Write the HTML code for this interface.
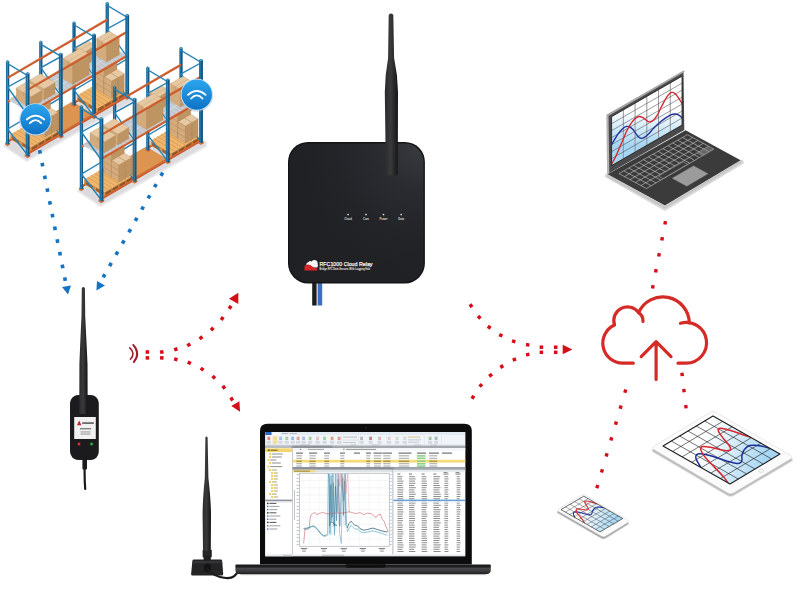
<!DOCTYPE html>
<html><head><meta charset="utf-8"><title>RFC1000 Cloud Relay system</title>
<style>
html,body{margin:0;padding:0;background:#fff;}
body{width:800px;height:600px;overflow:hidden;font-family:"Liberation Sans",sans-serif;}
svg{display:block}
text{font-family:"Liberation Sans",sans-serif;}
</style></head><body>
<svg width="800" height="600" viewBox="0 0 800 600">
<rect width="800" height="600" fill="#ffffff"/>
<defs>
<linearGradient id="antG" x1="0" x2="1" y1="0" y2="0"><stop offset="0" stop-color="#2b2b2d"/><stop offset="0.45" stop-color="#3a3a3c"/><stop offset="1" stop-color="#151516"/></linearGradient>
<linearGradient id="rtG" x1="0" x2="1" y1="0" y2="0"><stop offset="0" stop-color="#1b1b1d"/><stop offset="0.93" stop-color="#1d1d1f"/><stop offset="1" stop-color="#2c2c2e"/></linearGradient>
<radialGradient id="rtR" cx="0.97" cy="0.03" r="0.9"><stop offset="0" stop-color="#393a40"/><stop offset="0.35" stop-color="#2a2b30"/><stop offset="0.7" stop-color="#232428"/><stop offset="1" stop-color="#202125"/></radialGradient>
<linearGradient id="bcG" x1="0" x2="0" y1="0" y2="1"><stop offset="0" stop-color="#2ca6ee"/><stop offset="1" stop-color="#0e72c6"/></linearGradient>
</defs>
<path d="M84.6,458 L84.6,472 Q84.6,482 85.2,489" fill="none" stroke="#1a1a1a" stroke-width="2.2" stroke-linecap="round"/>
<rect x="82.4" y="458" width="4.6" height="11.5" rx="1" fill="#1c1c1c"/>
<path d="M70,404 Q70,399 74,396.2 Q76,395 79,395 L90,395 Q93,395 95,396.2 Q98.8,399 98.8,404 L98.8,451 Q98.8,456 95,458.8 Q93,460 90,460 L79,460 Q76,460 74,458.8 Q70,456 70,451 Z" fill="#1b1b1d"/>
<path d="M81.8,288.2 Q83.3,285.8 84.9,288.2 L85.2,316 Q86.6,343 87.5,364 L87.7,414 L79.3,414 L79.4,364 Q80.2,343 81.5,316 Z" fill="url(#antG)"/>
<rect x="74.2" y="417" width="21.6" height="22" fill="#f1f1f2"/>
<polygon points="77,425.2 79.2,420.6 81.4,425.2" fill="#c8202a"/>
<rect x="82.2" y="422.2" width="11.6" height="1.8" fill="#555" opacity="0.85"/>
<rect x="80" y="428" width="11" height="1.4" fill="#666" opacity="0.8"/>
<rect x="80.5" y="431.5" width="10" height="0.9" fill="#8a8a8a"/>
<rect x="80.5" y="433.6" width="10" height="0.9" fill="#8a8a8a"/>
<circle cx="79" cy="444" r="2.1" fill="#7a1a1f" opacity="0.6"/><circle cx="79" cy="444" r="1.2" fill="#e0303a"/>
<circle cx="91.6" cy="444" r="2.1" fill="#1a5a25" opacity="0.6"/><circle cx="91.6" cy="444" r="1.2" fill="#3ab04a"/>
<rect x="312.2" y="276" width="4.4" height="29.5" fill="#1d1d1d"/>
<rect x="317.6" y="276" width="4.6" height="29.5" fill="#3c6fbf"/>
<rect x="288" y="142" width="136.9" height="141.4" rx="20" ry="20" fill="#141416"/><rect x="289.4" y="143.4" width="134.1" height="138.6" rx="18.8" ry="18.8" fill="url(#rtR)"/>
<path d="M388.7,15 Q391,12.2 393.3,15 L394.1,58 Q397.8,75 398,92 L397.8,173.5 Q397.8,175.5 395.8,175.5 L388,175.5 Q386,175.5 385.9,173.5 L384.8,92 Q385,75 388.1,58 Z" fill="url(#antG)"/>
<circle cx="348.1" cy="214.5" r="0.85" fill="#e8e8e8"/>
<text x="348.1" y="219.5" font-size="2.7" fill="#dcdcdc" text-anchor="middle" font-weight="bold">Cloud</text>
<circle cx="366" cy="214.5" r="0.85" fill="#e8e8e8"/>
<text x="366" y="219.5" font-size="2.7" fill="#dcdcdc" text-anchor="middle" font-weight="bold">Com</text>
<circle cx="383.5" cy="214.5" r="0.85" fill="#e8e8e8"/>
<text x="383.5" y="219.5" font-size="2.7" fill="#dcdcdc" text-anchor="middle" font-weight="bold">Power</text>
<circle cx="401.2" cy="214.5" r="0.85" fill="#e8e8e8"/>
<text x="401.2" y="219.5" font-size="2.7" fill="#dcdcdc" text-anchor="middle" font-weight="bold">Data</text>
<path d="M306.6,266.6 Q305.4,263 308.4,262.2 Q309.6,260.4 311.6,261.5 Q313.2,259.6 315.7,260.3 Q318.2,261.5 317.6,264.2 Q318.8,265.8 317.2,267.4 L309,267.4 Z" fill="#f4f4f4"/>
<path d="M304.5,270.6 L304.5,266.2 Q305.6,264.4 308.2,264.5 Q311,264.8 313,267 Q315,268.7 317.2,268 L317.2,270.6 Z" fill="#d8232b"/>
<text x="319.5" y="265.7" font-size="6.1" fill="#f4f4f4" stroke="#f4f4f4" stroke-width="0.25" textLength="53" lengthAdjust="spacingAndGlyphs">RFC1000 Cloud Relay</text>
<text x="319.5" y="269.5" font-size="2.9" fill="#ececec" textLength="50.5" lengthAdjust="spacingAndGlyphs" font-weight="bold">Bridge RFC Data Sensors With Logging Hub</text>
<path d="M193.8,559.6 L220.8,559.6 Q222,559.6 222.2,561 L223.2,574 Q223.3,575.6 221.8,575.6 L192.4,575.6 Q191,575.6 191.1,574 L192.4,561 Q192.6,559.6 193.8,559.6 Z" fill="#242425"/>
<path d="M192.6,561 L222,561 L222.2,563.2 L192.4,563.2 Z" fill="#343436"/>
<rect x="202.6" y="549.5" width="9.2" height="8" rx="1" fill="#252527"/>
<rect x="203.6" y="556" width="7.2" height="4.5" fill="#1f1f20"/>
<path d="M205.4,437.5 Q206.5,435.6 207.6,437.5 L208.4,478 Q210.9,500 211,515 L210.8,549 Q210.8,551 208.8,551 L205,551 Q203,551 203,549 L202.6,515 Q202.6,500 204.8,478 Z" fill="url(#antG)"/>
<ellipse cx="207.4" cy="568" rx="3.6" ry="4.2" fill="#131314"/>
<path d="M207.2,568.5 Q211,574.5 220,577 Q230,579.6 234.2,576.2 Q237.2,573.6 238.6,570.6" fill="none" stroke="#1b1b1c" stroke-width="2.3" stroke-linecap="round"/>
<polygon points="2.60,146.00 26.60,162.00 133.20,101.80 133.20,96.80 107.20,85.80" fill="#e9e9eb" />
<polygon points="4.60,145.50 26.60,160.00 131.20,100.80 130.20,96.80 107.20,85.80" fill="#dcdcdf" />
<line x1="7.60" y1="141.70" x2="107.20" y2="83.50" stroke="#c9592a" stroke-width="2.2" />
<line x1="7.60" y1="140.90" x2="107.20" y2="82.70" stroke="#de7946" stroke-width="0.6" />
<polygon points="76.66,100.15 97.46,112.63 97.46,108.13 76.66,95.65" fill="#d9924a" />
<polygon points="97.46,112.63 125.34,96.33 125.34,91.83 97.46,108.13" fill="#c27c38" />
<polygon points="76.66,95.65 104.54,79.35 125.34,91.83 97.46,108.13" fill="#eeb56c" />
<line x1="80.14" y1="93.61" x2="100.94" y2="106.09" stroke="#cf8d45" stroke-width="0.55" />
<line x1="83.63" y1="91.57" x2="104.43" y2="104.05" stroke="#cf8d45" stroke-width="0.55" />
<line x1="87.11" y1="89.54" x2="107.91" y2="102.02" stroke="#cf8d45" stroke-width="0.55" />
<line x1="90.60" y1="87.50" x2="111.40" y2="99.98" stroke="#cf8d45" stroke-width="0.55" />
<line x1="94.09" y1="85.46" x2="114.89" y2="97.94" stroke="#cf8d45" stroke-width="0.55" />
<line x1="97.57" y1="83.43" x2="118.37" y2="95.91" stroke="#cf8d45" stroke-width="0.55" />
<line x1="101.06" y1="81.39" x2="121.86" y2="93.87" stroke="#cf8d45" stroke-width="0.55" />
<polygon points="98.29,111.84 103.59,108.74 103.59,105.74 98.29,108.84" fill="#8a5424" />
<polygon points="105.26,107.77 110.56,104.67 110.56,101.67 105.26,104.77" fill="#8a5424" />
<polygon points="112.24,103.69 117.54,100.59 117.54,97.59 112.24,100.69" fill="#8a5424" />
<polygon points="119.21,99.62 124.51,96.52 124.51,93.52 119.21,96.62" fill="#8a5424" />
<polygon points="78.22,100.78 85.50,105.15 85.50,102.15 78.22,97.78" fill="#9a6330" />
<polygon points="88.62,107.02 95.90,111.39 95.90,108.39 88.62,104.02" fill="#9a6330" />
<polygon points="42.46,120.63 62.46,132.63 92.34,115.17 92.34,113.77 72.34,101.77 42.46,119.23" fill="#c47a3a" />
<polygon points="42.46,119.23 72.34,101.77 92.34,113.77 62.46,131.23" fill="#dc9450" />
<polygon points="10.26,138.95 31.06,151.43 31.06,146.93 10.26,134.45" fill="#d9924a" />
<polygon points="31.06,151.43 58.94,135.13 58.94,130.63 31.06,146.93" fill="#c27c38" />
<polygon points="10.26,134.45 38.14,118.15 58.94,130.63 31.06,146.93" fill="#eeb56c" />
<line x1="13.74" y1="132.41" x2="34.54" y2="144.89" stroke="#cf8d45" stroke-width="0.55" />
<line x1="17.23" y1="130.37" x2="38.03" y2="142.85" stroke="#cf8d45" stroke-width="0.55" />
<line x1="20.71" y1="128.34" x2="41.51" y2="140.82" stroke="#cf8d45" stroke-width="0.55" />
<line x1="24.20" y1="126.30" x2="45.00" y2="138.78" stroke="#cf8d45" stroke-width="0.55" />
<line x1="27.69" y1="124.26" x2="48.49" y2="136.74" stroke="#cf8d45" stroke-width="0.55" />
<line x1="31.17" y1="122.23" x2="51.97" y2="134.71" stroke="#cf8d45" stroke-width="0.55" />
<line x1="34.66" y1="120.19" x2="55.46" y2="132.67" stroke="#cf8d45" stroke-width="0.55" />
<polygon points="31.89,150.64 37.19,147.54 37.19,144.54 31.89,147.64" fill="#8a5424" />
<polygon points="38.86,146.57 44.16,143.47 44.16,140.47 38.86,143.57" fill="#8a5424" />
<polygon points="45.84,142.49 51.14,139.39 51.14,136.39 45.84,139.49" fill="#8a5424" />
<polygon points="52.81,138.42 58.11,135.32 58.11,132.32 52.81,135.42" fill="#8a5424" />
<polygon points="11.82,139.58 19.10,143.95 19.10,140.95 11.82,136.58" fill="#9a6330" />
<polygon points="22.22,145.82 29.50,150.19 29.50,147.19 22.22,142.82" fill="#9a6330" />
<polygon points="104.75,86.20 107.20,87.70 109.65,86.20 109.65,84.20 107.20,85.60 104.75,84.20" fill="#d0622d" />
<polygon points="104.75,86.20 107.20,87.70 107.20,85.60 104.75,84.20" fill="#e07a45" />
<polygon points="105.55,85.30 107.20,86.30 107.20,3.80 105.55,2.80" fill="#1f74a6" />
<polygon points="107.20,86.30 108.85,85.30 108.85,2.80 107.20,3.80" fill="#145681" />
<polygon points="105.55,2.80 107.20,3.80 108.85,2.80 107.20,1.80" fill="#3f8fbe" />
<rect x="106.13" y="80.80" width="0.7" height="1.0" fill="#1a5e88" opacity="0.7"/>
<rect x="106.13" y="77.60" width="0.7" height="1.0" fill="#1a5e88" opacity="0.7"/>
<rect x="106.13" y="74.40" width="0.7" height="1.0" fill="#1a5e88" opacity="0.7"/>
<rect x="106.13" y="71.20" width="0.7" height="1.0" fill="#1a5e88" opacity="0.7"/>
<rect x="106.13" y="68.00" width="0.7" height="1.0" fill="#1a5e88" opacity="0.7"/>
<rect x="106.13" y="64.80" width="0.7" height="1.0" fill="#1a5e88" opacity="0.7"/>
<rect x="106.13" y="61.60" width="0.7" height="1.0" fill="#1a5e88" opacity="0.7"/>
<rect x="106.13" y="58.40" width="0.7" height="1.0" fill="#1a5e88" opacity="0.7"/>
<rect x="106.13" y="55.20" width="0.7" height="1.0" fill="#1a5e88" opacity="0.7"/>
<rect x="106.13" y="52.00" width="0.7" height="1.0" fill="#1a5e88" opacity="0.7"/>
<rect x="106.13" y="48.80" width="0.7" height="1.0" fill="#1a5e88" opacity="0.7"/>
<rect x="106.13" y="45.60" width="0.7" height="1.0" fill="#1a5e88" opacity="0.7"/>
<rect x="106.13" y="42.40" width="0.7" height="1.0" fill="#1a5e88" opacity="0.7"/>
<rect x="106.13" y="39.20" width="0.7" height="1.0" fill="#1a5e88" opacity="0.7"/>
<rect x="106.13" y="36.00" width="0.7" height="1.0" fill="#1a5e88" opacity="0.7"/>
<rect x="106.13" y="32.80" width="0.7" height="1.0" fill="#1a5e88" opacity="0.7"/>
<rect x="106.13" y="29.60" width="0.7" height="1.0" fill="#1a5e88" opacity="0.7"/>
<rect x="106.13" y="26.40" width="0.7" height="1.0" fill="#1a5e88" opacity="0.7"/>
<rect x="106.13" y="23.20" width="0.7" height="1.0" fill="#1a5e88" opacity="0.7"/>
<rect x="106.13" y="20.00" width="0.7" height="1.0" fill="#1a5e88" opacity="0.7"/>
<rect x="106.13" y="16.80" width="0.7" height="1.0" fill="#1a5e88" opacity="0.7"/>
<rect x="106.13" y="13.60" width="0.7" height="1.0" fill="#1a5e88" opacity="0.7"/>
<rect x="106.13" y="10.40" width="0.7" height="1.0" fill="#1a5e88" opacity="0.7"/>
<rect x="106.13" y="7.20" width="0.7" height="1.0" fill="#1a5e88" opacity="0.7"/>
<polygon points="71.55,105.60 74.00,107.10 76.45,105.60 76.45,103.60 74.00,105.00 71.55,103.60" fill="#d0622d" />
<polygon points="71.55,105.60 74.00,107.10 74.00,105.00 71.55,103.60" fill="#e07a45" />
<polygon points="72.35,104.70 74.00,105.70 74.00,23.20 72.35,22.20" fill="#1f74a6" />
<polygon points="74.00,105.70 75.65,104.70 75.65,22.20 74.00,23.20" fill="#145681" />
<polygon points="72.35,22.20 74.00,23.20 75.65,22.20 74.00,21.20" fill="#3f8fbe" />
<rect x="72.93" y="100.20" width="0.7" height="1.0" fill="#1a5e88" opacity="0.7"/>
<rect x="72.93" y="97.00" width="0.7" height="1.0" fill="#1a5e88" opacity="0.7"/>
<rect x="72.93" y="93.80" width="0.7" height="1.0" fill="#1a5e88" opacity="0.7"/>
<rect x="72.93" y="90.60" width="0.7" height="1.0" fill="#1a5e88" opacity="0.7"/>
<rect x="72.93" y="87.40" width="0.7" height="1.0" fill="#1a5e88" opacity="0.7"/>
<rect x="72.93" y="84.20" width="0.7" height="1.0" fill="#1a5e88" opacity="0.7"/>
<rect x="72.93" y="81.00" width="0.7" height="1.0" fill="#1a5e88" opacity="0.7"/>
<rect x="72.93" y="77.80" width="0.7" height="1.0" fill="#1a5e88" opacity="0.7"/>
<rect x="72.93" y="74.60" width="0.7" height="1.0" fill="#1a5e88" opacity="0.7"/>
<rect x="72.93" y="71.40" width="0.7" height="1.0" fill="#1a5e88" opacity="0.7"/>
<rect x="72.93" y="68.20" width="0.7" height="1.0" fill="#1a5e88" opacity="0.7"/>
<rect x="72.93" y="65.00" width="0.7" height="1.0" fill="#1a5e88" opacity="0.7"/>
<rect x="72.93" y="61.80" width="0.7" height="1.0" fill="#1a5e88" opacity="0.7"/>
<rect x="72.93" y="58.60" width="0.7" height="1.0" fill="#1a5e88" opacity="0.7"/>
<rect x="72.93" y="55.40" width="0.7" height="1.0" fill="#1a5e88" opacity="0.7"/>
<rect x="72.93" y="52.20" width="0.7" height="1.0" fill="#1a5e88" opacity="0.7"/>
<rect x="72.93" y="49.00" width="0.7" height="1.0" fill="#1a5e88" opacity="0.7"/>
<rect x="72.93" y="45.80" width="0.7" height="1.0" fill="#1a5e88" opacity="0.7"/>
<rect x="72.93" y="42.60" width="0.7" height="1.0" fill="#1a5e88" opacity="0.7"/>
<rect x="72.93" y="39.40" width="0.7" height="1.0" fill="#1a5e88" opacity="0.7"/>
<rect x="72.93" y="36.20" width="0.7" height="1.0" fill="#1a5e88" opacity="0.7"/>
<rect x="72.93" y="33.00" width="0.7" height="1.0" fill="#1a5e88" opacity="0.7"/>
<rect x="72.93" y="29.80" width="0.7" height="1.0" fill="#1a5e88" opacity="0.7"/>
<rect x="72.93" y="26.60" width="0.7" height="1.0" fill="#1a5e88" opacity="0.7"/>
<polygon points="38.35,125.00 40.80,126.50 43.25,125.00 43.25,123.00 40.80,124.40 38.35,123.00" fill="#d0622d" />
<polygon points="38.35,125.00 40.80,126.50 40.80,124.40 38.35,123.00" fill="#e07a45" />
<polygon points="39.15,124.10 40.80,125.10 40.80,42.60 39.15,41.60" fill="#1f74a6" />
<polygon points="40.80,125.10 42.45,124.10 42.45,41.60 40.80,42.60" fill="#145681" />
<polygon points="39.15,41.60 40.80,42.60 42.45,41.60 40.80,40.60" fill="#3f8fbe" />
<rect x="39.73" y="119.60" width="0.7" height="1.0" fill="#1a5e88" opacity="0.7"/>
<rect x="39.73" y="116.40" width="0.7" height="1.0" fill="#1a5e88" opacity="0.7"/>
<rect x="39.73" y="113.20" width="0.7" height="1.0" fill="#1a5e88" opacity="0.7"/>
<rect x="39.73" y="110.00" width="0.7" height="1.0" fill="#1a5e88" opacity="0.7"/>
<rect x="39.73" y="106.80" width="0.7" height="1.0" fill="#1a5e88" opacity="0.7"/>
<rect x="39.73" y="103.60" width="0.7" height="1.0" fill="#1a5e88" opacity="0.7"/>
<rect x="39.73" y="100.40" width="0.7" height="1.0" fill="#1a5e88" opacity="0.7"/>
<rect x="39.73" y="97.20" width="0.7" height="1.0" fill="#1a5e88" opacity="0.7"/>
<rect x="39.73" y="94.00" width="0.7" height="1.0" fill="#1a5e88" opacity="0.7"/>
<rect x="39.73" y="90.80" width="0.7" height="1.0" fill="#1a5e88" opacity="0.7"/>
<rect x="39.73" y="87.60" width="0.7" height="1.0" fill="#1a5e88" opacity="0.7"/>
<rect x="39.73" y="84.40" width="0.7" height="1.0" fill="#1a5e88" opacity="0.7"/>
<rect x="39.73" y="81.20" width="0.7" height="1.0" fill="#1a5e88" opacity="0.7"/>
<rect x="39.73" y="78.00" width="0.7" height="1.0" fill="#1a5e88" opacity="0.7"/>
<rect x="39.73" y="74.80" width="0.7" height="1.0" fill="#1a5e88" opacity="0.7"/>
<rect x="39.73" y="71.60" width="0.7" height="1.0" fill="#1a5e88" opacity="0.7"/>
<rect x="39.73" y="68.40" width="0.7" height="1.0" fill="#1a5e88" opacity="0.7"/>
<rect x="39.73" y="65.20" width="0.7" height="1.0" fill="#1a5e88" opacity="0.7"/>
<rect x="39.73" y="62.00" width="0.7" height="1.0" fill="#1a5e88" opacity="0.7"/>
<rect x="39.73" y="58.80" width="0.7" height="1.0" fill="#1a5e88" opacity="0.7"/>
<rect x="39.73" y="55.60" width="0.7" height="1.0" fill="#1a5e88" opacity="0.7"/>
<rect x="39.73" y="52.40" width="0.7" height="1.0" fill="#1a5e88" opacity="0.7"/>
<rect x="39.73" y="49.20" width="0.7" height="1.0" fill="#1a5e88" opacity="0.7"/>
<rect x="39.73" y="46.00" width="0.7" height="1.0" fill="#1a5e88" opacity="0.7"/>
<polygon points="5.15,144.40 7.60,145.90 10.05,144.40 10.05,142.40 7.60,143.80 5.15,142.40" fill="#d0622d" />
<polygon points="5.15,144.40 7.60,145.90 7.60,143.80 5.15,142.40" fill="#e07a45" />
<polygon points="5.95,143.50 7.60,144.50 7.60,62.00 5.95,61.00" fill="#1f74a6" />
<polygon points="7.60,144.50 9.25,143.50 9.25,61.00 7.60,62.00" fill="#145681" />
<polygon points="5.95,61.00 7.60,62.00 9.25,61.00 7.60,60.00" fill="#3f8fbe" />
<rect x="6.53" y="139.00" width="0.7" height="1.0" fill="#1a5e88" opacity="0.7"/>
<rect x="6.53" y="135.80" width="0.7" height="1.0" fill="#1a5e88" opacity="0.7"/>
<rect x="6.53" y="132.60" width="0.7" height="1.0" fill="#1a5e88" opacity="0.7"/>
<rect x="6.53" y="129.40" width="0.7" height="1.0" fill="#1a5e88" opacity="0.7"/>
<rect x="6.53" y="126.20" width="0.7" height="1.0" fill="#1a5e88" opacity="0.7"/>
<rect x="6.53" y="123.00" width="0.7" height="1.0" fill="#1a5e88" opacity="0.7"/>
<rect x="6.53" y="119.80" width="0.7" height="1.0" fill="#1a5e88" opacity="0.7"/>
<rect x="6.53" y="116.60" width="0.7" height="1.0" fill="#1a5e88" opacity="0.7"/>
<rect x="6.53" y="113.40" width="0.7" height="1.0" fill="#1a5e88" opacity="0.7"/>
<rect x="6.53" y="110.20" width="0.7" height="1.0" fill="#1a5e88" opacity="0.7"/>
<rect x="6.53" y="107.00" width="0.7" height="1.0" fill="#1a5e88" opacity="0.7"/>
<rect x="6.53" y="103.80" width="0.7" height="1.0" fill="#1a5e88" opacity="0.7"/>
<rect x="6.53" y="100.60" width="0.7" height="1.0" fill="#1a5e88" opacity="0.7"/>
<rect x="6.53" y="97.40" width="0.7" height="1.0" fill="#1a5e88" opacity="0.7"/>
<rect x="6.53" y="94.20" width="0.7" height="1.0" fill="#1a5e88" opacity="0.7"/>
<rect x="6.53" y="91.00" width="0.7" height="1.0" fill="#1a5e88" opacity="0.7"/>
<rect x="6.53" y="87.80" width="0.7" height="1.0" fill="#1a5e88" opacity="0.7"/>
<rect x="6.53" y="84.60" width="0.7" height="1.0" fill="#1a5e88" opacity="0.7"/>
<rect x="6.53" y="81.40" width="0.7" height="1.0" fill="#1a5e88" opacity="0.7"/>
<rect x="6.53" y="78.20" width="0.7" height="1.0" fill="#1a5e88" opacity="0.7"/>
<rect x="6.53" y="75.00" width="0.7" height="1.0" fill="#1a5e88" opacity="0.7"/>
<rect x="6.53" y="71.80" width="0.7" height="1.0" fill="#1a5e88" opacity="0.7"/>
<rect x="6.53" y="68.60" width="0.7" height="1.0" fill="#1a5e88" opacity="0.7"/>
<rect x="6.53" y="65.40" width="0.7" height="1.0" fill="#1a5e88" opacity="0.7"/>
<line x1="7.60" y1="77.90" x2="107.20" y2="19.70" stroke="#c9592a" stroke-width="2.2" />
<line x1="7.60" y1="77.10" x2="107.20" y2="18.90" stroke="#de7946" stroke-width="0.6" />
<line x1="7.60" y1="101.90" x2="107.20" y2="43.70" stroke="#c9592a" stroke-width="2.2" />
<line x1="7.60" y1="101.10" x2="107.20" y2="42.90" stroke="#de7946" stroke-width="0.6" />
<line x1="107.20" y1="28.80" x2="127.20" y2="17.80" stroke="#2a88bd" stroke-width="1.3" stroke-linecap="butt"/>
<line x1="107.20" y1="29.30" x2="127.20" y2="18.30" stroke="#1d6e9e" stroke-width="0.4" />
<line x1="107.20" y1="28.80" x2="127.20" y2="56.80" stroke="#2a88bd" stroke-width="1.3" stroke-linecap="butt"/>
<line x1="107.20" y1="29.30" x2="127.20" y2="57.30" stroke="#1d6e9e" stroke-width="0.4" />
<line x1="107.20" y1="70.80" x2="127.20" y2="58.80" stroke="#2a88bd" stroke-width="1.3" stroke-linecap="butt"/>
<line x1="107.20" y1="71.30" x2="127.20" y2="59.30" stroke="#1d6e9e" stroke-width="0.4" />
<line x1="107.20" y1="70.80" x2="127.20" y2="96.80" stroke="#2a88bd" stroke-width="1.3" stroke-linecap="butt"/>
<line x1="107.20" y1="71.30" x2="127.20" y2="97.30" stroke="#1d6e9e" stroke-width="0.4" />
<line x1="107.20" y1="5.30" x2="127.20" y2="17.30" stroke="#2a88bd" stroke-width="1.3" stroke-linecap="butt"/>
<line x1="107.20" y1="5.80" x2="127.20" y2="17.80" stroke="#1d6e9e" stroke-width="0.4" />
<polygon points="102.57,85.24 110.27,89.86 110.27,84.16 102.57,79.54" fill="#d3ab7c" stroke="#a97f50" stroke-width="0.3" stroke-linejoin="round"/>
<polygon points="110.27,89.86 116.58,86.18 116.58,80.48 110.27,84.16" fill="#bf9463" stroke="#a97f50" stroke-width="0.3" stroke-linejoin="round"/>
<polygon points="102.57,79.54 108.88,75.86 116.58,80.48 110.27,84.16" fill="#e6c9a3" stroke="#a97f50" stroke-width="0.3" stroke-linejoin="round"/>
<polygon points="110.27,89.86 117.97,94.48 117.97,88.78 110.27,84.16" fill="#d3ab7c" stroke="#a97f50" stroke-width="0.3" stroke-linejoin="round"/>
<polygon points="117.97,94.48 124.28,90.80 124.28,85.10 117.97,88.78" fill="#bf9463" stroke="#a97f50" stroke-width="0.3" stroke-linejoin="round"/>
<polygon points="110.27,84.16 116.58,80.48 124.28,85.10 117.97,88.78" fill="#e6c9a3" stroke="#a97f50" stroke-width="0.3" stroke-linejoin="round"/>
<polygon points="96.26,88.93 103.96,93.55 103.96,87.85 96.26,83.23" fill="#d3ab7c" stroke="#a97f50" stroke-width="0.3" stroke-linejoin="round"/>
<polygon points="103.96,93.55 110.27,89.86 110.27,84.16 103.96,87.85" fill="#bf9463" stroke="#a97f50" stroke-width="0.3" stroke-linejoin="round"/>
<polygon points="96.26,83.23 102.57,79.54 110.27,84.16 103.96,87.85" fill="#e6c9a3" stroke="#a97f50" stroke-width="0.3" stroke-linejoin="round"/>
<polygon points="103.96,93.55 111.66,98.17 111.66,92.47 103.96,87.85" fill="#d3ab7c" stroke="#a97f50" stroke-width="0.3" stroke-linejoin="round"/>
<polygon points="111.66,98.17 117.97,94.48 117.97,88.78 111.66,92.47" fill="#bf9463" stroke="#a97f50" stroke-width="0.3" stroke-linejoin="round"/>
<polygon points="103.96,87.85 110.27,84.16 117.97,88.78 111.66,92.47" fill="#e6c9a3" stroke="#a97f50" stroke-width="0.3" stroke-linejoin="round"/>
<polygon points="102.57,79.54 110.27,84.16 110.27,78.46 102.57,73.84" fill="#d3ab7c" stroke="#a97f50" stroke-width="0.3" stroke-linejoin="round"/>
<polygon points="110.27,84.16 116.58,80.48 116.58,74.78 110.27,78.46" fill="#bf9463" stroke="#a97f50" stroke-width="0.3" stroke-linejoin="round"/>
<polygon points="102.57,73.84 108.88,70.16 116.58,74.78 110.27,78.46" fill="#e6c9a3" stroke="#a97f50" stroke-width="0.3" stroke-linejoin="round"/>
<polygon points="110.27,84.16 117.97,88.78 117.97,83.08 110.27,78.46" fill="#d3ab7c" stroke="#a97f50" stroke-width="0.3" stroke-linejoin="round"/>
<polygon points="117.97,88.78 124.28,85.10 124.28,79.40 117.97,83.08" fill="#bf9463" stroke="#a97f50" stroke-width="0.3" stroke-linejoin="round"/>
<polygon points="110.27,78.46 116.58,74.78 124.28,79.40 117.97,83.08" fill="#e6c9a3" stroke="#a97f50" stroke-width="0.3" stroke-linejoin="round"/>
<polygon points="96.26,83.23 103.96,87.85 103.96,82.15 96.26,77.53" fill="#d3ab7c" stroke="#a97f50" stroke-width="0.3" stroke-linejoin="round"/>
<polygon points="103.96,87.85 110.27,84.16 110.27,78.46 103.96,82.15" fill="#bf9463" stroke="#a97f50" stroke-width="0.3" stroke-linejoin="round"/>
<polygon points="96.26,77.53 102.57,73.84 110.27,78.46 103.96,82.15" fill="#e6c9a3" stroke="#a97f50" stroke-width="0.3" stroke-linejoin="round"/>
<polygon points="103.96,87.85 111.66,92.47 111.66,86.77 103.96,82.15" fill="#d3ab7c" stroke="#a97f50" stroke-width="0.3" stroke-linejoin="round"/>
<polygon points="111.66,92.47 117.97,88.78 117.97,83.08 111.66,86.77" fill="#bf9463" stroke="#a97f50" stroke-width="0.3" stroke-linejoin="round"/>
<polygon points="103.96,82.15 110.27,78.46 117.97,83.08 111.66,86.77" fill="#e6c9a3" stroke="#a97f50" stroke-width="0.3" stroke-linejoin="round"/>
<polygon points="102.57,73.84 110.27,78.46 110.27,72.76 102.57,68.14" fill="#d3ab7c" stroke="#a97f50" stroke-width="0.3" stroke-linejoin="round"/>
<polygon points="110.27,78.46 116.58,74.78 116.58,69.08 110.27,72.76" fill="#bf9463" stroke="#a97f50" stroke-width="0.3" stroke-linejoin="round"/>
<polygon points="102.57,68.14 108.88,64.46 116.58,69.08 110.27,72.76" fill="#e6c9a3" stroke="#a97f50" stroke-width="0.3" stroke-linejoin="round"/>
<polygon points="110.27,78.46 117.97,83.08 117.97,77.38 110.27,72.76" fill="#d3ab7c" stroke="#a97f50" stroke-width="0.3" stroke-linejoin="round"/>
<polygon points="117.97,83.08 124.28,79.40 124.28,73.70 117.97,77.38" fill="#bf9463" stroke="#a97f50" stroke-width="0.3" stroke-linejoin="round"/>
<polygon points="110.27,72.76 116.58,69.08 124.28,73.70 117.97,77.38" fill="#e6c9a3" stroke="#a97f50" stroke-width="0.3" stroke-linejoin="round"/>
<polygon points="96.26,77.53 103.96,82.15 103.96,76.45 96.26,71.83" fill="#d3ab7c" stroke="#a97f50" stroke-width="0.3" stroke-linejoin="round"/>
<polygon points="103.96,82.15 110.27,78.46 110.27,72.76 103.96,76.45" fill="#bf9463" stroke="#a97f50" stroke-width="0.3" stroke-linejoin="round"/>
<polygon points="96.26,71.83 102.57,68.14 110.27,72.76 103.96,76.45" fill="#e6c9a3" stroke="#a97f50" stroke-width="0.3" stroke-linejoin="round"/>
<polygon points="103.96,82.15 111.66,86.77 111.66,81.07 103.96,76.45" fill="#d3ab7c" stroke="#a97f50" stroke-width="0.3" stroke-linejoin="round"/>
<polygon points="111.66,86.77 117.97,83.08 117.97,77.38 111.66,81.07" fill="#bf9463" stroke="#a97f50" stroke-width="0.3" stroke-linejoin="round"/>
<polygon points="103.96,76.45 110.27,72.76 117.97,77.38 111.66,81.07" fill="#e6c9a3" stroke="#a97f50" stroke-width="0.3" stroke-linejoin="round"/>
<polygon points="96.26,71.83 104.26,76.63 104.26,70.23 96.26,65.43" fill="#d3ab7c" stroke="#a97f50" stroke-width="0.3" stroke-linejoin="round"/>
<polygon points="104.26,76.63 116.88,69.26 116.88,62.86 104.26,70.23" fill="#bf9463" stroke="#a97f50" stroke-width="0.3" stroke-linejoin="round"/>
<polygon points="96.26,65.43 108.88,58.06 116.88,62.86 104.26,70.23" fill="#e6c9a3" stroke="#a97f50" stroke-width="0.3" stroke-linejoin="round"/>
<polygon points="75.00,61.12 106.20,42.88 126.20,54.88 95.00,73.12" fill="#c9cdd4" />
<line x1="78.46" y1="59.09" x2="98.46" y2="71.09" stroke="#9fa5ae" stroke-width="0.35" />
<line x1="81.93" y1="57.07" x2="101.93" y2="69.07" stroke="#9fa5ae" stroke-width="0.35" />
<line x1="85.40" y1="55.04" x2="105.40" y2="67.04" stroke="#9fa5ae" stroke-width="0.35" />
<line x1="88.87" y1="53.01" x2="108.87" y2="65.01" stroke="#9fa5ae" stroke-width="0.35" />
<line x1="92.33" y1="50.99" x2="112.33" y2="62.99" stroke="#9fa5ae" stroke-width="0.35" />
<line x1="95.80" y1="48.96" x2="115.80" y2="60.96" stroke="#9fa5ae" stroke-width="0.35" />
<line x1="99.27" y1="46.93" x2="119.27" y2="58.93" stroke="#9fa5ae" stroke-width="0.35" />
<line x1="102.74" y1="44.91" x2="122.74" y2="56.91" stroke="#9fa5ae" stroke-width="0.35" />
<line x1="81.60" y1="65.08" x2="112.80" y2="46.84" stroke="#eef0f3" stroke-width="0.5" />
<line x1="88.20" y1="69.04" x2="119.40" y2="50.80" stroke="#eef0f3" stroke-width="0.5" />
<polygon points="76.06,60.97 84.06,65.77 84.06,52.27 76.06,47.47" fill="#d3ab7c" stroke="#b18a5c" stroke-width="0.3" stroke-linejoin="round"/>
<polygon points="84.06,65.77 95.68,58.98 95.68,45.48 84.06,52.27" fill="#bf9463" stroke="#b18a5c" stroke-width="0.3" stroke-linejoin="round"/>
<polygon points="76.06,47.47 87.68,40.68 95.68,45.48 84.06,52.27" fill="#e6c9a3" stroke="#b18a5c" stroke-width="0.3" stroke-linejoin="round"/>
<line x1="80.06" y1="49.87" x2="91.68" y2="43.08" stroke="#c9a77a" stroke-width="0.5" />
<line x1="80.06" y1="49.87" x2="80.06" y2="54.60" stroke="#b88f5e" stroke-width="0.5" />
<polygon points="96.67,56.03 106.67,62.03 106.67,44.53 96.67,38.53" fill="#d3ab7c" stroke="#b18a5c" stroke-width="0.3" stroke-linejoin="round"/>
<polygon points="106.67,62.03 119.28,54.66 119.28,37.16 106.67,44.53" fill="#bf9463" stroke="#b18a5c" stroke-width="0.3" stroke-linejoin="round"/>
<polygon points="96.67,38.53 109.28,31.16 119.28,37.16 106.67,44.53" fill="#e6c9a3" stroke="#b18a5c" stroke-width="0.3" stroke-linejoin="round"/>
<line x1="101.67" y1="41.53" x2="114.28" y2="34.16" stroke="#c9a77a" stroke-width="0.5" />
<line x1="101.67" y1="41.53" x2="101.67" y2="47.66" stroke="#b88f5e" stroke-width="0.5" />
<line x1="74.00" y1="48.20" x2="94.00" y2="37.20" stroke="#2a88bd" stroke-width="1.3" stroke-linecap="butt"/>
<line x1="74.00" y1="48.70" x2="94.00" y2="37.70" stroke="#1d6e9e" stroke-width="0.4" />
<line x1="74.00" y1="48.20" x2="94.00" y2="76.20" stroke="#2a88bd" stroke-width="1.3" stroke-linecap="butt"/>
<line x1="74.00" y1="48.70" x2="94.00" y2="76.70" stroke="#1d6e9e" stroke-width="0.4" />
<line x1="74.00" y1="90.20" x2="94.00" y2="78.20" stroke="#2a88bd" stroke-width="1.3" stroke-linecap="butt"/>
<line x1="74.00" y1="90.70" x2="94.00" y2="78.70" stroke="#1d6e9e" stroke-width="0.4" />
<line x1="74.00" y1="90.20" x2="94.00" y2="116.20" stroke="#2a88bd" stroke-width="1.3" stroke-linecap="butt"/>
<line x1="74.00" y1="90.70" x2="94.00" y2="116.70" stroke="#1d6e9e" stroke-width="0.4" />
<line x1="74.00" y1="24.70" x2="94.00" y2="36.70" stroke="#2a88bd" stroke-width="1.3" stroke-linecap="butt"/>
<line x1="74.00" y1="25.20" x2="94.00" y2="37.20" stroke="#1d6e9e" stroke-width="0.4" />
<polygon points="41.80,80.52 73.00,62.28 93.00,74.28 61.80,92.52" fill="#c9cdd4" />
<line x1="45.26" y1="78.49" x2="65.26" y2="90.49" stroke="#9fa5ae" stroke-width="0.35" />
<line x1="48.73" y1="76.47" x2="68.73" y2="88.47" stroke="#9fa5ae" stroke-width="0.35" />
<line x1="52.20" y1="74.44" x2="72.20" y2="86.44" stroke="#9fa5ae" stroke-width="0.35" />
<line x1="55.67" y1="72.41" x2="75.67" y2="84.41" stroke="#9fa5ae" stroke-width="0.35" />
<line x1="59.13" y1="70.39" x2="79.13" y2="82.39" stroke="#9fa5ae" stroke-width="0.35" />
<line x1="62.60" y1="68.36" x2="82.60" y2="80.36" stroke="#9fa5ae" stroke-width="0.35" />
<line x1="66.07" y1="66.33" x2="86.07" y2="78.33" stroke="#9fa5ae" stroke-width="0.35" />
<line x1="69.54" y1="64.31" x2="89.54" y2="76.31" stroke="#9fa5ae" stroke-width="0.35" />
<line x1="48.40" y1="84.48" x2="79.60" y2="66.24" stroke="#eef0f3" stroke-width="0.5" />
<line x1="55.00" y1="88.44" x2="86.20" y2="70.20" stroke="#eef0f3" stroke-width="0.5" />
<polygon points="63.08,78.74 72.68,84.50 72.68,64.00 63.08,58.24" fill="#d3ab7c" stroke="#b18a5c" stroke-width="0.3" stroke-linejoin="round"/>
<polygon points="72.68,84.50 89.28,74.80 89.28,54.30 72.68,64.00" fill="#bf9463" stroke="#b18a5c" stroke-width="0.3" stroke-linejoin="round"/>
<polygon points="63.08,58.24 79.68,48.54 89.28,54.30 72.68,64.00" fill="#e6c9a3" stroke="#b18a5c" stroke-width="0.3" stroke-linejoin="round"/>
<line x1="67.88" y1="61.12" x2="84.48" y2="51.42" stroke="#c9a77a" stroke-width="0.5" />
<line x1="67.88" y1="61.12" x2="67.88" y2="68.30" stroke="#b88f5e" stroke-width="0.5" />
<line x1="40.80" y1="67.60" x2="60.80" y2="56.60" stroke="#2a88bd" stroke-width="1.3" stroke-linecap="butt"/>
<line x1="40.80" y1="68.10" x2="60.80" y2="57.10" stroke="#1d6e9e" stroke-width="0.4" />
<line x1="40.80" y1="67.60" x2="60.80" y2="95.60" stroke="#2a88bd" stroke-width="1.3" stroke-linecap="butt"/>
<line x1="40.80" y1="68.10" x2="60.80" y2="96.10" stroke="#1d6e9e" stroke-width="0.4" />
<line x1="40.80" y1="109.60" x2="60.80" y2="97.60" stroke="#2a88bd" stroke-width="1.3" stroke-linecap="butt"/>
<line x1="40.80" y1="110.10" x2="60.80" y2="98.10" stroke="#1d6e9e" stroke-width="0.4" />
<line x1="40.80" y1="109.60" x2="60.80" y2="135.60" stroke="#2a88bd" stroke-width="1.3" stroke-linecap="butt"/>
<line x1="40.80" y1="110.10" x2="60.80" y2="136.10" stroke="#1d6e9e" stroke-width="0.4" />
<line x1="40.80" y1="44.10" x2="60.80" y2="56.10" stroke="#2a88bd" stroke-width="1.3" stroke-linecap="butt"/>
<line x1="40.80" y1="44.60" x2="60.80" y2="56.60" stroke="#1d6e9e" stroke-width="0.4" />
<polygon points="36.17,124.04 43.87,128.66 43.87,122.96 36.17,118.34" fill="#d3ab7c" stroke="#a97f50" stroke-width="0.3" stroke-linejoin="round"/>
<polygon points="43.87,128.66 50.18,124.98 50.18,119.28 43.87,122.96" fill="#bf9463" stroke="#a97f50" stroke-width="0.3" stroke-linejoin="round"/>
<polygon points="36.17,118.34 42.48,114.66 50.18,119.28 43.87,122.96" fill="#e6c9a3" stroke="#a97f50" stroke-width="0.3" stroke-linejoin="round"/>
<polygon points="43.87,128.66 51.57,133.28 51.57,127.58 43.87,122.96" fill="#d3ab7c" stroke="#a97f50" stroke-width="0.3" stroke-linejoin="round"/>
<polygon points="51.57,133.28 57.88,129.60 57.88,123.90 51.57,127.58" fill="#bf9463" stroke="#a97f50" stroke-width="0.3" stroke-linejoin="round"/>
<polygon points="43.87,122.96 50.18,119.28 57.88,123.90 51.57,127.58" fill="#e6c9a3" stroke="#a97f50" stroke-width="0.3" stroke-linejoin="round"/>
<polygon points="29.86,127.73 37.56,132.35 37.56,126.65 29.86,122.03" fill="#d3ab7c" stroke="#a97f50" stroke-width="0.3" stroke-linejoin="round"/>
<polygon points="37.56,132.35 43.87,128.66 43.87,122.96 37.56,126.65" fill="#bf9463" stroke="#a97f50" stroke-width="0.3" stroke-linejoin="round"/>
<polygon points="29.86,122.03 36.17,118.34 43.87,122.96 37.56,126.65" fill="#e6c9a3" stroke="#a97f50" stroke-width="0.3" stroke-linejoin="round"/>
<polygon points="37.56,132.35 45.26,136.97 45.26,131.27 37.56,126.65" fill="#d3ab7c" stroke="#a97f50" stroke-width="0.3" stroke-linejoin="round"/>
<polygon points="45.26,136.97 51.57,133.28 51.57,127.58 45.26,131.27" fill="#bf9463" stroke="#a97f50" stroke-width="0.3" stroke-linejoin="round"/>
<polygon points="37.56,126.65 43.87,122.96 51.57,127.58 45.26,131.27" fill="#e6c9a3" stroke="#a97f50" stroke-width="0.3" stroke-linejoin="round"/>
<polygon points="36.17,118.34 43.87,122.96 43.87,117.26 36.17,112.64" fill="#d3ab7c" stroke="#a97f50" stroke-width="0.3" stroke-linejoin="round"/>
<polygon points="43.87,122.96 50.18,119.28 50.18,113.58 43.87,117.26" fill="#bf9463" stroke="#a97f50" stroke-width="0.3" stroke-linejoin="round"/>
<polygon points="36.17,112.64 42.48,108.96 50.18,113.58 43.87,117.26" fill="#e6c9a3" stroke="#a97f50" stroke-width="0.3" stroke-linejoin="round"/>
<polygon points="43.87,122.96 51.57,127.58 51.57,121.88 43.87,117.26" fill="#d3ab7c" stroke="#a97f50" stroke-width="0.3" stroke-linejoin="round"/>
<polygon points="51.57,127.58 57.88,123.90 57.88,118.20 51.57,121.88" fill="#bf9463" stroke="#a97f50" stroke-width="0.3" stroke-linejoin="round"/>
<polygon points="43.87,117.26 50.18,113.58 57.88,118.20 51.57,121.88" fill="#e6c9a3" stroke="#a97f50" stroke-width="0.3" stroke-linejoin="round"/>
<polygon points="29.86,122.03 37.56,126.65 37.56,120.95 29.86,116.33" fill="#d3ab7c" stroke="#a97f50" stroke-width="0.3" stroke-linejoin="round"/>
<polygon points="37.56,126.65 43.87,122.96 43.87,117.26 37.56,120.95" fill="#bf9463" stroke="#a97f50" stroke-width="0.3" stroke-linejoin="round"/>
<polygon points="29.86,116.33 36.17,112.64 43.87,117.26 37.56,120.95" fill="#e6c9a3" stroke="#a97f50" stroke-width="0.3" stroke-linejoin="round"/>
<polygon points="37.56,126.65 45.26,131.27 45.26,125.57 37.56,120.95" fill="#d3ab7c" stroke="#a97f50" stroke-width="0.3" stroke-linejoin="round"/>
<polygon points="45.26,131.27 51.57,127.58 51.57,121.88 45.26,125.57" fill="#bf9463" stroke="#a97f50" stroke-width="0.3" stroke-linejoin="round"/>
<polygon points="37.56,120.95 43.87,117.26 51.57,121.88 45.26,125.57" fill="#e6c9a3" stroke="#a97f50" stroke-width="0.3" stroke-linejoin="round"/>
<polygon points="36.17,112.64 43.87,117.26 43.87,111.56 36.17,106.94" fill="#d3ab7c" stroke="#a97f50" stroke-width="0.3" stroke-linejoin="round"/>
<polygon points="43.87,117.26 50.18,113.58 50.18,107.88 43.87,111.56" fill="#bf9463" stroke="#a97f50" stroke-width="0.3" stroke-linejoin="round"/>
<polygon points="36.17,106.94 42.48,103.26 50.18,107.88 43.87,111.56" fill="#e6c9a3" stroke="#a97f50" stroke-width="0.3" stroke-linejoin="round"/>
<polygon points="43.87,117.26 51.57,121.88 51.57,116.18 43.87,111.56" fill="#d3ab7c" stroke="#a97f50" stroke-width="0.3" stroke-linejoin="round"/>
<polygon points="51.57,121.88 57.88,118.20 57.88,112.50 51.57,116.18" fill="#bf9463" stroke="#a97f50" stroke-width="0.3" stroke-linejoin="round"/>
<polygon points="43.87,111.56 50.18,107.88 57.88,112.50 51.57,116.18" fill="#e6c9a3" stroke="#a97f50" stroke-width="0.3" stroke-linejoin="round"/>
<polygon points="29.86,116.33 37.56,120.95 37.56,115.25 29.86,110.63" fill="#d3ab7c" stroke="#a97f50" stroke-width="0.3" stroke-linejoin="round"/>
<polygon points="37.56,120.95 43.87,117.26 43.87,111.56 37.56,115.25" fill="#bf9463" stroke="#a97f50" stroke-width="0.3" stroke-linejoin="round"/>
<polygon points="29.86,110.63 36.17,106.94 43.87,111.56 37.56,115.25" fill="#e6c9a3" stroke="#a97f50" stroke-width="0.3" stroke-linejoin="round"/>
<polygon points="37.56,120.95 45.26,125.57 45.26,119.87 37.56,115.25" fill="#d3ab7c" stroke="#a97f50" stroke-width="0.3" stroke-linejoin="round"/>
<polygon points="45.26,125.57 51.57,121.88 51.57,116.18 45.26,119.87" fill="#bf9463" stroke="#a97f50" stroke-width="0.3" stroke-linejoin="round"/>
<polygon points="37.56,115.25 43.87,111.56 51.57,116.18 45.26,119.87" fill="#e6c9a3" stroke="#a97f50" stroke-width="0.3" stroke-linejoin="round"/>
<polygon points="29.86,110.63 37.86,115.43 37.86,109.03 29.86,104.23" fill="#d3ab7c" stroke="#a97f50" stroke-width="0.3" stroke-linejoin="round"/>
<polygon points="37.86,115.43 50.48,108.06 50.48,101.66 37.86,109.03" fill="#bf9463" stroke="#a97f50" stroke-width="0.3" stroke-linejoin="round"/>
<polygon points="29.86,104.23 42.48,96.86 50.48,101.66 37.86,109.03" fill="#e6c9a3" stroke="#a97f50" stroke-width="0.3" stroke-linejoin="round"/>
<polygon points="8.60,99.92 39.80,81.68 59.80,93.68 28.60,111.92" fill="#c9cdd4" />
<line x1="12.06" y1="97.89" x2="32.06" y2="109.89" stroke="#9fa5ae" stroke-width="0.35" />
<line x1="15.53" y1="95.87" x2="35.53" y2="107.87" stroke="#9fa5ae" stroke-width="0.35" />
<line x1="19.00" y1="93.84" x2="39.00" y2="105.84" stroke="#9fa5ae" stroke-width="0.35" />
<line x1="22.47" y1="91.81" x2="42.47" y2="103.81" stroke="#9fa5ae" stroke-width="0.35" />
<line x1="25.93" y1="89.79" x2="45.93" y2="101.79" stroke="#9fa5ae" stroke-width="0.35" />
<line x1="29.40" y1="87.76" x2="49.40" y2="99.76" stroke="#9fa5ae" stroke-width="0.35" />
<line x1="32.87" y1="85.73" x2="52.87" y2="97.73" stroke="#9fa5ae" stroke-width="0.35" />
<line x1="36.34" y1="83.71" x2="56.34" y2="95.71" stroke="#9fa5ae" stroke-width="0.35" />
<line x1="15.20" y1="103.88" x2="46.40" y2="85.64" stroke="#eef0f3" stroke-width="0.5" />
<line x1="21.80" y1="107.84" x2="53.00" y2="89.60" stroke="#eef0f3" stroke-width="0.5" />
<polygon points="29.52,91.24 44.12,100.00 44.12,89.00 29.52,80.24" fill="#d3ab7c" stroke="#b18a5c" stroke-width="0.3" stroke-linejoin="round"/>
<polygon points="44.12,100.00 55.08,93.60 55.08,82.60 44.12,89.00" fill="#bf9463" stroke="#b18a5c" stroke-width="0.3" stroke-linejoin="round"/>
<polygon points="29.52,80.24 40.48,73.84 55.08,82.60 44.12,89.00" fill="#e6c9a3" stroke="#b18a5c" stroke-width="0.3" stroke-linejoin="round"/>
<line x1="36.82" y1="84.62" x2="47.78" y2="78.22" stroke="#c9a77a" stroke-width="0.5" />
<line x1="36.82" y1="84.62" x2="36.82" y2="88.47" stroke="#b88f5e" stroke-width="0.5" />
<polygon points="16.24,99.00 30.84,107.76 30.84,96.76 16.24,88.00" fill="#d3ab7c" stroke="#b18a5c" stroke-width="0.3" stroke-linejoin="round"/>
<polygon points="30.84,107.76 41.80,101.36 41.80,90.36 30.84,96.76" fill="#bf9463" stroke="#b18a5c" stroke-width="0.3" stroke-linejoin="round"/>
<polygon points="16.24,88.00 27.20,81.60 41.80,90.36 30.84,96.76" fill="#e6c9a3" stroke="#b18a5c" stroke-width="0.3" stroke-linejoin="round"/>
<line x1="23.54" y1="92.38" x2="34.50" y2="85.98" stroke="#c9a77a" stroke-width="0.5" />
<line x1="23.54" y1="92.38" x2="23.54" y2="96.23" stroke="#b88f5e" stroke-width="0.5" />
<line x1="7.60" y1="87.00" x2="27.60" y2="76.00" stroke="#2a88bd" stroke-width="1.3" stroke-linecap="butt"/>
<line x1="7.60" y1="87.50" x2="27.60" y2="76.50" stroke="#1d6e9e" stroke-width="0.4" />
<line x1="7.60" y1="87.00" x2="27.60" y2="115.00" stroke="#2a88bd" stroke-width="1.3" stroke-linecap="butt"/>
<line x1="7.60" y1="87.50" x2="27.60" y2="115.50" stroke="#1d6e9e" stroke-width="0.4" />
<line x1="7.60" y1="129.00" x2="27.60" y2="117.00" stroke="#2a88bd" stroke-width="1.3" stroke-linecap="butt"/>
<line x1="7.60" y1="129.50" x2="27.60" y2="117.50" stroke="#1d6e9e" stroke-width="0.4" />
<line x1="7.60" y1="129.00" x2="27.60" y2="155.00" stroke="#2a88bd" stroke-width="1.3" stroke-linecap="butt"/>
<line x1="7.60" y1="129.50" x2="27.60" y2="155.50" stroke="#1d6e9e" stroke-width="0.4" />
<line x1="7.60" y1="63.50" x2="27.60" y2="75.50" stroke="#2a88bd" stroke-width="1.3" stroke-linecap="butt"/>
<line x1="7.60" y1="64.00" x2="27.60" y2="76.00" stroke="#1d6e9e" stroke-width="0.4" />
<line x1="27.60" y1="89.90" x2="127.20" y2="31.70" stroke="#c9592a" stroke-width="2.2" />
<line x1="27.60" y1="89.10" x2="127.20" y2="30.90" stroke="#de7946" stroke-width="0.6" />
<line x1="27.60" y1="113.90" x2="127.20" y2="55.70" stroke="#c9592a" stroke-width="2.2" />
<line x1="27.60" y1="113.10" x2="127.20" y2="54.90" stroke="#de7946" stroke-width="0.6" />
<line x1="27.60" y1="153.70" x2="127.20" y2="95.50" stroke="#c9592a" stroke-width="2.2" />
<line x1="27.60" y1="152.90" x2="127.20" y2="94.70" stroke="#de7946" stroke-width="0.6" />
<polygon points="124.45,98.20 127.20,99.70 129.95,98.20 129.95,96.20 127.20,97.60 124.45,96.20" fill="#d0622d" />
<polygon points="124.45,98.20 127.20,99.70 127.20,97.60 124.45,96.20" fill="#e07a45" />
<polygon points="125.25,97.30 127.20,98.30 127.20,15.80 125.25,14.80" fill="#1f74a6" />
<polygon points="127.20,98.30 129.15,97.30 129.15,14.80 127.20,15.80" fill="#145681" />
<polygon points="125.25,14.80 127.20,15.80 129.15,14.80 127.20,13.80" fill="#3f8fbe" />
<rect x="125.93" y="92.80" width="0.7" height="1.0" fill="#1a5e88" opacity="0.7"/>
<rect x="125.93" y="89.60" width="0.7" height="1.0" fill="#1a5e88" opacity="0.7"/>
<rect x="125.93" y="86.40" width="0.7" height="1.0" fill="#1a5e88" opacity="0.7"/>
<rect x="125.93" y="83.20" width="0.7" height="1.0" fill="#1a5e88" opacity="0.7"/>
<rect x="125.93" y="80.00" width="0.7" height="1.0" fill="#1a5e88" opacity="0.7"/>
<rect x="125.93" y="76.80" width="0.7" height="1.0" fill="#1a5e88" opacity="0.7"/>
<rect x="125.93" y="73.60" width="0.7" height="1.0" fill="#1a5e88" opacity="0.7"/>
<rect x="125.93" y="70.40" width="0.7" height="1.0" fill="#1a5e88" opacity="0.7"/>
<rect x="125.93" y="67.20" width="0.7" height="1.0" fill="#1a5e88" opacity="0.7"/>
<rect x="125.93" y="64.00" width="0.7" height="1.0" fill="#1a5e88" opacity="0.7"/>
<rect x="125.93" y="60.80" width="0.7" height="1.0" fill="#1a5e88" opacity="0.7"/>
<rect x="125.93" y="57.60" width="0.7" height="1.0" fill="#1a5e88" opacity="0.7"/>
<rect x="125.93" y="54.40" width="0.7" height="1.0" fill="#1a5e88" opacity="0.7"/>
<rect x="125.93" y="51.20" width="0.7" height="1.0" fill="#1a5e88" opacity="0.7"/>
<rect x="125.93" y="48.00" width="0.7" height="1.0" fill="#1a5e88" opacity="0.7"/>
<rect x="125.93" y="44.80" width="0.7" height="1.0" fill="#1a5e88" opacity="0.7"/>
<rect x="125.93" y="41.60" width="0.7" height="1.0" fill="#1a5e88" opacity="0.7"/>
<rect x="125.93" y="38.40" width="0.7" height="1.0" fill="#1a5e88" opacity="0.7"/>
<rect x="125.93" y="35.20" width="0.7" height="1.0" fill="#1a5e88" opacity="0.7"/>
<rect x="125.93" y="32.00" width="0.7" height="1.0" fill="#1a5e88" opacity="0.7"/>
<rect x="125.93" y="28.80" width="0.7" height="1.0" fill="#1a5e88" opacity="0.7"/>
<rect x="125.93" y="25.60" width="0.7" height="1.0" fill="#1a5e88" opacity="0.7"/>
<rect x="125.93" y="22.40" width="0.7" height="1.0" fill="#1a5e88" opacity="0.7"/>
<rect x="125.93" y="19.20" width="0.7" height="1.0" fill="#1a5e88" opacity="0.7"/>
<polygon points="91.25,117.60 94.00,119.10 96.75,117.60 96.75,115.60 94.00,117.00 91.25,115.60" fill="#d0622d" />
<polygon points="91.25,117.60 94.00,119.10 94.00,117.00 91.25,115.60" fill="#e07a45" />
<polygon points="92.05,116.70 94.00,117.70 94.00,35.20 92.05,34.20" fill="#1f74a6" />
<polygon points="94.00,117.70 95.95,116.70 95.95,34.20 94.00,35.20" fill="#145681" />
<polygon points="92.05,34.20 94.00,35.20 95.95,34.20 94.00,33.20" fill="#3f8fbe" />
<rect x="92.73" y="112.20" width="0.7" height="1.0" fill="#1a5e88" opacity="0.7"/>
<rect x="92.73" y="109.00" width="0.7" height="1.0" fill="#1a5e88" opacity="0.7"/>
<rect x="92.73" y="105.80" width="0.7" height="1.0" fill="#1a5e88" opacity="0.7"/>
<rect x="92.73" y="102.60" width="0.7" height="1.0" fill="#1a5e88" opacity="0.7"/>
<rect x="92.73" y="99.40" width="0.7" height="1.0" fill="#1a5e88" opacity="0.7"/>
<rect x="92.73" y="96.20" width="0.7" height="1.0" fill="#1a5e88" opacity="0.7"/>
<rect x="92.73" y="93.00" width="0.7" height="1.0" fill="#1a5e88" opacity="0.7"/>
<rect x="92.73" y="89.80" width="0.7" height="1.0" fill="#1a5e88" opacity="0.7"/>
<rect x="92.73" y="86.60" width="0.7" height="1.0" fill="#1a5e88" opacity="0.7"/>
<rect x="92.73" y="83.40" width="0.7" height="1.0" fill="#1a5e88" opacity="0.7"/>
<rect x="92.73" y="80.20" width="0.7" height="1.0" fill="#1a5e88" opacity="0.7"/>
<rect x="92.73" y="77.00" width="0.7" height="1.0" fill="#1a5e88" opacity="0.7"/>
<rect x="92.73" y="73.80" width="0.7" height="1.0" fill="#1a5e88" opacity="0.7"/>
<rect x="92.73" y="70.60" width="0.7" height="1.0" fill="#1a5e88" opacity="0.7"/>
<rect x="92.73" y="67.40" width="0.7" height="1.0" fill="#1a5e88" opacity="0.7"/>
<rect x="92.73" y="64.20" width="0.7" height="1.0" fill="#1a5e88" opacity="0.7"/>
<rect x="92.73" y="61.00" width="0.7" height="1.0" fill="#1a5e88" opacity="0.7"/>
<rect x="92.73" y="57.80" width="0.7" height="1.0" fill="#1a5e88" opacity="0.7"/>
<rect x="92.73" y="54.60" width="0.7" height="1.0" fill="#1a5e88" opacity="0.7"/>
<rect x="92.73" y="51.40" width="0.7" height="1.0" fill="#1a5e88" opacity="0.7"/>
<rect x="92.73" y="48.20" width="0.7" height="1.0" fill="#1a5e88" opacity="0.7"/>
<rect x="92.73" y="45.00" width="0.7" height="1.0" fill="#1a5e88" opacity="0.7"/>
<rect x="92.73" y="41.80" width="0.7" height="1.0" fill="#1a5e88" opacity="0.7"/>
<rect x="92.73" y="38.60" width="0.7" height="1.0" fill="#1a5e88" opacity="0.7"/>
<polygon points="58.05,137.00 60.80,138.50 63.55,137.00 63.55,135.00 60.80,136.40 58.05,135.00" fill="#d0622d" />
<polygon points="58.05,137.00 60.80,138.50 60.80,136.40 58.05,135.00" fill="#e07a45" />
<polygon points="58.85,136.10 60.80,137.10 60.80,54.60 58.85,53.60" fill="#1f74a6" />
<polygon points="60.80,137.10 62.75,136.10 62.75,53.60 60.80,54.60" fill="#145681" />
<polygon points="58.85,53.60 60.80,54.60 62.75,53.60 60.80,52.60" fill="#3f8fbe" />
<rect x="59.53" y="131.60" width="0.7" height="1.0" fill="#1a5e88" opacity="0.7"/>
<rect x="59.53" y="128.40" width="0.7" height="1.0" fill="#1a5e88" opacity="0.7"/>
<rect x="59.53" y="125.20" width="0.7" height="1.0" fill="#1a5e88" opacity="0.7"/>
<rect x="59.53" y="122.00" width="0.7" height="1.0" fill="#1a5e88" opacity="0.7"/>
<rect x="59.53" y="118.80" width="0.7" height="1.0" fill="#1a5e88" opacity="0.7"/>
<rect x="59.53" y="115.60" width="0.7" height="1.0" fill="#1a5e88" opacity="0.7"/>
<rect x="59.53" y="112.40" width="0.7" height="1.0" fill="#1a5e88" opacity="0.7"/>
<rect x="59.53" y="109.20" width="0.7" height="1.0" fill="#1a5e88" opacity="0.7"/>
<rect x="59.53" y="106.00" width="0.7" height="1.0" fill="#1a5e88" opacity="0.7"/>
<rect x="59.53" y="102.80" width="0.7" height="1.0" fill="#1a5e88" opacity="0.7"/>
<rect x="59.53" y="99.60" width="0.7" height="1.0" fill="#1a5e88" opacity="0.7"/>
<rect x="59.53" y="96.40" width="0.7" height="1.0" fill="#1a5e88" opacity="0.7"/>
<rect x="59.53" y="93.20" width="0.7" height="1.0" fill="#1a5e88" opacity="0.7"/>
<rect x="59.53" y="90.00" width="0.7" height="1.0" fill="#1a5e88" opacity="0.7"/>
<rect x="59.53" y="86.80" width="0.7" height="1.0" fill="#1a5e88" opacity="0.7"/>
<rect x="59.53" y="83.60" width="0.7" height="1.0" fill="#1a5e88" opacity="0.7"/>
<rect x="59.53" y="80.40" width="0.7" height="1.0" fill="#1a5e88" opacity="0.7"/>
<rect x="59.53" y="77.20" width="0.7" height="1.0" fill="#1a5e88" opacity="0.7"/>
<rect x="59.53" y="74.00" width="0.7" height="1.0" fill="#1a5e88" opacity="0.7"/>
<rect x="59.53" y="70.80" width="0.7" height="1.0" fill="#1a5e88" opacity="0.7"/>
<rect x="59.53" y="67.60" width="0.7" height="1.0" fill="#1a5e88" opacity="0.7"/>
<rect x="59.53" y="64.40" width="0.7" height="1.0" fill="#1a5e88" opacity="0.7"/>
<rect x="59.53" y="61.20" width="0.7" height="1.0" fill="#1a5e88" opacity="0.7"/>
<rect x="59.53" y="58.00" width="0.7" height="1.0" fill="#1a5e88" opacity="0.7"/>
<polygon points="24.85,156.40 27.60,157.90 30.35,156.40 30.35,154.40 27.60,155.80 24.85,154.40" fill="#d0622d" />
<polygon points="24.85,156.40 27.60,157.90 27.60,155.80 24.85,154.40" fill="#e07a45" />
<polygon points="25.65,155.50 27.60,156.50 27.60,74.00 25.65,73.00" fill="#1f74a6" />
<polygon points="27.60,156.50 29.55,155.50 29.55,73.00 27.60,74.00" fill="#145681" />
<polygon points="25.65,73.00 27.60,74.00 29.55,73.00 27.60,72.00" fill="#3f8fbe" />
<rect x="26.33" y="151.00" width="0.7" height="1.0" fill="#1a5e88" opacity="0.7"/>
<rect x="26.33" y="147.80" width="0.7" height="1.0" fill="#1a5e88" opacity="0.7"/>
<rect x="26.33" y="144.60" width="0.7" height="1.0" fill="#1a5e88" opacity="0.7"/>
<rect x="26.33" y="141.40" width="0.7" height="1.0" fill="#1a5e88" opacity="0.7"/>
<rect x="26.33" y="138.20" width="0.7" height="1.0" fill="#1a5e88" opacity="0.7"/>
<rect x="26.33" y="135.00" width="0.7" height="1.0" fill="#1a5e88" opacity="0.7"/>
<rect x="26.33" y="131.80" width="0.7" height="1.0" fill="#1a5e88" opacity="0.7"/>
<rect x="26.33" y="128.60" width="0.7" height="1.0" fill="#1a5e88" opacity="0.7"/>
<rect x="26.33" y="125.40" width="0.7" height="1.0" fill="#1a5e88" opacity="0.7"/>
<rect x="26.33" y="122.20" width="0.7" height="1.0" fill="#1a5e88" opacity="0.7"/>
<rect x="26.33" y="119.00" width="0.7" height="1.0" fill="#1a5e88" opacity="0.7"/>
<rect x="26.33" y="115.80" width="0.7" height="1.0" fill="#1a5e88" opacity="0.7"/>
<rect x="26.33" y="112.60" width="0.7" height="1.0" fill="#1a5e88" opacity="0.7"/>
<rect x="26.33" y="109.40" width="0.7" height="1.0" fill="#1a5e88" opacity="0.7"/>
<rect x="26.33" y="106.20" width="0.7" height="1.0" fill="#1a5e88" opacity="0.7"/>
<rect x="26.33" y="103.00" width="0.7" height="1.0" fill="#1a5e88" opacity="0.7"/>
<rect x="26.33" y="99.80" width="0.7" height="1.0" fill="#1a5e88" opacity="0.7"/>
<rect x="26.33" y="96.60" width="0.7" height="1.0" fill="#1a5e88" opacity="0.7"/>
<rect x="26.33" y="93.40" width="0.7" height="1.0" fill="#1a5e88" opacity="0.7"/>
<rect x="26.33" y="90.20" width="0.7" height="1.0" fill="#1a5e88" opacity="0.7"/>
<rect x="26.33" y="87.00" width="0.7" height="1.0" fill="#1a5e88" opacity="0.7"/>
<rect x="26.33" y="83.80" width="0.7" height="1.0" fill="#1a5e88" opacity="0.7"/>
<rect x="26.33" y="80.60" width="0.7" height="1.0" fill="#1a5e88" opacity="0.7"/>
<rect x="26.33" y="77.40" width="0.7" height="1.0" fill="#1a5e88" opacity="0.7"/>
<polygon points="76.40,191.00 100.40,207.00 207.00,146.80 207.00,141.80 181.00,130.80" fill="#e9e9eb" />
<polygon points="78.40,190.50 100.40,205.00 205.00,145.80 204.00,141.80 181.00,130.80" fill="#dcdcdf" />
<line x1="81.40" y1="186.70" x2="181.00" y2="128.50" stroke="#c9592a" stroke-width="2.2" />
<line x1="81.40" y1="185.90" x2="181.00" y2="127.70" stroke="#de7946" stroke-width="0.6" />
<polygon points="150.46,145.15 171.26,157.63 171.26,153.13 150.46,140.65" fill="#d9924a" />
<polygon points="171.26,157.63 199.14,141.33 199.14,136.83 171.26,153.13" fill="#c27c38" />
<polygon points="150.46,140.65 178.34,124.35 199.14,136.83 171.26,153.13" fill="#eeb56c" />
<line x1="153.94" y1="138.61" x2="174.74" y2="151.09" stroke="#cf8d45" stroke-width="0.55" />
<line x1="157.43" y1="136.57" x2="178.23" y2="149.05" stroke="#cf8d45" stroke-width="0.55" />
<line x1="160.91" y1="134.54" x2="181.71" y2="147.02" stroke="#cf8d45" stroke-width="0.55" />
<line x1="164.40" y1="132.50" x2="185.20" y2="144.98" stroke="#cf8d45" stroke-width="0.55" />
<line x1="167.89" y1="130.46" x2="188.69" y2="142.94" stroke="#cf8d45" stroke-width="0.55" />
<line x1="171.37" y1="128.43" x2="192.17" y2="140.91" stroke="#cf8d45" stroke-width="0.55" />
<line x1="174.86" y1="126.39" x2="195.66" y2="138.87" stroke="#cf8d45" stroke-width="0.55" />
<polygon points="172.09,156.84 177.39,153.74 177.39,150.74 172.09,153.84" fill="#8a5424" />
<polygon points="179.06,152.77 184.36,149.67 184.36,146.67 179.06,149.77" fill="#8a5424" />
<polygon points="186.04,148.69 191.34,145.59 191.34,142.59 186.04,145.69" fill="#8a5424" />
<polygon points="193.01,144.62 198.31,141.52 198.31,138.52 193.01,141.62" fill="#8a5424" />
<polygon points="152.02,145.78 159.30,150.15 159.30,147.15 152.02,142.78" fill="#9a6330" />
<polygon points="162.42,152.02 169.70,156.39 169.70,153.39 162.42,149.02" fill="#9a6330" />
<polygon points="116.26,165.63 136.26,177.63 166.14,160.17 166.14,158.77 146.14,146.77 116.26,164.23" fill="#c47a3a" />
<polygon points="116.26,164.23 146.14,146.77 166.14,158.77 136.26,176.23" fill="#dc9450" />
<polygon points="84.06,183.95 104.86,196.43 104.86,191.93 84.06,179.45" fill="#d9924a" />
<polygon points="104.86,196.43 132.74,180.13 132.74,175.63 104.86,191.93" fill="#c27c38" />
<polygon points="84.06,179.45 111.94,163.15 132.74,175.63 104.86,191.93" fill="#eeb56c" />
<line x1="87.54" y1="177.41" x2="108.34" y2="189.89" stroke="#cf8d45" stroke-width="0.55" />
<line x1="91.03" y1="175.37" x2="111.83" y2="187.85" stroke="#cf8d45" stroke-width="0.55" />
<line x1="94.51" y1="173.34" x2="115.31" y2="185.82" stroke="#cf8d45" stroke-width="0.55" />
<line x1="98.00" y1="171.30" x2="118.80" y2="183.78" stroke="#cf8d45" stroke-width="0.55" />
<line x1="101.49" y1="169.26" x2="122.29" y2="181.74" stroke="#cf8d45" stroke-width="0.55" />
<line x1="104.97" y1="167.23" x2="125.77" y2="179.71" stroke="#cf8d45" stroke-width="0.55" />
<line x1="108.46" y1="165.19" x2="129.26" y2="177.67" stroke="#cf8d45" stroke-width="0.55" />
<polygon points="105.69,195.64 110.99,192.54 110.99,189.54 105.69,192.64" fill="#8a5424" />
<polygon points="112.66,191.57 117.96,188.47 117.96,185.47 112.66,188.57" fill="#8a5424" />
<polygon points="119.64,187.49 124.94,184.39 124.94,181.39 119.64,184.49" fill="#8a5424" />
<polygon points="126.61,183.42 131.91,180.32 131.91,177.32 126.61,180.42" fill="#8a5424" />
<polygon points="85.62,184.58 92.90,188.95 92.90,185.95 85.62,181.58" fill="#9a6330" />
<polygon points="96.02,190.82 103.30,195.19 103.30,192.19 96.02,187.82" fill="#9a6330" />
<polygon points="178.55,131.20 181.00,132.70 183.45,131.20 183.45,129.20 181.00,130.60 178.55,129.20" fill="#d0622d" />
<polygon points="178.55,131.20 181.00,132.70 181.00,130.60 178.55,129.20" fill="#e07a45" />
<polygon points="179.35,130.30 181.00,131.30 181.00,48.80 179.35,47.80" fill="#1f74a6" />
<polygon points="181.00,131.30 182.65,130.30 182.65,47.80 181.00,48.80" fill="#145681" />
<polygon points="179.35,47.80 181.00,48.80 182.65,47.80 181.00,46.80" fill="#3f8fbe" />
<rect x="179.93" y="125.80" width="0.7" height="1.0" fill="#1a5e88" opacity="0.7"/>
<rect x="179.93" y="122.60" width="0.7" height="1.0" fill="#1a5e88" opacity="0.7"/>
<rect x="179.93" y="119.40" width="0.7" height="1.0" fill="#1a5e88" opacity="0.7"/>
<rect x="179.93" y="116.20" width="0.7" height="1.0" fill="#1a5e88" opacity="0.7"/>
<rect x="179.93" y="113.00" width="0.7" height="1.0" fill="#1a5e88" opacity="0.7"/>
<rect x="179.93" y="109.80" width="0.7" height="1.0" fill="#1a5e88" opacity="0.7"/>
<rect x="179.93" y="106.60" width="0.7" height="1.0" fill="#1a5e88" opacity="0.7"/>
<rect x="179.93" y="103.40" width="0.7" height="1.0" fill="#1a5e88" opacity="0.7"/>
<rect x="179.93" y="100.20" width="0.7" height="1.0" fill="#1a5e88" opacity="0.7"/>
<rect x="179.93" y="97.00" width="0.7" height="1.0" fill="#1a5e88" opacity="0.7"/>
<rect x="179.93" y="93.80" width="0.7" height="1.0" fill="#1a5e88" opacity="0.7"/>
<rect x="179.93" y="90.60" width="0.7" height="1.0" fill="#1a5e88" opacity="0.7"/>
<rect x="179.93" y="87.40" width="0.7" height="1.0" fill="#1a5e88" opacity="0.7"/>
<rect x="179.93" y="84.20" width="0.7" height="1.0" fill="#1a5e88" opacity="0.7"/>
<rect x="179.93" y="81.00" width="0.7" height="1.0" fill="#1a5e88" opacity="0.7"/>
<rect x="179.93" y="77.80" width="0.7" height="1.0" fill="#1a5e88" opacity="0.7"/>
<rect x="179.93" y="74.60" width="0.7" height="1.0" fill="#1a5e88" opacity="0.7"/>
<rect x="179.93" y="71.40" width="0.7" height="1.0" fill="#1a5e88" opacity="0.7"/>
<rect x="179.93" y="68.20" width="0.7" height="1.0" fill="#1a5e88" opacity="0.7"/>
<rect x="179.93" y="65.00" width="0.7" height="1.0" fill="#1a5e88" opacity="0.7"/>
<rect x="179.93" y="61.80" width="0.7" height="1.0" fill="#1a5e88" opacity="0.7"/>
<rect x="179.93" y="58.60" width="0.7" height="1.0" fill="#1a5e88" opacity="0.7"/>
<rect x="179.93" y="55.40" width="0.7" height="1.0" fill="#1a5e88" opacity="0.7"/>
<rect x="179.93" y="52.20" width="0.7" height="1.0" fill="#1a5e88" opacity="0.7"/>
<polygon points="145.35,150.60 147.80,152.10 150.25,150.60 150.25,148.60 147.80,150.00 145.35,148.60" fill="#d0622d" />
<polygon points="145.35,150.60 147.80,152.10 147.80,150.00 145.35,148.60" fill="#e07a45" />
<polygon points="146.15,149.70 147.80,150.70 147.80,68.20 146.15,67.20" fill="#1f74a6" />
<polygon points="147.80,150.70 149.45,149.70 149.45,67.20 147.80,68.20" fill="#145681" />
<polygon points="146.15,67.20 147.80,68.20 149.45,67.20 147.80,66.20" fill="#3f8fbe" />
<rect x="146.73" y="145.20" width="0.7" height="1.0" fill="#1a5e88" opacity="0.7"/>
<rect x="146.73" y="142.00" width="0.7" height="1.0" fill="#1a5e88" opacity="0.7"/>
<rect x="146.73" y="138.80" width="0.7" height="1.0" fill="#1a5e88" opacity="0.7"/>
<rect x="146.73" y="135.60" width="0.7" height="1.0" fill="#1a5e88" opacity="0.7"/>
<rect x="146.73" y="132.40" width="0.7" height="1.0" fill="#1a5e88" opacity="0.7"/>
<rect x="146.73" y="129.20" width="0.7" height="1.0" fill="#1a5e88" opacity="0.7"/>
<rect x="146.73" y="126.00" width="0.7" height="1.0" fill="#1a5e88" opacity="0.7"/>
<rect x="146.73" y="122.80" width="0.7" height="1.0" fill="#1a5e88" opacity="0.7"/>
<rect x="146.73" y="119.60" width="0.7" height="1.0" fill="#1a5e88" opacity="0.7"/>
<rect x="146.73" y="116.40" width="0.7" height="1.0" fill="#1a5e88" opacity="0.7"/>
<rect x="146.73" y="113.20" width="0.7" height="1.0" fill="#1a5e88" opacity="0.7"/>
<rect x="146.73" y="110.00" width="0.7" height="1.0" fill="#1a5e88" opacity="0.7"/>
<rect x="146.73" y="106.80" width="0.7" height="1.0" fill="#1a5e88" opacity="0.7"/>
<rect x="146.73" y="103.60" width="0.7" height="1.0" fill="#1a5e88" opacity="0.7"/>
<rect x="146.73" y="100.40" width="0.7" height="1.0" fill="#1a5e88" opacity="0.7"/>
<rect x="146.73" y="97.20" width="0.7" height="1.0" fill="#1a5e88" opacity="0.7"/>
<rect x="146.73" y="94.00" width="0.7" height="1.0" fill="#1a5e88" opacity="0.7"/>
<rect x="146.73" y="90.80" width="0.7" height="1.0" fill="#1a5e88" opacity="0.7"/>
<rect x="146.73" y="87.60" width="0.7" height="1.0" fill="#1a5e88" opacity="0.7"/>
<rect x="146.73" y="84.40" width="0.7" height="1.0" fill="#1a5e88" opacity="0.7"/>
<rect x="146.73" y="81.20" width="0.7" height="1.0" fill="#1a5e88" opacity="0.7"/>
<rect x="146.73" y="78.00" width="0.7" height="1.0" fill="#1a5e88" opacity="0.7"/>
<rect x="146.73" y="74.80" width="0.7" height="1.0" fill="#1a5e88" opacity="0.7"/>
<rect x="146.73" y="71.60" width="0.7" height="1.0" fill="#1a5e88" opacity="0.7"/>
<polygon points="112.15,170.00 114.60,171.50 117.05,170.00 117.05,168.00 114.60,169.40 112.15,168.00" fill="#d0622d" />
<polygon points="112.15,170.00 114.60,171.50 114.60,169.40 112.15,168.00" fill="#e07a45" />
<polygon points="112.95,169.10 114.60,170.10 114.60,87.60 112.95,86.60" fill="#1f74a6" />
<polygon points="114.60,170.10 116.25,169.10 116.25,86.60 114.60,87.60" fill="#145681" />
<polygon points="112.95,86.60 114.60,87.60 116.25,86.60 114.60,85.60" fill="#3f8fbe" />
<rect x="113.53" y="164.60" width="0.7" height="1.0" fill="#1a5e88" opacity="0.7"/>
<rect x="113.53" y="161.40" width="0.7" height="1.0" fill="#1a5e88" opacity="0.7"/>
<rect x="113.53" y="158.20" width="0.7" height="1.0" fill="#1a5e88" opacity="0.7"/>
<rect x="113.53" y="155.00" width="0.7" height="1.0" fill="#1a5e88" opacity="0.7"/>
<rect x="113.53" y="151.80" width="0.7" height="1.0" fill="#1a5e88" opacity="0.7"/>
<rect x="113.53" y="148.60" width="0.7" height="1.0" fill="#1a5e88" opacity="0.7"/>
<rect x="113.53" y="145.40" width="0.7" height="1.0" fill="#1a5e88" opacity="0.7"/>
<rect x="113.53" y="142.20" width="0.7" height="1.0" fill="#1a5e88" opacity="0.7"/>
<rect x="113.53" y="139.00" width="0.7" height="1.0" fill="#1a5e88" opacity="0.7"/>
<rect x="113.53" y="135.80" width="0.7" height="1.0" fill="#1a5e88" opacity="0.7"/>
<rect x="113.53" y="132.60" width="0.7" height="1.0" fill="#1a5e88" opacity="0.7"/>
<rect x="113.53" y="129.40" width="0.7" height="1.0" fill="#1a5e88" opacity="0.7"/>
<rect x="113.53" y="126.20" width="0.7" height="1.0" fill="#1a5e88" opacity="0.7"/>
<rect x="113.53" y="123.00" width="0.7" height="1.0" fill="#1a5e88" opacity="0.7"/>
<rect x="113.53" y="119.80" width="0.7" height="1.0" fill="#1a5e88" opacity="0.7"/>
<rect x="113.53" y="116.60" width="0.7" height="1.0" fill="#1a5e88" opacity="0.7"/>
<rect x="113.53" y="113.40" width="0.7" height="1.0" fill="#1a5e88" opacity="0.7"/>
<rect x="113.53" y="110.20" width="0.7" height="1.0" fill="#1a5e88" opacity="0.7"/>
<rect x="113.53" y="107.00" width="0.7" height="1.0" fill="#1a5e88" opacity="0.7"/>
<rect x="113.53" y="103.80" width="0.7" height="1.0" fill="#1a5e88" opacity="0.7"/>
<rect x="113.53" y="100.60" width="0.7" height="1.0" fill="#1a5e88" opacity="0.7"/>
<rect x="113.53" y="97.40" width="0.7" height="1.0" fill="#1a5e88" opacity="0.7"/>
<rect x="113.53" y="94.20" width="0.7" height="1.0" fill="#1a5e88" opacity="0.7"/>
<rect x="113.53" y="91.00" width="0.7" height="1.0" fill="#1a5e88" opacity="0.7"/>
<polygon points="78.95,189.40 81.40,190.90 83.85,189.40 83.85,187.40 81.40,188.80 78.95,187.40" fill="#d0622d" />
<polygon points="78.95,189.40 81.40,190.90 81.40,188.80 78.95,187.40" fill="#e07a45" />
<polygon points="79.75,188.50 81.40,189.50 81.40,107.00 79.75,106.00" fill="#1f74a6" />
<polygon points="81.40,189.50 83.05,188.50 83.05,106.00 81.40,107.00" fill="#145681" />
<polygon points="79.75,106.00 81.40,107.00 83.05,106.00 81.40,105.00" fill="#3f8fbe" />
<rect x="80.33" y="184.00" width="0.7" height="1.0" fill="#1a5e88" opacity="0.7"/>
<rect x="80.33" y="180.80" width="0.7" height="1.0" fill="#1a5e88" opacity="0.7"/>
<rect x="80.33" y="177.60" width="0.7" height="1.0" fill="#1a5e88" opacity="0.7"/>
<rect x="80.33" y="174.40" width="0.7" height="1.0" fill="#1a5e88" opacity="0.7"/>
<rect x="80.33" y="171.20" width="0.7" height="1.0" fill="#1a5e88" opacity="0.7"/>
<rect x="80.33" y="168.00" width="0.7" height="1.0" fill="#1a5e88" opacity="0.7"/>
<rect x="80.33" y="164.80" width="0.7" height="1.0" fill="#1a5e88" opacity="0.7"/>
<rect x="80.33" y="161.60" width="0.7" height="1.0" fill="#1a5e88" opacity="0.7"/>
<rect x="80.33" y="158.40" width="0.7" height="1.0" fill="#1a5e88" opacity="0.7"/>
<rect x="80.33" y="155.20" width="0.7" height="1.0" fill="#1a5e88" opacity="0.7"/>
<rect x="80.33" y="152.00" width="0.7" height="1.0" fill="#1a5e88" opacity="0.7"/>
<rect x="80.33" y="148.80" width="0.7" height="1.0" fill="#1a5e88" opacity="0.7"/>
<rect x="80.33" y="145.60" width="0.7" height="1.0" fill="#1a5e88" opacity="0.7"/>
<rect x="80.33" y="142.40" width="0.7" height="1.0" fill="#1a5e88" opacity="0.7"/>
<rect x="80.33" y="139.20" width="0.7" height="1.0" fill="#1a5e88" opacity="0.7"/>
<rect x="80.33" y="136.00" width="0.7" height="1.0" fill="#1a5e88" opacity="0.7"/>
<rect x="80.33" y="132.80" width="0.7" height="1.0" fill="#1a5e88" opacity="0.7"/>
<rect x="80.33" y="129.60" width="0.7" height="1.0" fill="#1a5e88" opacity="0.7"/>
<rect x="80.33" y="126.40" width="0.7" height="1.0" fill="#1a5e88" opacity="0.7"/>
<rect x="80.33" y="123.20" width="0.7" height="1.0" fill="#1a5e88" opacity="0.7"/>
<rect x="80.33" y="120.00" width="0.7" height="1.0" fill="#1a5e88" opacity="0.7"/>
<rect x="80.33" y="116.80" width="0.7" height="1.0" fill="#1a5e88" opacity="0.7"/>
<rect x="80.33" y="113.60" width="0.7" height="1.0" fill="#1a5e88" opacity="0.7"/>
<rect x="80.33" y="110.40" width="0.7" height="1.0" fill="#1a5e88" opacity="0.7"/>
<line x1="81.40" y1="122.90" x2="181.00" y2="64.70" stroke="#c9592a" stroke-width="2.2" />
<line x1="81.40" y1="122.10" x2="181.00" y2="63.90" stroke="#de7946" stroke-width="0.6" />
<line x1="81.40" y1="146.90" x2="181.00" y2="88.70" stroke="#c9592a" stroke-width="2.2" />
<line x1="81.40" y1="146.10" x2="181.00" y2="87.90" stroke="#de7946" stroke-width="0.6" />
<line x1="181.00" y1="73.80" x2="201.00" y2="62.80" stroke="#2a88bd" stroke-width="1.3" stroke-linecap="butt"/>
<line x1="181.00" y1="74.30" x2="201.00" y2="63.30" stroke="#1d6e9e" stroke-width="0.4" />
<line x1="181.00" y1="73.80" x2="201.00" y2="101.80" stroke="#2a88bd" stroke-width="1.3" stroke-linecap="butt"/>
<line x1="181.00" y1="74.30" x2="201.00" y2="102.30" stroke="#1d6e9e" stroke-width="0.4" />
<line x1="181.00" y1="115.80" x2="201.00" y2="103.80" stroke="#2a88bd" stroke-width="1.3" stroke-linecap="butt"/>
<line x1="181.00" y1="116.30" x2="201.00" y2="104.30" stroke="#1d6e9e" stroke-width="0.4" />
<line x1="181.00" y1="115.80" x2="201.00" y2="141.80" stroke="#2a88bd" stroke-width="1.3" stroke-linecap="butt"/>
<line x1="181.00" y1="116.30" x2="201.00" y2="142.30" stroke="#1d6e9e" stroke-width="0.4" />
<line x1="181.00" y1="50.30" x2="201.00" y2="62.30" stroke="#2a88bd" stroke-width="1.3" stroke-linecap="butt"/>
<line x1="181.00" y1="50.80" x2="201.00" y2="62.80" stroke="#1d6e9e" stroke-width="0.4" />
<polygon points="176.37,130.24 184.07,134.86 184.07,129.16 176.37,124.54" fill="#d3ab7c" stroke="#a97f50" stroke-width="0.3" stroke-linejoin="round"/>
<polygon points="184.07,134.86 190.38,131.18 190.38,125.48 184.07,129.16" fill="#bf9463" stroke="#a97f50" stroke-width="0.3" stroke-linejoin="round"/>
<polygon points="176.37,124.54 182.68,120.86 190.38,125.48 184.07,129.16" fill="#e6c9a3" stroke="#a97f50" stroke-width="0.3" stroke-linejoin="round"/>
<polygon points="184.07,134.86 191.77,139.48 191.77,133.78 184.07,129.16" fill="#d3ab7c" stroke="#a97f50" stroke-width="0.3" stroke-linejoin="round"/>
<polygon points="191.77,139.48 198.08,135.80 198.08,130.10 191.77,133.78" fill="#bf9463" stroke="#a97f50" stroke-width="0.3" stroke-linejoin="round"/>
<polygon points="184.07,129.16 190.38,125.48 198.08,130.10 191.77,133.78" fill="#e6c9a3" stroke="#a97f50" stroke-width="0.3" stroke-linejoin="round"/>
<polygon points="170.06,133.93 177.76,138.55 177.76,132.85 170.06,128.23" fill="#d3ab7c" stroke="#a97f50" stroke-width="0.3" stroke-linejoin="round"/>
<polygon points="177.76,138.55 184.07,134.86 184.07,129.16 177.76,132.85" fill="#bf9463" stroke="#a97f50" stroke-width="0.3" stroke-linejoin="round"/>
<polygon points="170.06,128.23 176.37,124.54 184.07,129.16 177.76,132.85" fill="#e6c9a3" stroke="#a97f50" stroke-width="0.3" stroke-linejoin="round"/>
<polygon points="177.76,138.55 185.46,143.17 185.46,137.47 177.76,132.85" fill="#d3ab7c" stroke="#a97f50" stroke-width="0.3" stroke-linejoin="round"/>
<polygon points="185.46,143.17 191.77,139.48 191.77,133.78 185.46,137.47" fill="#bf9463" stroke="#a97f50" stroke-width="0.3" stroke-linejoin="round"/>
<polygon points="177.76,132.85 184.07,129.16 191.77,133.78 185.46,137.47" fill="#e6c9a3" stroke="#a97f50" stroke-width="0.3" stroke-linejoin="round"/>
<polygon points="176.37,124.54 184.07,129.16 184.07,123.46 176.37,118.84" fill="#d3ab7c" stroke="#a97f50" stroke-width="0.3" stroke-linejoin="round"/>
<polygon points="184.07,129.16 190.38,125.48 190.38,119.78 184.07,123.46" fill="#bf9463" stroke="#a97f50" stroke-width="0.3" stroke-linejoin="round"/>
<polygon points="176.37,118.84 182.68,115.16 190.38,119.78 184.07,123.46" fill="#e6c9a3" stroke="#a97f50" stroke-width="0.3" stroke-linejoin="round"/>
<polygon points="184.07,129.16 191.77,133.78 191.77,128.08 184.07,123.46" fill="#d3ab7c" stroke="#a97f50" stroke-width="0.3" stroke-linejoin="round"/>
<polygon points="191.77,133.78 198.08,130.10 198.08,124.40 191.77,128.08" fill="#bf9463" stroke="#a97f50" stroke-width="0.3" stroke-linejoin="round"/>
<polygon points="184.07,123.46 190.38,119.78 198.08,124.40 191.77,128.08" fill="#e6c9a3" stroke="#a97f50" stroke-width="0.3" stroke-linejoin="round"/>
<polygon points="170.06,128.23 177.76,132.85 177.76,127.15 170.06,122.53" fill="#d3ab7c" stroke="#a97f50" stroke-width="0.3" stroke-linejoin="round"/>
<polygon points="177.76,132.85 184.07,129.16 184.07,123.46 177.76,127.15" fill="#bf9463" stroke="#a97f50" stroke-width="0.3" stroke-linejoin="round"/>
<polygon points="170.06,122.53 176.37,118.84 184.07,123.46 177.76,127.15" fill="#e6c9a3" stroke="#a97f50" stroke-width="0.3" stroke-linejoin="round"/>
<polygon points="177.76,132.85 185.46,137.47 185.46,131.77 177.76,127.15" fill="#d3ab7c" stroke="#a97f50" stroke-width="0.3" stroke-linejoin="round"/>
<polygon points="185.46,137.47 191.77,133.78 191.77,128.08 185.46,131.77" fill="#bf9463" stroke="#a97f50" stroke-width="0.3" stroke-linejoin="round"/>
<polygon points="177.76,127.15 184.07,123.46 191.77,128.08 185.46,131.77" fill="#e6c9a3" stroke="#a97f50" stroke-width="0.3" stroke-linejoin="round"/>
<polygon points="176.37,118.84 184.07,123.46 184.07,117.76 176.37,113.14" fill="#d3ab7c" stroke="#a97f50" stroke-width="0.3" stroke-linejoin="round"/>
<polygon points="184.07,123.46 190.38,119.78 190.38,114.08 184.07,117.76" fill="#bf9463" stroke="#a97f50" stroke-width="0.3" stroke-linejoin="round"/>
<polygon points="176.37,113.14 182.68,109.46 190.38,114.08 184.07,117.76" fill="#e6c9a3" stroke="#a97f50" stroke-width="0.3" stroke-linejoin="round"/>
<polygon points="184.07,123.46 191.77,128.08 191.77,122.38 184.07,117.76" fill="#d3ab7c" stroke="#a97f50" stroke-width="0.3" stroke-linejoin="round"/>
<polygon points="191.77,128.08 198.08,124.40 198.08,118.70 191.77,122.38" fill="#bf9463" stroke="#a97f50" stroke-width="0.3" stroke-linejoin="round"/>
<polygon points="184.07,117.76 190.38,114.08 198.08,118.70 191.77,122.38" fill="#e6c9a3" stroke="#a97f50" stroke-width="0.3" stroke-linejoin="round"/>
<polygon points="170.06,122.53 177.76,127.15 177.76,121.45 170.06,116.83" fill="#d3ab7c" stroke="#a97f50" stroke-width="0.3" stroke-linejoin="round"/>
<polygon points="177.76,127.15 184.07,123.46 184.07,117.76 177.76,121.45" fill="#bf9463" stroke="#a97f50" stroke-width="0.3" stroke-linejoin="round"/>
<polygon points="170.06,116.83 176.37,113.14 184.07,117.76 177.76,121.45" fill="#e6c9a3" stroke="#a97f50" stroke-width="0.3" stroke-linejoin="round"/>
<polygon points="177.76,127.15 185.46,131.77 185.46,126.07 177.76,121.45" fill="#d3ab7c" stroke="#a97f50" stroke-width="0.3" stroke-linejoin="round"/>
<polygon points="185.46,131.77 191.77,128.08 191.77,122.38 185.46,126.07" fill="#bf9463" stroke="#a97f50" stroke-width="0.3" stroke-linejoin="round"/>
<polygon points="177.76,121.45 184.07,117.76 191.77,122.38 185.46,126.07" fill="#e6c9a3" stroke="#a97f50" stroke-width="0.3" stroke-linejoin="round"/>
<polygon points="170.06,116.83 178.06,121.63 178.06,115.23 170.06,110.43" fill="#d3ab7c" stroke="#a97f50" stroke-width="0.3" stroke-linejoin="round"/>
<polygon points="178.06,121.63 190.68,114.26 190.68,107.86 178.06,115.23" fill="#bf9463" stroke="#a97f50" stroke-width="0.3" stroke-linejoin="round"/>
<polygon points="170.06,110.43 182.68,103.06 190.68,107.86 178.06,115.23" fill="#e6c9a3" stroke="#a97f50" stroke-width="0.3" stroke-linejoin="round"/>
<polygon points="148.80,106.12 180.00,87.88 200.00,99.88 168.80,118.12" fill="#c9cdd4" />
<line x1="152.26" y1="104.09" x2="172.26" y2="116.09" stroke="#9fa5ae" stroke-width="0.35" />
<line x1="155.73" y1="102.07" x2="175.73" y2="114.07" stroke="#9fa5ae" stroke-width="0.35" />
<line x1="159.20" y1="100.04" x2="179.20" y2="112.04" stroke="#9fa5ae" stroke-width="0.35" />
<line x1="162.67" y1="98.01" x2="182.67" y2="110.01" stroke="#9fa5ae" stroke-width="0.35" />
<line x1="166.13" y1="95.99" x2="186.13" y2="107.99" stroke="#9fa5ae" stroke-width="0.35" />
<line x1="169.60" y1="93.96" x2="189.60" y2="105.96" stroke="#9fa5ae" stroke-width="0.35" />
<line x1="173.07" y1="91.93" x2="193.07" y2="103.93" stroke="#9fa5ae" stroke-width="0.35" />
<line x1="176.54" y1="89.91" x2="196.54" y2="101.91" stroke="#9fa5ae" stroke-width="0.35" />
<line x1="155.40" y1="110.08" x2="186.60" y2="91.84" stroke="#eef0f3" stroke-width="0.5" />
<line x1="162.00" y1="114.04" x2="193.20" y2="95.80" stroke="#eef0f3" stroke-width="0.5" />
<polygon points="149.86,105.97 157.86,110.77 157.86,97.27 149.86,92.47" fill="#d3ab7c" stroke="#b18a5c" stroke-width="0.3" stroke-linejoin="round"/>
<polygon points="157.86,110.77 169.48,103.98 169.48,90.48 157.86,97.27" fill="#bf9463" stroke="#b18a5c" stroke-width="0.3" stroke-linejoin="round"/>
<polygon points="149.86,92.47 161.48,85.68 169.48,90.48 157.86,97.27" fill="#e6c9a3" stroke="#b18a5c" stroke-width="0.3" stroke-linejoin="round"/>
<line x1="153.86" y1="94.87" x2="165.48" y2="88.08" stroke="#c9a77a" stroke-width="0.5" />
<line x1="153.86" y1="94.87" x2="153.86" y2="99.59" stroke="#b88f5e" stroke-width="0.5" />
<polygon points="170.47,101.03 180.47,107.03 180.47,89.53 170.47,83.53" fill="#d3ab7c" stroke="#b18a5c" stroke-width="0.3" stroke-linejoin="round"/>
<polygon points="180.47,107.03 193.08,99.66 193.08,82.16 180.47,89.53" fill="#bf9463" stroke="#b18a5c" stroke-width="0.3" stroke-linejoin="round"/>
<polygon points="170.47,83.53 183.08,76.16 193.08,82.16 180.47,89.53" fill="#e6c9a3" stroke="#b18a5c" stroke-width="0.3" stroke-linejoin="round"/>
<line x1="175.47" y1="86.53" x2="188.08" y2="79.16" stroke="#c9a77a" stroke-width="0.5" />
<line x1="175.47" y1="86.53" x2="175.47" y2="92.66" stroke="#b88f5e" stroke-width="0.5" />
<line x1="147.80" y1="93.20" x2="167.80" y2="82.20" stroke="#2a88bd" stroke-width="1.3" stroke-linecap="butt"/>
<line x1="147.80" y1="93.70" x2="167.80" y2="82.70" stroke="#1d6e9e" stroke-width="0.4" />
<line x1="147.80" y1="93.20" x2="167.80" y2="121.20" stroke="#2a88bd" stroke-width="1.3" stroke-linecap="butt"/>
<line x1="147.80" y1="93.70" x2="167.80" y2="121.70" stroke="#1d6e9e" stroke-width="0.4" />
<line x1="147.80" y1="135.20" x2="167.80" y2="123.20" stroke="#2a88bd" stroke-width="1.3" stroke-linecap="butt"/>
<line x1="147.80" y1="135.70" x2="167.80" y2="123.70" stroke="#1d6e9e" stroke-width="0.4" />
<line x1="147.80" y1="135.20" x2="167.80" y2="161.20" stroke="#2a88bd" stroke-width="1.3" stroke-linecap="butt"/>
<line x1="147.80" y1="135.70" x2="167.80" y2="161.70" stroke="#1d6e9e" stroke-width="0.4" />
<line x1="147.80" y1="69.70" x2="167.80" y2="81.70" stroke="#2a88bd" stroke-width="1.3" stroke-linecap="butt"/>
<line x1="147.80" y1="70.20" x2="167.80" y2="82.20" stroke="#1d6e9e" stroke-width="0.4" />
<polygon points="115.60,125.52 146.80,107.28 166.80,119.28 135.60,137.52" fill="#c9cdd4" />
<line x1="119.06" y1="123.49" x2="139.06" y2="135.49" stroke="#9fa5ae" stroke-width="0.35" />
<line x1="122.53" y1="121.47" x2="142.53" y2="133.47" stroke="#9fa5ae" stroke-width="0.35" />
<line x1="126.00" y1="119.44" x2="146.00" y2="131.44" stroke="#9fa5ae" stroke-width="0.35" />
<line x1="129.47" y1="117.41" x2="149.47" y2="129.41" stroke="#9fa5ae" stroke-width="0.35" />
<line x1="132.93" y1="115.39" x2="152.93" y2="127.39" stroke="#9fa5ae" stroke-width="0.35" />
<line x1="136.40" y1="113.36" x2="156.40" y2="125.36" stroke="#9fa5ae" stroke-width="0.35" />
<line x1="139.87" y1="111.33" x2="159.87" y2="123.33" stroke="#9fa5ae" stroke-width="0.35" />
<line x1="143.34" y1="109.31" x2="163.34" y2="121.31" stroke="#9fa5ae" stroke-width="0.35" />
<line x1="122.20" y1="129.48" x2="153.40" y2="111.24" stroke="#eef0f3" stroke-width="0.5" />
<line x1="128.80" y1="133.44" x2="160.00" y2="115.20" stroke="#eef0f3" stroke-width="0.5" />
<polygon points="136.88,123.74 146.48,129.50 146.48,109.00 136.88,103.24" fill="#d3ab7c" stroke="#b18a5c" stroke-width="0.3" stroke-linejoin="round"/>
<polygon points="146.48,129.50 163.08,119.80 163.08,99.30 146.48,109.00" fill="#bf9463" stroke="#b18a5c" stroke-width="0.3" stroke-linejoin="round"/>
<polygon points="136.88,103.24 153.48,93.54 163.08,99.30 146.48,109.00" fill="#e6c9a3" stroke="#b18a5c" stroke-width="0.3" stroke-linejoin="round"/>
<line x1="141.68" y1="106.12" x2="158.28" y2="96.42" stroke="#c9a77a" stroke-width="0.5" />
<line x1="141.68" y1="106.12" x2="141.68" y2="113.30" stroke="#b88f5e" stroke-width="0.5" />
<line x1="114.60" y1="112.60" x2="134.60" y2="101.60" stroke="#2a88bd" stroke-width="1.3" stroke-linecap="butt"/>
<line x1="114.60" y1="113.10" x2="134.60" y2="102.10" stroke="#1d6e9e" stroke-width="0.4" />
<line x1="114.60" y1="112.60" x2="134.60" y2="140.60" stroke="#2a88bd" stroke-width="1.3" stroke-linecap="butt"/>
<line x1="114.60" y1="113.10" x2="134.60" y2="141.10" stroke="#1d6e9e" stroke-width="0.4" />
<line x1="114.60" y1="154.60" x2="134.60" y2="142.60" stroke="#2a88bd" stroke-width="1.3" stroke-linecap="butt"/>
<line x1="114.60" y1="155.10" x2="134.60" y2="143.10" stroke="#1d6e9e" stroke-width="0.4" />
<line x1="114.60" y1="154.60" x2="134.60" y2="180.60" stroke="#2a88bd" stroke-width="1.3" stroke-linecap="butt"/>
<line x1="114.60" y1="155.10" x2="134.60" y2="181.10" stroke="#1d6e9e" stroke-width="0.4" />
<line x1="114.60" y1="89.10" x2="134.60" y2="101.10" stroke="#2a88bd" stroke-width="1.3" stroke-linecap="butt"/>
<line x1="114.60" y1="89.60" x2="134.60" y2="101.60" stroke="#1d6e9e" stroke-width="0.4" />
<polygon points="109.97,169.04 117.67,173.66 117.67,167.96 109.97,163.34" fill="#d3ab7c" stroke="#a97f50" stroke-width="0.3" stroke-linejoin="round"/>
<polygon points="117.67,173.66 123.98,169.98 123.98,164.28 117.67,167.96" fill="#bf9463" stroke="#a97f50" stroke-width="0.3" stroke-linejoin="round"/>
<polygon points="109.97,163.34 116.28,159.66 123.98,164.28 117.67,167.96" fill="#e6c9a3" stroke="#a97f50" stroke-width="0.3" stroke-linejoin="round"/>
<polygon points="117.67,173.66 125.37,178.28 125.37,172.58 117.67,167.96" fill="#d3ab7c" stroke="#a97f50" stroke-width="0.3" stroke-linejoin="round"/>
<polygon points="125.37,178.28 131.68,174.60 131.68,168.90 125.37,172.58" fill="#bf9463" stroke="#a97f50" stroke-width="0.3" stroke-linejoin="round"/>
<polygon points="117.67,167.96 123.98,164.28 131.68,168.90 125.37,172.58" fill="#e6c9a3" stroke="#a97f50" stroke-width="0.3" stroke-linejoin="round"/>
<polygon points="103.66,172.73 111.36,177.35 111.36,171.65 103.66,167.03" fill="#d3ab7c" stroke="#a97f50" stroke-width="0.3" stroke-linejoin="round"/>
<polygon points="111.36,177.35 117.67,173.66 117.67,167.96 111.36,171.65" fill="#bf9463" stroke="#a97f50" stroke-width="0.3" stroke-linejoin="round"/>
<polygon points="103.66,167.03 109.97,163.34 117.67,167.96 111.36,171.65" fill="#e6c9a3" stroke="#a97f50" stroke-width="0.3" stroke-linejoin="round"/>
<polygon points="111.36,177.35 119.06,181.97 119.06,176.27 111.36,171.65" fill="#d3ab7c" stroke="#a97f50" stroke-width="0.3" stroke-linejoin="round"/>
<polygon points="119.06,181.97 125.37,178.28 125.37,172.58 119.06,176.27" fill="#bf9463" stroke="#a97f50" stroke-width="0.3" stroke-linejoin="round"/>
<polygon points="111.36,171.65 117.67,167.96 125.37,172.58 119.06,176.27" fill="#e6c9a3" stroke="#a97f50" stroke-width="0.3" stroke-linejoin="round"/>
<polygon points="109.97,163.34 117.67,167.96 117.67,162.26 109.97,157.64" fill="#d3ab7c" stroke="#a97f50" stroke-width="0.3" stroke-linejoin="round"/>
<polygon points="117.67,167.96 123.98,164.28 123.98,158.58 117.67,162.26" fill="#bf9463" stroke="#a97f50" stroke-width="0.3" stroke-linejoin="round"/>
<polygon points="109.97,157.64 116.28,153.96 123.98,158.58 117.67,162.26" fill="#e6c9a3" stroke="#a97f50" stroke-width="0.3" stroke-linejoin="round"/>
<polygon points="117.67,167.96 125.37,172.58 125.37,166.88 117.67,162.26" fill="#d3ab7c" stroke="#a97f50" stroke-width="0.3" stroke-linejoin="round"/>
<polygon points="125.37,172.58 131.68,168.90 131.68,163.20 125.37,166.88" fill="#bf9463" stroke="#a97f50" stroke-width="0.3" stroke-linejoin="round"/>
<polygon points="117.67,162.26 123.98,158.58 131.68,163.20 125.37,166.88" fill="#e6c9a3" stroke="#a97f50" stroke-width="0.3" stroke-linejoin="round"/>
<polygon points="103.66,167.03 111.36,171.65 111.36,165.95 103.66,161.33" fill="#d3ab7c" stroke="#a97f50" stroke-width="0.3" stroke-linejoin="round"/>
<polygon points="111.36,171.65 117.67,167.96 117.67,162.26 111.36,165.95" fill="#bf9463" stroke="#a97f50" stroke-width="0.3" stroke-linejoin="round"/>
<polygon points="103.66,161.33 109.97,157.64 117.67,162.26 111.36,165.95" fill="#e6c9a3" stroke="#a97f50" stroke-width="0.3" stroke-linejoin="round"/>
<polygon points="111.36,171.65 119.06,176.27 119.06,170.57 111.36,165.95" fill="#d3ab7c" stroke="#a97f50" stroke-width="0.3" stroke-linejoin="round"/>
<polygon points="119.06,176.27 125.37,172.58 125.37,166.88 119.06,170.57" fill="#bf9463" stroke="#a97f50" stroke-width="0.3" stroke-linejoin="round"/>
<polygon points="111.36,165.95 117.67,162.26 125.37,166.88 119.06,170.57" fill="#e6c9a3" stroke="#a97f50" stroke-width="0.3" stroke-linejoin="round"/>
<polygon points="109.97,157.64 117.67,162.26 117.67,156.56 109.97,151.94" fill="#d3ab7c" stroke="#a97f50" stroke-width="0.3" stroke-linejoin="round"/>
<polygon points="117.67,162.26 123.98,158.58 123.98,152.88 117.67,156.56" fill="#bf9463" stroke="#a97f50" stroke-width="0.3" stroke-linejoin="round"/>
<polygon points="109.97,151.94 116.28,148.26 123.98,152.88 117.67,156.56" fill="#e6c9a3" stroke="#a97f50" stroke-width="0.3" stroke-linejoin="round"/>
<polygon points="117.67,162.26 125.37,166.88 125.37,161.18 117.67,156.56" fill="#d3ab7c" stroke="#a97f50" stroke-width="0.3" stroke-linejoin="round"/>
<polygon points="125.37,166.88 131.68,163.20 131.68,157.50 125.37,161.18" fill="#bf9463" stroke="#a97f50" stroke-width="0.3" stroke-linejoin="round"/>
<polygon points="117.67,156.56 123.98,152.88 131.68,157.50 125.37,161.18" fill="#e6c9a3" stroke="#a97f50" stroke-width="0.3" stroke-linejoin="round"/>
<polygon points="103.66,161.33 111.36,165.95 111.36,160.25 103.66,155.63" fill="#d3ab7c" stroke="#a97f50" stroke-width="0.3" stroke-linejoin="round"/>
<polygon points="111.36,165.95 117.67,162.26 117.67,156.56 111.36,160.25" fill="#bf9463" stroke="#a97f50" stroke-width="0.3" stroke-linejoin="round"/>
<polygon points="103.66,155.63 109.97,151.94 117.67,156.56 111.36,160.25" fill="#e6c9a3" stroke="#a97f50" stroke-width="0.3" stroke-linejoin="round"/>
<polygon points="111.36,165.95 119.06,170.57 119.06,164.87 111.36,160.25" fill="#d3ab7c" stroke="#a97f50" stroke-width="0.3" stroke-linejoin="round"/>
<polygon points="119.06,170.57 125.37,166.88 125.37,161.18 119.06,164.87" fill="#bf9463" stroke="#a97f50" stroke-width="0.3" stroke-linejoin="round"/>
<polygon points="111.36,160.25 117.67,156.56 125.37,161.18 119.06,164.87" fill="#e6c9a3" stroke="#a97f50" stroke-width="0.3" stroke-linejoin="round"/>
<polygon points="103.66,155.63 111.66,160.43 111.66,154.03 103.66,149.23" fill="#d3ab7c" stroke="#a97f50" stroke-width="0.3" stroke-linejoin="round"/>
<polygon points="111.66,160.43 124.28,153.06 124.28,146.66 111.66,154.03" fill="#bf9463" stroke="#a97f50" stroke-width="0.3" stroke-linejoin="round"/>
<polygon points="103.66,149.23 116.28,141.86 124.28,146.66 111.66,154.03" fill="#e6c9a3" stroke="#a97f50" stroke-width="0.3" stroke-linejoin="round"/>
<polygon points="82.40,144.92 113.60,126.68 133.60,138.68 102.40,156.92" fill="#c9cdd4" />
<line x1="85.86" y1="142.89" x2="105.86" y2="154.89" stroke="#9fa5ae" stroke-width="0.35" />
<line x1="89.33" y1="140.87" x2="109.33" y2="152.87" stroke="#9fa5ae" stroke-width="0.35" />
<line x1="92.80" y1="138.84" x2="112.80" y2="150.84" stroke="#9fa5ae" stroke-width="0.35" />
<line x1="96.27" y1="136.81" x2="116.27" y2="148.81" stroke="#9fa5ae" stroke-width="0.35" />
<line x1="99.73" y1="134.79" x2="119.73" y2="146.79" stroke="#9fa5ae" stroke-width="0.35" />
<line x1="103.20" y1="132.76" x2="123.20" y2="144.76" stroke="#9fa5ae" stroke-width="0.35" />
<line x1="106.67" y1="130.73" x2="126.67" y2="142.73" stroke="#9fa5ae" stroke-width="0.35" />
<line x1="110.14" y1="128.71" x2="130.14" y2="140.71" stroke="#9fa5ae" stroke-width="0.35" />
<line x1="89.00" y1="148.88" x2="120.20" y2="130.64" stroke="#eef0f3" stroke-width="0.5" />
<line x1="95.60" y1="152.84" x2="126.80" y2="134.60" stroke="#eef0f3" stroke-width="0.5" />
<polygon points="103.32,136.24 117.92,145.00 117.92,134.00 103.32,125.24" fill="#d3ab7c" stroke="#b18a5c" stroke-width="0.3" stroke-linejoin="round"/>
<polygon points="117.92,145.00 128.88,138.60 128.88,127.60 117.92,134.00" fill="#bf9463" stroke="#b18a5c" stroke-width="0.3" stroke-linejoin="round"/>
<polygon points="103.32,125.24 114.28,118.84 128.88,127.60 117.92,134.00" fill="#e6c9a3" stroke="#b18a5c" stroke-width="0.3" stroke-linejoin="round"/>
<line x1="110.62" y1="129.62" x2="121.58" y2="123.22" stroke="#c9a77a" stroke-width="0.5" />
<line x1="110.62" y1="129.62" x2="110.62" y2="133.47" stroke="#b88f5e" stroke-width="0.5" />
<polygon points="90.04,144.00 104.64,152.76 104.64,141.76 90.04,133.00" fill="#d3ab7c" stroke="#b18a5c" stroke-width="0.3" stroke-linejoin="round"/>
<polygon points="104.64,152.76 115.60,146.36 115.60,135.36 104.64,141.76" fill="#bf9463" stroke="#b18a5c" stroke-width="0.3" stroke-linejoin="round"/>
<polygon points="90.04,133.00 101.00,126.60 115.60,135.36 104.64,141.76" fill="#e6c9a3" stroke="#b18a5c" stroke-width="0.3" stroke-linejoin="round"/>
<line x1="97.34" y1="137.38" x2="108.30" y2="130.98" stroke="#c9a77a" stroke-width="0.5" />
<line x1="97.34" y1="137.38" x2="97.34" y2="141.23" stroke="#b88f5e" stroke-width="0.5" />
<line x1="81.40" y1="132.00" x2="101.40" y2="121.00" stroke="#2a88bd" stroke-width="1.3" stroke-linecap="butt"/>
<line x1="81.40" y1="132.50" x2="101.40" y2="121.50" stroke="#1d6e9e" stroke-width="0.4" />
<line x1="81.40" y1="132.00" x2="101.40" y2="160.00" stroke="#2a88bd" stroke-width="1.3" stroke-linecap="butt"/>
<line x1="81.40" y1="132.50" x2="101.40" y2="160.50" stroke="#1d6e9e" stroke-width="0.4" />
<line x1="81.40" y1="174.00" x2="101.40" y2="162.00" stroke="#2a88bd" stroke-width="1.3" stroke-linecap="butt"/>
<line x1="81.40" y1="174.50" x2="101.40" y2="162.50" stroke="#1d6e9e" stroke-width="0.4" />
<line x1="81.40" y1="174.00" x2="101.40" y2="200.00" stroke="#2a88bd" stroke-width="1.3" stroke-linecap="butt"/>
<line x1="81.40" y1="174.50" x2="101.40" y2="200.50" stroke="#1d6e9e" stroke-width="0.4" />
<line x1="81.40" y1="108.50" x2="101.40" y2="120.50" stroke="#2a88bd" stroke-width="1.3" stroke-linecap="butt"/>
<line x1="81.40" y1="109.00" x2="101.40" y2="121.00" stroke="#1d6e9e" stroke-width="0.4" />
<line x1="101.40" y1="134.90" x2="201.00" y2="76.70" stroke="#c9592a" stroke-width="2.2" />
<line x1="101.40" y1="134.10" x2="201.00" y2="75.90" stroke="#de7946" stroke-width="0.6" />
<line x1="101.40" y1="158.90" x2="201.00" y2="100.70" stroke="#c9592a" stroke-width="2.2" />
<line x1="101.40" y1="158.10" x2="201.00" y2="99.90" stroke="#de7946" stroke-width="0.6" />
<line x1="101.40" y1="198.70" x2="201.00" y2="140.50" stroke="#c9592a" stroke-width="2.2" />
<line x1="101.40" y1="197.90" x2="201.00" y2="139.70" stroke="#de7946" stroke-width="0.6" />
<polygon points="198.25,143.20 201.00,144.70 203.75,143.20 203.75,141.20 201.00,142.60 198.25,141.20" fill="#d0622d" />
<polygon points="198.25,143.20 201.00,144.70 201.00,142.60 198.25,141.20" fill="#e07a45" />
<polygon points="199.05,142.30 201.00,143.30 201.00,60.80 199.05,59.80" fill="#1f74a6" />
<polygon points="201.00,143.30 202.95,142.30 202.95,59.80 201.00,60.80" fill="#145681" />
<polygon points="199.05,59.80 201.00,60.80 202.95,59.80 201.00,58.80" fill="#3f8fbe" />
<rect x="199.73" y="137.80" width="0.7" height="1.0" fill="#1a5e88" opacity="0.7"/>
<rect x="199.73" y="134.60" width="0.7" height="1.0" fill="#1a5e88" opacity="0.7"/>
<rect x="199.73" y="131.40" width="0.7" height="1.0" fill="#1a5e88" opacity="0.7"/>
<rect x="199.73" y="128.20" width="0.7" height="1.0" fill="#1a5e88" opacity="0.7"/>
<rect x="199.73" y="125.00" width="0.7" height="1.0" fill="#1a5e88" opacity="0.7"/>
<rect x="199.73" y="121.80" width="0.7" height="1.0" fill="#1a5e88" opacity="0.7"/>
<rect x="199.73" y="118.60" width="0.7" height="1.0" fill="#1a5e88" opacity="0.7"/>
<rect x="199.73" y="115.40" width="0.7" height="1.0" fill="#1a5e88" opacity="0.7"/>
<rect x="199.73" y="112.20" width="0.7" height="1.0" fill="#1a5e88" opacity="0.7"/>
<rect x="199.73" y="109.00" width="0.7" height="1.0" fill="#1a5e88" opacity="0.7"/>
<rect x="199.73" y="105.80" width="0.7" height="1.0" fill="#1a5e88" opacity="0.7"/>
<rect x="199.73" y="102.60" width="0.7" height="1.0" fill="#1a5e88" opacity="0.7"/>
<rect x="199.73" y="99.40" width="0.7" height="1.0" fill="#1a5e88" opacity="0.7"/>
<rect x="199.73" y="96.20" width="0.7" height="1.0" fill="#1a5e88" opacity="0.7"/>
<rect x="199.73" y="93.00" width="0.7" height="1.0" fill="#1a5e88" opacity="0.7"/>
<rect x="199.73" y="89.80" width="0.7" height="1.0" fill="#1a5e88" opacity="0.7"/>
<rect x="199.73" y="86.60" width="0.7" height="1.0" fill="#1a5e88" opacity="0.7"/>
<rect x="199.73" y="83.40" width="0.7" height="1.0" fill="#1a5e88" opacity="0.7"/>
<rect x="199.73" y="80.20" width="0.7" height="1.0" fill="#1a5e88" opacity="0.7"/>
<rect x="199.73" y="77.00" width="0.7" height="1.0" fill="#1a5e88" opacity="0.7"/>
<rect x="199.73" y="73.80" width="0.7" height="1.0" fill="#1a5e88" opacity="0.7"/>
<rect x="199.73" y="70.60" width="0.7" height="1.0" fill="#1a5e88" opacity="0.7"/>
<rect x="199.73" y="67.40" width="0.7" height="1.0" fill="#1a5e88" opacity="0.7"/>
<rect x="199.73" y="64.20" width="0.7" height="1.0" fill="#1a5e88" opacity="0.7"/>
<polygon points="165.05,162.60 167.80,164.10 170.55,162.60 170.55,160.60 167.80,162.00 165.05,160.60" fill="#d0622d" />
<polygon points="165.05,162.60 167.80,164.10 167.80,162.00 165.05,160.60" fill="#e07a45" />
<polygon points="165.85,161.70 167.80,162.70 167.80,80.20 165.85,79.20" fill="#1f74a6" />
<polygon points="167.80,162.70 169.75,161.70 169.75,79.20 167.80,80.20" fill="#145681" />
<polygon points="165.85,79.20 167.80,80.20 169.75,79.20 167.80,78.20" fill="#3f8fbe" />
<rect x="166.53" y="157.20" width="0.7" height="1.0" fill="#1a5e88" opacity="0.7"/>
<rect x="166.53" y="154.00" width="0.7" height="1.0" fill="#1a5e88" opacity="0.7"/>
<rect x="166.53" y="150.80" width="0.7" height="1.0" fill="#1a5e88" opacity="0.7"/>
<rect x="166.53" y="147.60" width="0.7" height="1.0" fill="#1a5e88" opacity="0.7"/>
<rect x="166.53" y="144.40" width="0.7" height="1.0" fill="#1a5e88" opacity="0.7"/>
<rect x="166.53" y="141.20" width="0.7" height="1.0" fill="#1a5e88" opacity="0.7"/>
<rect x="166.53" y="138.00" width="0.7" height="1.0" fill="#1a5e88" opacity="0.7"/>
<rect x="166.53" y="134.80" width="0.7" height="1.0" fill="#1a5e88" opacity="0.7"/>
<rect x="166.53" y="131.60" width="0.7" height="1.0" fill="#1a5e88" opacity="0.7"/>
<rect x="166.53" y="128.40" width="0.7" height="1.0" fill="#1a5e88" opacity="0.7"/>
<rect x="166.53" y="125.20" width="0.7" height="1.0" fill="#1a5e88" opacity="0.7"/>
<rect x="166.53" y="122.00" width="0.7" height="1.0" fill="#1a5e88" opacity="0.7"/>
<rect x="166.53" y="118.80" width="0.7" height="1.0" fill="#1a5e88" opacity="0.7"/>
<rect x="166.53" y="115.60" width="0.7" height="1.0" fill="#1a5e88" opacity="0.7"/>
<rect x="166.53" y="112.40" width="0.7" height="1.0" fill="#1a5e88" opacity="0.7"/>
<rect x="166.53" y="109.20" width="0.7" height="1.0" fill="#1a5e88" opacity="0.7"/>
<rect x="166.53" y="106.00" width="0.7" height="1.0" fill="#1a5e88" opacity="0.7"/>
<rect x="166.53" y="102.80" width="0.7" height="1.0" fill="#1a5e88" opacity="0.7"/>
<rect x="166.53" y="99.60" width="0.7" height="1.0" fill="#1a5e88" opacity="0.7"/>
<rect x="166.53" y="96.40" width="0.7" height="1.0" fill="#1a5e88" opacity="0.7"/>
<rect x="166.53" y="93.20" width="0.7" height="1.0" fill="#1a5e88" opacity="0.7"/>
<rect x="166.53" y="90.00" width="0.7" height="1.0" fill="#1a5e88" opacity="0.7"/>
<rect x="166.53" y="86.80" width="0.7" height="1.0" fill="#1a5e88" opacity="0.7"/>
<rect x="166.53" y="83.60" width="0.7" height="1.0" fill="#1a5e88" opacity="0.7"/>
<polygon points="131.85,182.00 134.60,183.50 137.35,182.00 137.35,180.00 134.60,181.40 131.85,180.00" fill="#d0622d" />
<polygon points="131.85,182.00 134.60,183.50 134.60,181.40 131.85,180.00" fill="#e07a45" />
<polygon points="132.65,181.10 134.60,182.10 134.60,99.60 132.65,98.60" fill="#1f74a6" />
<polygon points="134.60,182.10 136.55,181.10 136.55,98.60 134.60,99.60" fill="#145681" />
<polygon points="132.65,98.60 134.60,99.60 136.55,98.60 134.60,97.60" fill="#3f8fbe" />
<rect x="133.33" y="176.60" width="0.7" height="1.0" fill="#1a5e88" opacity="0.7"/>
<rect x="133.33" y="173.40" width="0.7" height="1.0" fill="#1a5e88" opacity="0.7"/>
<rect x="133.33" y="170.20" width="0.7" height="1.0" fill="#1a5e88" opacity="0.7"/>
<rect x="133.33" y="167.00" width="0.7" height="1.0" fill="#1a5e88" opacity="0.7"/>
<rect x="133.33" y="163.80" width="0.7" height="1.0" fill="#1a5e88" opacity="0.7"/>
<rect x="133.33" y="160.60" width="0.7" height="1.0" fill="#1a5e88" opacity="0.7"/>
<rect x="133.33" y="157.40" width="0.7" height="1.0" fill="#1a5e88" opacity="0.7"/>
<rect x="133.33" y="154.20" width="0.7" height="1.0" fill="#1a5e88" opacity="0.7"/>
<rect x="133.33" y="151.00" width="0.7" height="1.0" fill="#1a5e88" opacity="0.7"/>
<rect x="133.33" y="147.80" width="0.7" height="1.0" fill="#1a5e88" opacity="0.7"/>
<rect x="133.33" y="144.60" width="0.7" height="1.0" fill="#1a5e88" opacity="0.7"/>
<rect x="133.33" y="141.40" width="0.7" height="1.0" fill="#1a5e88" opacity="0.7"/>
<rect x="133.33" y="138.20" width="0.7" height="1.0" fill="#1a5e88" opacity="0.7"/>
<rect x="133.33" y="135.00" width="0.7" height="1.0" fill="#1a5e88" opacity="0.7"/>
<rect x="133.33" y="131.80" width="0.7" height="1.0" fill="#1a5e88" opacity="0.7"/>
<rect x="133.33" y="128.60" width="0.7" height="1.0" fill="#1a5e88" opacity="0.7"/>
<rect x="133.33" y="125.40" width="0.7" height="1.0" fill="#1a5e88" opacity="0.7"/>
<rect x="133.33" y="122.20" width="0.7" height="1.0" fill="#1a5e88" opacity="0.7"/>
<rect x="133.33" y="119.00" width="0.7" height="1.0" fill="#1a5e88" opacity="0.7"/>
<rect x="133.33" y="115.80" width="0.7" height="1.0" fill="#1a5e88" opacity="0.7"/>
<rect x="133.33" y="112.60" width="0.7" height="1.0" fill="#1a5e88" opacity="0.7"/>
<rect x="133.33" y="109.40" width="0.7" height="1.0" fill="#1a5e88" opacity="0.7"/>
<rect x="133.33" y="106.20" width="0.7" height="1.0" fill="#1a5e88" opacity="0.7"/>
<rect x="133.33" y="103.00" width="0.7" height="1.0" fill="#1a5e88" opacity="0.7"/>
<polygon points="98.65,201.40 101.40,202.90 104.15,201.40 104.15,199.40 101.40,200.80 98.65,199.40" fill="#d0622d" />
<polygon points="98.65,201.40 101.40,202.90 101.40,200.80 98.65,199.40" fill="#e07a45" />
<polygon points="99.45,200.50 101.40,201.50 101.40,119.00 99.45,118.00" fill="#1f74a6" />
<polygon points="101.40,201.50 103.35,200.50 103.35,118.00 101.40,119.00" fill="#145681" />
<polygon points="99.45,118.00 101.40,119.00 103.35,118.00 101.40,117.00" fill="#3f8fbe" />
<rect x="100.13" y="196.00" width="0.7" height="1.0" fill="#1a5e88" opacity="0.7"/>
<rect x="100.13" y="192.80" width="0.7" height="1.0" fill="#1a5e88" opacity="0.7"/>
<rect x="100.13" y="189.60" width="0.7" height="1.0" fill="#1a5e88" opacity="0.7"/>
<rect x="100.13" y="186.40" width="0.7" height="1.0" fill="#1a5e88" opacity="0.7"/>
<rect x="100.13" y="183.20" width="0.7" height="1.0" fill="#1a5e88" opacity="0.7"/>
<rect x="100.13" y="180.00" width="0.7" height="1.0" fill="#1a5e88" opacity="0.7"/>
<rect x="100.13" y="176.80" width="0.7" height="1.0" fill="#1a5e88" opacity="0.7"/>
<rect x="100.13" y="173.60" width="0.7" height="1.0" fill="#1a5e88" opacity="0.7"/>
<rect x="100.13" y="170.40" width="0.7" height="1.0" fill="#1a5e88" opacity="0.7"/>
<rect x="100.13" y="167.20" width="0.7" height="1.0" fill="#1a5e88" opacity="0.7"/>
<rect x="100.13" y="164.00" width="0.7" height="1.0" fill="#1a5e88" opacity="0.7"/>
<rect x="100.13" y="160.80" width="0.7" height="1.0" fill="#1a5e88" opacity="0.7"/>
<rect x="100.13" y="157.60" width="0.7" height="1.0" fill="#1a5e88" opacity="0.7"/>
<rect x="100.13" y="154.40" width="0.7" height="1.0" fill="#1a5e88" opacity="0.7"/>
<rect x="100.13" y="151.20" width="0.7" height="1.0" fill="#1a5e88" opacity="0.7"/>
<rect x="100.13" y="148.00" width="0.7" height="1.0" fill="#1a5e88" opacity="0.7"/>
<rect x="100.13" y="144.80" width="0.7" height="1.0" fill="#1a5e88" opacity="0.7"/>
<rect x="100.13" y="141.60" width="0.7" height="1.0" fill="#1a5e88" opacity="0.7"/>
<rect x="100.13" y="138.40" width="0.7" height="1.0" fill="#1a5e88" opacity="0.7"/>
<rect x="100.13" y="135.20" width="0.7" height="1.0" fill="#1a5e88" opacity="0.7"/>
<rect x="100.13" y="132.00" width="0.7" height="1.0" fill="#1a5e88" opacity="0.7"/>
<rect x="100.13" y="128.80" width="0.7" height="1.0" fill="#1a5e88" opacity="0.7"/>
<rect x="100.13" y="125.60" width="0.7" height="1.0" fill="#1a5e88" opacity="0.7"/>
<rect x="100.13" y="122.40" width="0.7" height="1.0" fill="#1a5e88" opacity="0.7"/>
<circle cx="35.5" cy="119.89999999999999" r="16.5" fill="#9fb4c6" opacity="0.45"/>
<circle cx="35.5" cy="119.3" r="15.899999999999999" fill="#d8eefb"/>
<circle cx="35.5" cy="119.3" r="15.2" fill="url(#bcG)"/>
<g fill="none" stroke="#ffffff" stroke-linecap="round">
<path d="M26.7,119.5 Q35.5,111.7 44.3,119.5" stroke-width="1.8"/>
<path d="M29.8,123.2 Q35.5,117.0 41.2,123.2" stroke-width="1.8"/>
</g>
<circle cx="196.8" cy="95.19999999999999" r="16.5" fill="#9fb4c6" opacity="0.45"/>
<circle cx="196.8" cy="94.6" r="15.899999999999999" fill="#d8eefb"/>
<circle cx="196.8" cy="94.6" r="15.2" fill="url(#bcG)"/>
<g fill="none" stroke="#ffffff" stroke-linecap="round">
<path d="M188.0,94.8 Q196.8,87.0 205.60000000000002,94.8" stroke-width="1.8"/>
<path d="M191.10000000000002,98.5 Q196.8,92.3 202.5,98.5" stroke-width="1.8"/>
</g>
<rect x="240.00" y="574.00" width="246.00" height="1.60" fill="#ececec" rx="0.8"/>
<path d="M260,564.5 L260,431 Q260,423.8 267.5,423.8 L464.3,423.8 Q471.8,423.8 471.8,431 L471.8,564.5 Z" fill="#0c0c0d"/>
<defs><linearGradient id="baseG" x1="0" y1="0" x2="0" y2="1"><stop offset="0" stop-color="#1a1a1b"/><stop offset="0.22" stop-color="#1e1e20"/><stop offset="0.4" stop-color="#4a4a4c"/><stop offset="0.7" stop-color="#38383a"/><stop offset="1" stop-color="#1d1d1f"/></linearGradient></defs>
<path d="M236.4,564.6 L489.8,564.6 Q490.8,564.6 490.8,565.6 L490.8,570 Q490.8,574.3 485,574.3 L241.2,574.3 Q235.4,574.3 235.4,570 L235.4,565.6 Q235.4,564.6 236.4,564.6 Z" fill="url(#baseG)"/>
<path d="M345.8,564.2 L385.5,564.2 L385.5,566.2 Q385.5,567.8 383.5,567.8 L347.8,567.8 Q345.8,567.8 345.8,566.2 Z" fill="#0f0f10"/>
<circle cx="366" cy="427.8" r="0.7" fill="#333"/>
<rect x="265.30" y="432.00" width="199.90" height="124.20" fill="#fbfcfd" />
<rect x="265.30" y="432.00" width="199.90" height="3.00" fill="#e4eaf2" />
<rect x="265.30" y="432.00" width="6.20" height="3.00" fill="#2a67c0" />
<rect x="272.50" y="432.40" width="8.00" height="2.60" fill="#f7f9fc" />
<rect x="282.00" y="433.00" width="6.00" height="1.00" fill="#b6bcc6" />
<rect x="290.00" y="433.00" width="7.00" height="1.00" fill="#b6bcc6" />
<rect x="265.30" y="435.00" width="199.90" height="10.60" fill="#f1f4f8" />
<rect x="267.40" y="436.70" width="2.80" height="3.40" fill="#c9453c" opacity="0.6"/>
<rect x="266.60" y="441.60" width="4.40" height="0.70" fill="#a9afb8" />
<rect x="267.00" y="442.90" width="3.60" height="0.60" fill="#c0c5cc" />
<rect x="273.80" y="436.70" width="2.80" height="3.40" fill="#e6c34a" opacity="0.6"/>
<rect x="273.00" y="441.60" width="4.40" height="0.70" fill="#a9afb8" />
<rect x="273.40" y="442.90" width="3.60" height="0.60" fill="#c0c5cc" />
<rect x="279.20" y="436.70" width="2.80" height="3.40" fill="#6f9fd0" opacity="0.6"/>
<rect x="278.40" y="441.60" width="4.40" height="0.70" fill="#a9afb8" />
<rect x="278.80" y="442.90" width="3.60" height="0.60" fill="#c0c5cc" />
<rect x="285.40" y="436.70" width="2.80" height="3.40" fill="#7fb26a" opacity="0.6"/>
<rect x="284.60" y="441.60" width="4.40" height="0.70" fill="#a9afb8" />
<rect x="285.00" y="442.90" width="3.60" height="0.60" fill="#c0c5cc" />
<rect x="291.20" y="436.70" width="2.80" height="3.40" fill="#5b8fd0" opacity="0.6"/>
<rect x="290.40" y="441.60" width="4.40" height="0.70" fill="#a9afb8" />
<rect x="290.80" y="442.90" width="3.60" height="0.60" fill="#c0c5cc" />
<rect x="296.70" y="436.70" width="2.80" height="3.40" fill="#c96a5a" opacity="0.6"/>
<rect x="295.90" y="441.60" width="4.40" height="0.70" fill="#a9afb8" />
<rect x="296.30" y="442.90" width="3.60" height="0.60" fill="#c0c5cc" />
<rect x="302.20" y="436.70" width="2.80" height="3.40" fill="#6aa0d8" opacity="0.6"/>
<rect x="301.40" y="441.60" width="4.40" height="0.70" fill="#a9afb8" />
<rect x="301.80" y="442.90" width="3.60" height="0.60" fill="#c0c5cc" />
<rect x="308.70" y="436.70" width="2.80" height="3.40" fill="#7fb26a" opacity="0.6"/>
<rect x="307.90" y="441.60" width="4.40" height="0.70" fill="#a9afb8" />
<rect x="308.30" y="442.90" width="3.60" height="0.60" fill="#c0c5cc" />
<rect x="316.20" y="436.70" width="2.80" height="3.40" fill="#d9a0a0" opacity="0.6"/>
<rect x="315.40" y="441.60" width="4.40" height="0.70" fill="#a9afb8" />
<rect x="315.80" y="442.90" width="3.60" height="0.60" fill="#c0c5cc" />
<rect x="323.20" y="436.70" width="2.80" height="3.40" fill="#7fb26a" opacity="0.6"/>
<rect x="322.40" y="441.60" width="4.40" height="0.70" fill="#a9afb8" />
<rect x="322.80" y="442.90" width="3.60" height="0.60" fill="#c0c5cc" />
<rect x="330.70" y="436.70" width="2.80" height="3.40" fill="#c96a3a" opacity="0.6"/>
<rect x="329.90" y="441.60" width="4.40" height="0.70" fill="#a9afb8" />
<rect x="330.30" y="442.90" width="3.60" height="0.60" fill="#c0c5cc" />
<rect x="337.70" y="436.70" width="2.80" height="3.40" fill="#d05a4a" opacity="0.6"/>
<rect x="336.90" y="441.60" width="4.40" height="0.70" fill="#a9afb8" />
<rect x="337.30" y="442.90" width="3.60" height="0.60" fill="#c0c5cc" />
<rect x="360.20" y="436.70" width="2.80" height="3.40" fill="#8a8f98" opacity="0.6"/>
<rect x="359.40" y="441.60" width="4.40" height="0.70" fill="#a9afb8" />
<rect x="359.80" y="442.90" width="3.60" height="0.60" fill="#c0c5cc" />
<rect x="369.20" y="436.70" width="2.80" height="3.40" fill="#b0303a" opacity="0.6"/>
<rect x="368.40" y="441.60" width="4.40" height="0.70" fill="#a9afb8" />
<rect x="368.80" y="442.90" width="3.60" height="0.60" fill="#c0c5cc" />
<rect x="378.20" y="436.70" width="2.80" height="3.40" fill="#d88a8a" opacity="0.6"/>
<rect x="377.40" y="441.60" width="4.40" height="0.70" fill="#a9afb8" />
<rect x="377.80" y="442.90" width="3.60" height="0.60" fill="#c0c5cc" />
<rect x="387.70" y="436.70" width="2.80" height="3.40" fill="#d8b0b0" opacity="0.6"/>
<rect x="386.90" y="441.60" width="4.40" height="0.70" fill="#a9afb8" />
<rect x="387.30" y="442.90" width="3.60" height="0.60" fill="#c0c5cc" />
<rect x="395.70" y="436.70" width="2.80" height="3.40" fill="#c8c8b0" opacity="0.6"/>
<rect x="394.90" y="441.60" width="4.40" height="0.70" fill="#a9afb8" />
<rect x="395.30" y="442.90" width="3.60" height="0.60" fill="#c0c5cc" />
<rect x="403.20" y="436.70" width="2.80" height="3.40" fill="#c8d0b8" opacity="0.6"/>
<rect x="402.40" y="441.60" width="4.40" height="0.70" fill="#a9afb8" />
<rect x="402.80" y="442.90" width="3.60" height="0.60" fill="#c0c5cc" />
<rect x="428.70" y="436.70" width="2.80" height="3.40" fill="#6f9f6a" opacity="0.6"/>
<rect x="427.90" y="441.60" width="4.40" height="0.70" fill="#a9afb8" />
<rect x="428.30" y="442.90" width="3.60" height="0.60" fill="#c0c5cc" />
<rect x="434.70" y="436.70" width="2.80" height="3.40" fill="#5f9f7a" opacity="0.6"/>
<rect x="433.90" y="441.60" width="4.40" height="0.70" fill="#a9afb8" />
<rect x="434.30" y="442.90" width="3.60" height="0.60" fill="#c0c5cc" />
<rect x="272.60" y="436.00" width="4.60" height="8.20" fill="#f3df8a" opacity="0.7"/>
<rect x="343.00" y="436.60" width="14.00" height="1.00" fill="#b9bec6" />
<rect x="343.00" y="439.20" width="15.00" height="1.60" fill="#e4e7ec" />
<rect x="343.00" y="442.00" width="13.00" height="1.00" fill="#c2c6cd" />
<rect x="408.00" y="436.60" width="12.00" height="1.00" fill="#d8c58a" />
<rect x="408.00" y="439.40" width="13.00" height="1.00" fill="#c2c6cd" />
<rect x="408.00" y="441.80" width="11.00" height="1.00" fill="#c2c6cd" />
<rect x="341.00" y="436.00" width="0.40" height="8.60" fill="#d3d8df" />
<rect x="358.00" y="436.00" width="0.40" height="8.60" fill="#d3d8df" />
<rect x="386.00" y="436.00" width="0.40" height="8.60" fill="#d3d8df" />
<rect x="406.00" y="436.00" width="0.40" height="8.60" fill="#d3d8df" />
<rect x="424.00" y="436.00" width="0.40" height="8.60" fill="#d3d8df" />
<rect x="441.00" y="436.00" width="0.40" height="8.60" fill="#d3d8df" />
<rect x="265.30" y="444.40" width="199.90" height="1.20" fill="#e3e7ed" />
<rect x="300.00" y="444.60" width="10.00" height="0.70" fill="#b4bac3" />
<rect x="350.00" y="444.60" width="6.00" height="0.70" fill="#b4bac3" />
<rect x="372.00" y="444.60" width="8.00" height="0.70" fill="#b4bac3" />
<rect x="414.00" y="444.60" width="7.00" height="0.70" fill="#b4bac3" />
<rect x="430.00" y="444.60" width="7.00" height="0.70" fill="#b4bac3" />
<rect x="265.30" y="445.60" width="199.90" height="2.40" fill="#a4a9b0" />
<rect x="265.30" y="445.60" width="26.00" height="2.40" fill="#b9bdc3" />
<rect x="292.40" y="445.60" width="40.00" height="2.40" fill="#8f949b" />
<rect x="265.30" y="448.00" width="26.90" height="108.20" fill="#ffffff" />
<rect x="292.10" y="448.00" width="0.70" height="108.20" fill="#9ea3aa" />
<rect x="265.30" y="448.40" width="26.90" height="3.60" fill="#f3d56a" />
<rect x="267.80" y="449.40" width="2.00" height="1.60" fill="#7a6a2a" />
<rect x="270.60" y="449.70" width="7.00" height="1.00" fill="#6b5c2a" />
<rect x="269.00" y="453.10" width="2.00" height="1.90" fill="#f0cf62" />
<rect x="271.80" y="453.50" width="11.00" height="1.00" fill="#8f8f8f" />
<rect x="269.00" y="456.10" width="2.00" height="1.90" fill="#f0cf62" />
<rect x="271.80" y="456.50" width="10.00" height="1.00" fill="#8f8f8f" />
<rect x="267.50" y="459.10" width="2.00" height="1.90" fill="#f0cf62" />
<rect x="270.30" y="459.50" width="6.00" height="1.00" fill="#8f8f8f" />
<rect x="269.00" y="462.10" width="2.00" height="1.90" fill="#f0cf62" />
<rect x="271.80" y="462.50" width="9.00" height="1.00" fill="#8f8f8f" />
<rect x="267.50" y="465.70" width="2.00" height="1.90" fill="#f0cf62" />
<rect x="270.30" y="466.10" width="12.00" height="1.00" fill="#8f8f8f" />
<rect x="269.00" y="469.10" width="2.00" height="1.90" fill="#f0cf62" />
<rect x="271.80" y="469.50" width="5.00" height="1.00" fill="#b7a45a" />
<rect x="271.00" y="472.10" width="2.00" height="1.90" fill="#f0cf62" />
<rect x="273.80" y="472.50" width="4.00" height="1.00" fill="#b7a45a" />
<rect x="271.00" y="475.10" width="2.00" height="1.90" fill="#f0cf62" />
<rect x="273.80" y="475.50" width="4.00" height="1.00" fill="#b7a45a" />
<rect x="271.00" y="478.10" width="2.00" height="1.90" fill="#f0cf62" />
<rect x="273.80" y="478.50" width="4.00" height="1.00" fill="#b7a45a" />
<rect x="269.00" y="481.10" width="2.00" height="1.90" fill="#f0cf62" />
<rect x="271.80" y="481.50" width="5.00" height="1.00" fill="#b7a45a" />
<rect x="271.00" y="484.10" width="2.00" height="1.90" fill="#f0cf62" />
<rect x="273.80" y="484.50" width="4.00" height="1.00" fill="#b7a45a" />
<rect x="271.00" y="487.10" width="2.00" height="1.90" fill="#f0cf62" />
<rect x="273.80" y="487.50" width="4.00" height="1.00" fill="#b7a45a" />
<rect x="271.00" y="490.10" width="2.00" height="1.90" fill="#f0cf62" />
<rect x="273.80" y="490.50" width="4.00" height="1.00" fill="#b7a45a" />
<rect x="269.00" y="493.10" width="2.00" height="1.90" fill="#f0cf62" />
<rect x="271.80" y="493.50" width="5.00" height="1.00" fill="#b7a45a" />
<rect x="271.00" y="496.10" width="2.00" height="1.90" fill="#f0cf62" />
<rect x="273.80" y="496.50" width="4.00" height="1.00" fill="#b7a45a" />
<rect x="265.30" y="499.60" width="26.90" height="1.60" fill="#8f949b" />
<rect x="265.30" y="501.20" width="26.90" height="1.20" fill="#d9dde2" />
<rect x="267.00" y="502.70" width="1.50" height="1.50" fill="#333" />
<rect x="269.40" y="502.90" width="7.00" height="1.00" fill="#555" />
<rect x="267.00" y="505.70" width="1.50" height="1.50" fill="#5b7fb5" />
<rect x="269.40" y="505.90" width="10.00" height="1.00" fill="#9aa0a8" />
<rect x="267.00" y="508.90" width="1.50" height="1.50" fill="#5b7fb5" />
<rect x="269.40" y="509.10" width="8.00" height="1.00" fill="#9aa0a8" />
<rect x="267.00" y="512.10" width="1.50" height="1.50" fill="#333" />
<rect x="269.40" y="512.30" width="7.00" height="1.00" fill="#555" />
<rect x="267.00" y="515.30" width="1.50" height="1.50" fill="#5b7fb5" />
<rect x="269.40" y="515.50" width="11.00" height="1.00" fill="#9aa0a8" />
<rect x="267.00" y="518.50" width="1.50" height="1.50" fill="#5b7fb5" />
<rect x="269.40" y="518.70" width="7.00" height="1.00" fill="#9aa0a8" />
<rect x="267.00" y="521.70" width="1.50" height="1.50" fill="#333" />
<rect x="269.40" y="521.90" width="7.00" height="1.00" fill="#555" />
<rect x="267.00" y="525.10" width="1.50" height="1.50" fill="#5b7fb5" />
<rect x="269.40" y="525.30" width="11.00" height="1.00" fill="#9aa0a8" />
<rect x="267.00" y="528.30" width="1.50" height="1.50" fill="#5b7fb5" />
<rect x="269.40" y="528.50" width="8.00" height="1.00" fill="#9aa0a8" />
<rect x="265.30" y="554.20" width="199.90" height="2.00" fill="#e9ecef" />
<rect x="283.00" y="554.80" width="9.00" height="0.70" fill="#aaa" />
<rect x="322.00" y="554.80" width="22.00" height="0.70" fill="#999" />
<rect x="292.80" y="448.00" width="172.40" height="19.00" fill="#ffffff" />
<rect x="292.80" y="448.00" width="172.40" height="2.60" fill="#f3f5f8" />
<rect x="300.00" y="448.80" width="1.20" height="1.20" fill="#888" />
<rect x="308.00" y="448.90" width="16.00" height="0.90" fill="#9a9a9a" />
<rect x="343.00" y="448.60" width="1.60" height="1.60" fill="#aaa" />
<rect x="346.00" y="448.90" width="30.00" height="0.90" fill="#8a8a8a" />
<rect x="296.00" y="452.60" width="7.00" height="1.00" fill="#555" />
<rect x="309.00" y="452.60" width="8.00" height="1.00" fill="#555" />
<rect x="324.00" y="452.60" width="6.00" height="1.00" fill="#555" />
<rect x="340.00" y="452.60" width="5.00" height="1.00" fill="#555" />
<rect x="354.00" y="452.60" width="6.00" height="1.00" fill="#555" />
<rect x="366.00" y="452.60" width="5.00" height="1.00" fill="#555" />
<rect x="373.50" y="452.60" width="9.00" height="1.00" fill="#555" />
<rect x="383.00" y="452.60" width="9.00" height="1.00" fill="#555" />
<rect x="398.50" y="452.60" width="13.00" height="1.00" fill="#555" />
<rect x="417.00" y="452.60" width="9.00" height="1.00" fill="#555" />
<rect x="429.00" y="452.60" width="10.00" height="1.00" fill="#555" />
<rect x="442.00" y="452.60" width="10.00" height="1.00" fill="#555" />
<rect x="292.80" y="459.80" width="172.40" height="2.80" fill="#f6dc79" />
<rect x="296.30" y="455.40" width="5.60" height="0.90" fill="#7f7f7f" opacity="0.8"/>
<rect x="309.30" y="455.40" width="6.40" height="0.90" fill="#7f7f7f" opacity="0.8"/>
<rect x="324.30" y="455.40" width="4.80" height="0.90" fill="#7f7f7f" opacity="0.8"/>
<rect x="340.30" y="455.40" width="4.00" height="0.90" fill="#7f7f7f" opacity="0.8"/>
<rect x="366.30" y="455.40" width="4.00" height="0.90" fill="#7f7f7f" opacity="0.8"/>
<rect x="373.80" y="455.40" width="7.20" height="0.90" fill="#7f7f7f" opacity="0.8"/>
<rect x="383.30" y="455.40" width="7.20" height="0.90" fill="#7f7f7f" opacity="0.8"/>
<rect x="398.80" y="455.40" width="10.40" height="0.90" fill="#7f7f7f" opacity="0.8"/>
<rect x="417.00" y="455.10" width="8.50" height="1.60" fill="#8fd08a" />
<rect x="429.30" y="455.40" width="8.00" height="0.90" fill="#7f7f7f" opacity="0.8"/>
<rect x="296.30" y="457.80" width="5.60" height="0.90" fill="#7f7f7f" opacity="0.8"/>
<rect x="309.30" y="457.80" width="6.40" height="0.90" fill="#7f7f7f" opacity="0.8"/>
<rect x="324.30" y="457.80" width="4.80" height="0.90" fill="#7f7f7f" opacity="0.8"/>
<rect x="340.30" y="457.80" width="4.00" height="0.90" fill="#7f7f7f" opacity="0.8"/>
<rect x="366.30" y="457.80" width="4.00" height="0.90" fill="#7f7f7f" opacity="0.8"/>
<rect x="373.80" y="457.80" width="7.20" height="0.90" fill="#7f7f7f" opacity="0.8"/>
<rect x="383.30" y="457.80" width="7.20" height="0.90" fill="#7f7f7f" opacity="0.8"/>
<rect x="398.80" y="457.80" width="10.40" height="0.90" fill="#7f7f7f" opacity="0.8"/>
<rect x="417.00" y="457.50" width="8.50" height="1.60" fill="#8fd08a" />
<rect x="429.30" y="457.80" width="8.00" height="0.90" fill="#7f7f7f" opacity="0.8"/>
<rect x="296.30" y="460.70" width="5.60" height="0.90" fill="#5a5230" opacity="0.8"/>
<rect x="309.30" y="460.70" width="6.40" height="0.90" fill="#5a5230" opacity="0.8"/>
<rect x="324.30" y="460.70" width="4.80" height="0.90" fill="#5a5230" opacity="0.8"/>
<rect x="340.30" y="460.70" width="4.00" height="0.90" fill="#5a5230" opacity="0.8"/>
<rect x="366.30" y="460.70" width="4.00" height="0.90" fill="#5a5230" opacity="0.8"/>
<rect x="373.80" y="460.70" width="7.20" height="0.90" fill="#5a5230" opacity="0.8"/>
<rect x="383.30" y="460.70" width="7.20" height="0.90" fill="#5a5230" opacity="0.8"/>
<rect x="398.80" y="460.70" width="10.40" height="0.90" fill="#5a5230" opacity="0.8"/>
<rect x="417.00" y="460.40" width="8.50" height="1.60" fill="#8fd08a" />
<rect x="429.30" y="460.70" width="8.00" height="0.90" fill="#5a5230" opacity="0.8"/>
<rect x="296.30" y="463.30" width="5.60" height="0.90" fill="#7f7f7f" opacity="0.8"/>
<rect x="309.30" y="463.30" width="6.40" height="0.90" fill="#7f7f7f" opacity="0.8"/>
<rect x="324.30" y="463.30" width="4.80" height="0.90" fill="#7f7f7f" opacity="0.8"/>
<rect x="340.30" y="463.30" width="4.00" height="0.90" fill="#7f7f7f" opacity="0.8"/>
<rect x="366.30" y="463.30" width="4.00" height="0.90" fill="#7f7f7f" opacity="0.8"/>
<rect x="373.80" y="463.30" width="7.20" height="0.90" fill="#7f7f7f" opacity="0.8"/>
<rect x="383.30" y="463.30" width="7.20" height="0.90" fill="#7f7f7f" opacity="0.8"/>
<rect x="398.80" y="463.30" width="10.40" height="0.90" fill="#7f7f7f" opacity="0.8"/>
<rect x="417.00" y="463.00" width="8.50" height="1.60" fill="#8fd08a" />
<rect x="429.30" y="463.30" width="8.00" height="0.90" fill="#7f7f7f" opacity="0.8"/>
<rect x="296.30" y="465.60" width="5.60" height="0.90" fill="#7f7f7f" opacity="0.8"/>
<rect x="309.30" y="465.60" width="6.40" height="0.90" fill="#7f7f7f" opacity="0.8"/>
<rect x="324.30" y="465.60" width="4.80" height="0.90" fill="#7f7f7f" opacity="0.8"/>
<rect x="340.30" y="465.60" width="4.00" height="0.90" fill="#7f7f7f" opacity="0.8"/>
<rect x="366.30" y="465.60" width="4.00" height="0.90" fill="#7f7f7f" opacity="0.8"/>
<rect x="373.80" y="465.60" width="7.20" height="0.90" fill="#7f7f7f" opacity="0.8"/>
<rect x="383.30" y="465.60" width="7.20" height="0.90" fill="#7f7f7f" opacity="0.8"/>
<rect x="398.80" y="465.60" width="10.40" height="0.90" fill="#7f7f7f" opacity="0.8"/>
<rect x="417.00" y="465.30" width="8.50" height="1.60" fill="#8fd08a" />
<rect x="429.30" y="465.60" width="8.00" height="0.90" fill="#7f7f7f" opacity="0.8"/>
<rect x="292.80" y="467.00" width="172.40" height="2.90" fill="#8e9298" />
<rect x="393.40" y="467.40" width="72.00" height="2.20" fill="#a6abb2" />
<rect x="292.80" y="469.90" width="100.00" height="84.30" fill="#ffffff" />
<rect x="292.80" y="469.90" width="100.00" height="2.40" fill="#dfe3e8" />
<rect x="293.20" y="469.90" width="22.00" height="2.40" fill="#f2dc86" />
<rect x="294.00" y="470.70" width="16.00" height="0.90" fill="#8a7a3a" />
<rect x="392.60" y="469.90" width="0.90" height="84.30" fill="#8e9298" />
<rect x="299.60" y="473.20" width="89.60" height="73.00" fill="#ffffff" stroke="#8a8f96" stroke-width="0.5"/>
<line x1="299.6" y1="480.50" x2="389.2" y2="480.50" stroke="#e6e9ee" stroke-width="0.4"/>
<line x1="299.6" y1="487.80" x2="389.2" y2="487.80" stroke="#e6e9ee" stroke-width="0.4"/>
<line x1="299.6" y1="495.10" x2="389.2" y2="495.10" stroke="#e6e9ee" stroke-width="0.4"/>
<line x1="299.6" y1="502.40" x2="389.2" y2="502.40" stroke="#e6e9ee" stroke-width="0.4"/>
<line x1="299.6" y1="509.70" x2="389.2" y2="509.70" stroke="#e6e9ee" stroke-width="0.4"/>
<line x1="299.6" y1="517.00" x2="389.2" y2="517.00" stroke="#e6e9ee" stroke-width="0.4"/>
<line x1="299.6" y1="524.30" x2="389.2" y2="524.30" stroke="#e6e9ee" stroke-width="0.4"/>
<line x1="299.6" y1="531.60" x2="389.2" y2="531.60" stroke="#e6e9ee" stroke-width="0.4"/>
<line x1="299.6" y1="538.90" x2="389.2" y2="538.90" stroke="#e6e9ee" stroke-width="0.4"/>
<line x1="309.56" y1="473.2" x2="309.56" y2="546.2" stroke="#eceff3" stroke-width="0.4"/>
<line x1="319.51" y1="473.2" x2="319.51" y2="546.2" stroke="#eceff3" stroke-width="0.4"/>
<line x1="329.47" y1="473.2" x2="329.47" y2="546.2" stroke="#eceff3" stroke-width="0.4"/>
<line x1="339.42" y1="473.2" x2="339.42" y2="546.2" stroke="#eceff3" stroke-width="0.4"/>
<line x1="349.38" y1="473.2" x2="349.38" y2="546.2" stroke="#eceff3" stroke-width="0.4"/>
<line x1="359.33" y1="473.2" x2="359.33" y2="546.2" stroke="#eceff3" stroke-width="0.4"/>
<line x1="369.29" y1="473.2" x2="369.29" y2="546.2" stroke="#eceff3" stroke-width="0.4"/>
<line x1="379.24" y1="473.2" x2="379.24" y2="546.2" stroke="#eceff3" stroke-width="0.4"/>
<rect x="296.60" y="474.35" width="2.20" height="0.70" fill="#9aa0a8" />
<rect x="390.00" y="474.35" width="1.80" height="0.70" fill="#8fb8d8" />
<rect x="296.60" y="477.85" width="2.20" height="0.70" fill="#9aa0a8" />
<rect x="390.00" y="477.85" width="1.80" height="0.70" fill="#8fb8d8" />
<rect x="296.60" y="481.35" width="2.20" height="0.70" fill="#9aa0a8" />
<rect x="390.00" y="481.35" width="1.80" height="0.70" fill="#8fb8d8" />
<rect x="296.60" y="484.85" width="2.20" height="0.70" fill="#9aa0a8" />
<rect x="390.00" y="484.85" width="1.80" height="0.70" fill="#8fb8d8" />
<rect x="296.60" y="488.35" width="2.20" height="0.70" fill="#9aa0a8" />
<rect x="390.00" y="488.35" width="1.80" height="0.70" fill="#8fb8d8" />
<rect x="296.60" y="491.85" width="2.20" height="0.70" fill="#9aa0a8" />
<rect x="390.00" y="491.85" width="1.80" height="0.70" fill="#8fb8d8" />
<rect x="296.60" y="495.35" width="2.20" height="0.70" fill="#9aa0a8" />
<rect x="390.00" y="495.35" width="1.80" height="0.70" fill="#8fb8d8" />
<rect x="296.60" y="498.85" width="2.20" height="0.70" fill="#9aa0a8" />
<rect x="390.00" y="498.85" width="1.80" height="0.70" fill="#8fb8d8" />
<rect x="296.60" y="502.35" width="2.20" height="0.70" fill="#9aa0a8" />
<rect x="390.00" y="502.35" width="1.80" height="0.70" fill="#8fb8d8" />
<rect x="296.60" y="505.85" width="2.20" height="0.70" fill="#9aa0a8" />
<rect x="390.00" y="505.85" width="1.80" height="0.70" fill="#8fb8d8" />
<rect x="296.60" y="509.35" width="2.20" height="0.70" fill="#9aa0a8" />
<rect x="390.00" y="509.35" width="1.80" height="0.70" fill="#8fb8d8" />
<rect x="296.60" y="512.85" width="2.20" height="0.70" fill="#9aa0a8" />
<rect x="390.00" y="512.85" width="1.80" height="0.70" fill="#8fb8d8" />
<rect x="296.60" y="516.35" width="2.20" height="0.70" fill="#9aa0a8" />
<rect x="390.00" y="516.35" width="1.80" height="0.70" fill="#8fb8d8" />
<rect x="296.60" y="519.85" width="2.20" height="0.70" fill="#9aa0a8" />
<rect x="390.00" y="519.85" width="1.80" height="0.70" fill="#8fb8d8" />
<rect x="296.60" y="523.35" width="2.20" height="0.70" fill="#9aa0a8" />
<rect x="390.00" y="523.35" width="1.80" height="0.70" fill="#8fb8d8" />
<rect x="296.60" y="526.85" width="2.20" height="0.70" fill="#9aa0a8" />
<rect x="390.00" y="526.85" width="1.80" height="0.70" fill="#8fb8d8" />
<rect x="296.60" y="530.35" width="2.20" height="0.70" fill="#9aa0a8" />
<rect x="390.00" y="530.35" width="1.80" height="0.70" fill="#8fb8d8" />
<rect x="296.60" y="533.85" width="2.20" height="0.70" fill="#9aa0a8" />
<rect x="390.00" y="533.85" width="1.80" height="0.70" fill="#8fb8d8" />
<rect x="296.60" y="537.35" width="2.20" height="0.70" fill="#9aa0a8" />
<rect x="390.00" y="537.35" width="1.80" height="0.70" fill="#8fb8d8" />
<rect x="296.60" y="540.85" width="2.20" height="0.70" fill="#9aa0a8" />
<rect x="390.00" y="540.85" width="1.80" height="0.70" fill="#8fb8d8" />
<rect x="296.60" y="544.35" width="2.20" height="0.70" fill="#9aa0a8" />
<rect x="390.00" y="544.35" width="1.80" height="0.70" fill="#8fb8d8" />
<rect x="294.20" y="490.00" width="0.80" height="30.00" fill="#b0b4ba" />
<clipPath id="plotclip"><rect x="299.6" y="473.2" width="89.59999999999997" height="73.00000000000006"/></clipPath>
<rect x="328.20" y="473.20" width="3.60" height="62.00" fill="#a9d3e6" opacity="0.5"/>
<rect x="333.80" y="473.20" width="2.80" height="58.00" fill="#b7dcec" opacity="0.45"/>
<rect x="338.60" y="473.20" width="2.60" height="50.00" fill="#c4e2ef" opacity="0.45"/>
<rect x="343.00" y="473.20" width="3.20" height="52.00" fill="#b7dcec" opacity="0.45"/>
<polyline clip-path="url(#plotclip)" points="327.5,535.3 328.2,473.7 329.3,479.1 330.0,533.5 331.1,475.5 332.2,517.2 333.3,482.7 334.4,535.3 335.8,473.7 336.9,511.8 338.0,473.7 339.5,531.7 341.3,543.5 342.4,479.1 343.8,500.9 345.1,473.7 346.5,522.6 347.4,531.7" fill="none" stroke="#3d93b6" stroke-width="0.5" opacity="0.9" stroke-linejoin="round"/>
<polyline clip-path="url(#plotclip)" points="329.0,473.7 329.7,526.3 330.8,484.6 331.9,520.8 332.9,473.7 334.0,526.3 335.5,486.4 336.6,520.8 338.4,479.1 339.8,526.3 342.0,473.7 343.5,515.4 344.5,480.9 346.0,526.3" fill="none" stroke="#1c5f7a" stroke-width="0.5" opacity="0.8" stroke-linejoin="round"/>
<polyline clip-path="url(#plotclip)" points="349.3,511.8 348.5,500.9 347.8,473.7 346.7,482.7 346.0,493.6 345.3,473.7 344.2,491.8 343.1,477.3 342.0,484.6 340.9,473.7 339.8,486.4 338.7,473.7 338.0,512.7" fill="none" stroke="#d58c96" stroke-width="0.55" opacity="0.9" stroke-linejoin="round"/>
<polyline clip-path="url(#plotclip)" points="303.6,543.5 304.3,537.1 305.0,528.4 306.8,529.5 309.0,528.8 310.1,519.0 311.2,514.5 313.4,513.2 315.2,512.5 317.0,515.0 318.8,513.6 321.3,512.8 323.9,512.5 326.1,513.9 327.5,513.6 331.1,513.9 334.8,512.8 340.2,513.2 345.6,512.5 349.3,511.8 352.9,512.8 356.5,513.6 360.1,512.5 363.8,514.7 367.4,513.2 371.0,513.6 373.9,515.7 376.1,517.6 378.3,514.7 380.4,514.3 382.2,519.0 384.1,521.2 385.5,525.5 387.0,528.8 388.2,532.1" fill="none" stroke="#c0565c" stroke-width="0.55" opacity="1" stroke-linejoin="round"/>
<polyline clip-path="url(#plotclip)" points="303.6,528.8 305.8,529.5 307.9,528.4 310.5,527.3 313.0,526.1 315.5,527.7 318.4,531.0 321.3,534.6 323.9,536.4 326.1,536.0 327.5,535.3" fill="none" stroke="#48a3c0" stroke-width="0.6" opacity="1" stroke-linejoin="round"/>
<polyline clip-path="url(#plotclip)" points="347.4,531.7 349.3,528.1 351.1,525.3 352.9,527.2 355.1,529.2 357.6,528.8 360.1,531.7 363.8,532.8 367.4,532.1 372.8,530.8 377.5,532.1 381.9,533.5 387.3,535.3" fill="none" stroke="#48a3c0" stroke-width="0.6" opacity="1" stroke-linejoin="round"/>
<polyline clip-path="url(#plotclip)" points="303.6,528.4 306.5,528.1 309.4,527.3 312.6,525.9 315.5,527.0 318.4,530.2 321.3,533.9 323.9,535.7 326.8,534.6" fill="none" stroke="#1f6f86" stroke-width="0.55" opacity="1" stroke-linejoin="round"/>
<polyline clip-path="url(#plotclip)" points="330.4,522.3 332.2,521.9 334.8,524.8 336.9,525.5" fill="none" stroke="#154f62" stroke-width="0.7" opacity="1" stroke-linejoin="round"/>
<polyline clip-path="url(#plotclip)" points="347.1,528.1 348.9,523.7 351.1,521.2 352.9,523.4 355.1,525.5 357.6,525.9 360.1,528.8 363.8,530.2 367.4,529.5 372.8,528.1 377.5,529.5 381.9,531.0 387.3,532.1" fill="none" stroke="#154f62" stroke-width="0.7" opacity="1" stroke-linejoin="round"/>
<rect x="300.80" y="548.00" width="6.40" height="0.90" fill="#777" />
<rect x="301.80" y="549.60" width="4.40" height="0.80" fill="#999" />
<rect x="302.20" y="551.10" width="3.60" height="0.80" fill="#aaa" />
<rect x="320.70" y="548.00" width="6.40" height="0.90" fill="#777" />
<rect x="321.70" y="549.60" width="4.40" height="0.80" fill="#999" />
<rect x="322.10" y="551.10" width="3.60" height="0.80" fill="#aaa" />
<rect x="340.60" y="548.00" width="6.40" height="0.90" fill="#777" />
<rect x="341.60" y="549.60" width="4.40" height="0.80" fill="#999" />
<rect x="342.00" y="551.10" width="3.60" height="0.80" fill="#aaa" />
<rect x="359.60" y="548.00" width="6.40" height="0.90" fill="#777" />
<rect x="360.60" y="549.60" width="4.40" height="0.80" fill="#999" />
<rect x="361.00" y="551.10" width="3.60" height="0.80" fill="#aaa" />
<rect x="378.70" y="548.00" width="6.40" height="0.90" fill="#777" />
<rect x="379.70" y="549.60" width="4.40" height="0.80" fill="#999" />
<rect x="380.10" y="551.10" width="3.60" height="0.80" fill="#aaa" />
<rect x="393.50" y="469.90" width="71.70" height="84.30" fill="#ffffff" />
<rect x="393.50" y="469.90" width="71.70" height="2.20" fill="#e8ebef" />
<rect x="397.40" y="473.60" width="3.00" height="0.90" fill="#666" />
<rect x="409.00" y="473.60" width="3.00" height="0.90" fill="#666" />
<rect x="421.60" y="473.60" width="3.00" height="0.90" fill="#666" />
<rect x="433.40" y="473.60" width="3.00" height="0.90" fill="#666" />
<rect x="443.50" y="473.60" width="5.00" height="0.90" fill="#666" />
<rect x="455.50" y="473.60" width="5.00" height="0.90" fill="#666" />
<rect x="443.50" y="472.20" width="4.00" height="0.80" fill="#777" />
<rect x="455.50" y="472.20" width="4.00" height="0.80" fill="#777" />
<rect x="397.40" y="476.20" width="5.07" height="1.00" fill="#6d6d6d" opacity="0.78"/>
<rect x="409.00" y="476.20" width="6.08" height="1.00" fill="#6d6d6d" opacity="0.78"/>
<rect x="421.60" y="476.20" width="4.80" height="1.00" fill="#6d6d6d" opacity="0.78"/>
<rect x="433.40" y="476.20" width="6.70" height="1.00" fill="#6d6d6d" opacity="0.78"/>
<rect x="444.40" y="476.20" width="3.74" height="1.00" fill="#6d6d6d" opacity="0.78"/>
<rect x="456.60" y="476.20" width="3.13" height="1.00" fill="#6d6d6d" opacity="0.78"/>
<rect x="397.40" y="478.40" width="4.70" height="1.00" fill="#6d6d6d" opacity="0.78"/>
<rect x="409.00" y="478.40" width="6.61" height="1.00" fill="#6d6d6d" opacity="0.78"/>
<rect x="421.60" y="478.40" width="4.64" height="1.00" fill="#6d6d6d" opacity="0.78"/>
<rect x="433.40" y="478.40" width="5.98" height="1.00" fill="#6d6d6d" opacity="0.78"/>
<rect x="444.40" y="478.40" width="4.14" height="1.00" fill="#6d6d6d" opacity="0.78"/>
<rect x="456.60" y="478.40" width="3.57" height="1.00" fill="#6d6d6d" opacity="0.78"/>
<rect x="397.40" y="480.60" width="6.06" height="1.00" fill="#6d6d6d" opacity="0.78"/>
<rect x="409.00" y="480.60" width="5.96" height="1.00" fill="#6d6d6d" opacity="0.78"/>
<rect x="421.60" y="480.60" width="5.21" height="1.00" fill="#6d6d6d" opacity="0.78"/>
<rect x="433.40" y="480.60" width="5.82" height="1.00" fill="#6d6d6d" opacity="0.78"/>
<rect x="444.40" y="480.60" width="3.75" height="1.00" fill="#6d6d6d" opacity="0.78"/>
<rect x="456.60" y="480.60" width="4.00" height="1.00" fill="#6d6d6d" opacity="0.78"/>
<rect x="397.40" y="482.80" width="5.54" height="1.00" fill="#6d6d6d" opacity="0.78"/>
<rect x="409.00" y="482.80" width="6.43" height="1.00" fill="#6d6d6d" opacity="0.78"/>
<rect x="421.60" y="482.80" width="5.26" height="1.00" fill="#6d6d6d" opacity="0.78"/>
<rect x="433.40" y="482.80" width="5.65" height="1.00" fill="#6d6d6d" opacity="0.78"/>
<rect x="444.40" y="482.80" width="3.88" height="1.00" fill="#6d6d6d" opacity="0.78"/>
<rect x="456.60" y="482.80" width="3.70" height="1.00" fill="#6d6d6d" opacity="0.78"/>
<rect x="397.40" y="485.00" width="5.17" height="1.00" fill="#6d6d6d" opacity="0.78"/>
<rect x="409.00" y="485.00" width="5.16" height="1.00" fill="#6d6d6d" opacity="0.78"/>
<rect x="421.60" y="485.00" width="5.55" height="1.00" fill="#6d6d6d" opacity="0.78"/>
<rect x="433.40" y="485.00" width="6.45" height="1.00" fill="#6d6d6d" opacity="0.78"/>
<rect x="444.40" y="485.00" width="3.84" height="1.00" fill="#6d6d6d" opacity="0.78"/>
<rect x="456.60" y="485.00" width="4.01" height="1.00" fill="#6d6d6d" opacity="0.78"/>
<rect x="397.40" y="487.20" width="5.85" height="1.00" fill="#6d6d6d" opacity="0.78"/>
<rect x="409.00" y="487.20" width="6.76" height="1.00" fill="#6d6d6d" opacity="0.78"/>
<rect x="421.60" y="487.20" width="4.84" height="1.00" fill="#6d6d6d" opacity="0.78"/>
<rect x="433.40" y="487.20" width="7.09" height="1.00" fill="#6d6d6d" opacity="0.78"/>
<rect x="444.40" y="487.20" width="3.54" height="1.00" fill="#6d6d6d" opacity="0.78"/>
<rect x="456.60" y="487.20" width="4.07" height="1.00" fill="#6d6d6d" opacity="0.78"/>
<rect x="397.40" y="489.40" width="6.13" height="1.00" fill="#6d6d6d" opacity="0.78"/>
<rect x="409.00" y="489.40" width="5.28" height="1.00" fill="#6d6d6d" opacity="0.78"/>
<rect x="421.60" y="489.40" width="4.45" height="1.00" fill="#6d6d6d" opacity="0.78"/>
<rect x="433.40" y="489.40" width="5.95" height="1.00" fill="#6d6d6d" opacity="0.78"/>
<rect x="444.40" y="489.40" width="4.10" height="1.00" fill="#6d6d6d" opacity="0.78"/>
<rect x="456.60" y="489.40" width="3.53" height="1.00" fill="#6d6d6d" opacity="0.78"/>
<rect x="397.40" y="491.60" width="5.71" height="1.00" fill="#6d6d6d" opacity="0.78"/>
<rect x="409.00" y="491.60" width="5.64" height="1.00" fill="#6d6d6d" opacity="0.78"/>
<rect x="421.60" y="491.60" width="5.01" height="1.00" fill="#6d6d6d" opacity="0.78"/>
<rect x="433.40" y="491.60" width="6.28" height="1.00" fill="#6d6d6d" opacity="0.78"/>
<rect x="444.40" y="491.60" width="3.44" height="1.00" fill="#6d6d6d" opacity="0.78"/>
<rect x="456.60" y="491.60" width="3.69" height="1.00" fill="#6d6d6d" opacity="0.78"/>
<rect x="397.40" y="493.80" width="5.64" height="1.00" fill="#6d6d6d" opacity="0.78"/>
<rect x="409.00" y="493.80" width="6.73" height="1.00" fill="#6d6d6d" opacity="0.78"/>
<rect x="421.60" y="493.80" width="5.27" height="1.00" fill="#6d6d6d" opacity="0.78"/>
<rect x="433.40" y="493.80" width="7.34" height="1.00" fill="#6d6d6d" opacity="0.78"/>
<rect x="444.40" y="493.80" width="3.98" height="1.00" fill="#6d6d6d" opacity="0.78"/>
<rect x="456.60" y="493.80" width="4.13" height="1.00" fill="#6d6d6d" opacity="0.78"/>
<rect x="397.40" y="496.00" width="5.78" height="1.00" fill="#6d6d6d" opacity="0.78"/>
<rect x="409.00" y="496.00" width="5.39" height="1.00" fill="#6d6d6d" opacity="0.78"/>
<rect x="421.60" y="496.00" width="5.54" height="1.00" fill="#6d6d6d" opacity="0.78"/>
<rect x="433.40" y="496.00" width="7.41" height="1.00" fill="#6d6d6d" opacity="0.78"/>
<rect x="444.40" y="496.00" width="4.04" height="1.00" fill="#6d6d6d" opacity="0.78"/>
<rect x="456.60" y="496.00" width="3.67" height="1.00" fill="#6d6d6d" opacity="0.78"/>
<rect x="397.40" y="498.20" width="5.85" height="1.00" fill="#6d6d6d" opacity="0.78"/>
<rect x="409.00" y="498.20" width="5.48" height="1.00" fill="#6d6d6d" opacity="0.78"/>
<rect x="421.60" y="498.20" width="5.50" height="1.00" fill="#6d6d6d" opacity="0.78"/>
<rect x="433.40" y="498.20" width="6.64" height="1.00" fill="#6d6d6d" opacity="0.78"/>
<rect x="444.40" y="498.20" width="3.37" height="1.00" fill="#6d6d6d" opacity="0.78"/>
<rect x="456.60" y="498.20" width="3.13" height="1.00" fill="#6d6d6d" opacity="0.78"/>
<rect x="397.40" y="500.40" width="6.08" height="1.00" fill="#6d6d6d" opacity="0.78"/>
<rect x="409.00" y="500.40" width="6.88" height="1.00" fill="#6d6d6d" opacity="0.78"/>
<rect x="421.60" y="500.40" width="4.38" height="1.00" fill="#6d6d6d" opacity="0.78"/>
<rect x="433.40" y="500.40" width="7.09" height="1.00" fill="#6d6d6d" opacity="0.78"/>
<rect x="444.40" y="500.40" width="3.50" height="1.00" fill="#6d6d6d" opacity="0.78"/>
<rect x="456.60" y="500.40" width="3.22" height="1.00" fill="#6d6d6d" opacity="0.78"/>
<rect x="397.40" y="502.60" width="5.16" height="1.00" fill="#6d6d6d" opacity="0.78"/>
<rect x="409.00" y="502.60" width="6.48" height="1.00" fill="#6d6d6d" opacity="0.78"/>
<rect x="421.60" y="502.60" width="5.56" height="1.00" fill="#6d6d6d" opacity="0.78"/>
<rect x="433.40" y="502.60" width="5.61" height="1.00" fill="#6d6d6d" opacity="0.78"/>
<rect x="444.40" y="502.60" width="3.72" height="1.00" fill="#6d6d6d" opacity="0.78"/>
<rect x="456.60" y="502.60" width="3.11" height="1.00" fill="#6d6d6d" opacity="0.78"/>
<rect x="397.40" y="504.80" width="5.86" height="1.00" fill="#6d6d6d" opacity="0.78"/>
<rect x="409.00" y="504.80" width="5.70" height="1.00" fill="#6d6d6d" opacity="0.78"/>
<rect x="421.60" y="504.80" width="5.57" height="1.00" fill="#6d6d6d" opacity="0.78"/>
<rect x="433.40" y="504.80" width="7.44" height="1.00" fill="#6d6d6d" opacity="0.78"/>
<rect x="444.40" y="504.80" width="3.61" height="1.00" fill="#6d6d6d" opacity="0.78"/>
<rect x="456.60" y="504.80" width="4.14" height="1.00" fill="#6d6d6d" opacity="0.78"/>
<rect x="397.40" y="507.00" width="5.19" height="1.00" fill="#6d6d6d" opacity="0.78"/>
<rect x="409.00" y="507.00" width="5.24" height="1.00" fill="#6d6d6d" opacity="0.78"/>
<rect x="421.60" y="507.00" width="5.15" height="1.00" fill="#6d6d6d" opacity="0.78"/>
<rect x="433.40" y="507.00" width="5.59" height="1.00" fill="#6d6d6d" opacity="0.78"/>
<rect x="444.40" y="507.00" width="3.27" height="1.00" fill="#6d6d6d" opacity="0.78"/>
<rect x="456.60" y="507.00" width="3.50" height="1.00" fill="#6d6d6d" opacity="0.78"/>
<rect x="397.40" y="509.20" width="5.68" height="1.00" fill="#6d6d6d" opacity="0.78"/>
<rect x="409.00" y="509.20" width="5.38" height="1.00" fill="#6d6d6d" opacity="0.78"/>
<rect x="421.60" y="509.20" width="4.31" height="1.00" fill="#6d6d6d" opacity="0.78"/>
<rect x="433.40" y="509.20" width="7.22" height="1.00" fill="#6d6d6d" opacity="0.78"/>
<rect x="444.40" y="509.20" width="3.40" height="1.00" fill="#6d6d6d" opacity="0.78"/>
<rect x="456.60" y="509.20" width="4.10" height="1.00" fill="#6d6d6d" opacity="0.78"/>
<rect x="397.40" y="511.40" width="6.15" height="1.00" fill="#6d6d6d" opacity="0.78"/>
<rect x="409.00" y="511.40" width="5.78" height="1.00" fill="#6d6d6d" opacity="0.78"/>
<rect x="421.60" y="511.40" width="4.94" height="1.00" fill="#6d6d6d" opacity="0.78"/>
<rect x="433.40" y="511.40" width="6.54" height="1.00" fill="#6d6d6d" opacity="0.78"/>
<rect x="444.40" y="511.40" width="3.76" height="1.00" fill="#6d6d6d" opacity="0.78"/>
<rect x="456.60" y="511.40" width="3.70" height="1.00" fill="#6d6d6d" opacity="0.78"/>
<rect x="397.40" y="513.60" width="5.60" height="1.00" fill="#6d6d6d" opacity="0.78"/>
<rect x="409.00" y="513.60" width="6.22" height="1.00" fill="#6d6d6d" opacity="0.78"/>
<rect x="421.60" y="513.60" width="5.66" height="1.00" fill="#6d6d6d" opacity="0.78"/>
<rect x="433.40" y="513.60" width="6.51" height="1.00" fill="#6d6d6d" opacity="0.78"/>
<rect x="444.40" y="513.60" width="3.53" height="1.00" fill="#6d6d6d" opacity="0.78"/>
<rect x="456.60" y="513.60" width="3.84" height="1.00" fill="#6d6d6d" opacity="0.78"/>
<rect x="397.40" y="515.80" width="5.07" height="1.00" fill="#6d6d6d" opacity="0.78"/>
<rect x="409.00" y="515.80" width="5.64" height="1.00" fill="#6d6d6d" opacity="0.78"/>
<rect x="421.60" y="515.80" width="5.72" height="1.00" fill="#6d6d6d" opacity="0.78"/>
<rect x="433.40" y="515.80" width="6.54" height="1.00" fill="#6d6d6d" opacity="0.78"/>
<rect x="444.40" y="515.80" width="3.65" height="1.00" fill="#6d6d6d" opacity="0.78"/>
<rect x="456.60" y="515.80" width="3.07" height="1.00" fill="#6d6d6d" opacity="0.78"/>
<rect x="397.40" y="518.00" width="5.36" height="1.00" fill="#6d6d6d" opacity="0.78"/>
<rect x="409.00" y="518.00" width="6.14" height="1.00" fill="#6d6d6d" opacity="0.78"/>
<rect x="421.60" y="518.00" width="4.28" height="1.00" fill="#6d6d6d" opacity="0.78"/>
<rect x="433.40" y="518.00" width="6.73" height="1.00" fill="#6d6d6d" opacity="0.78"/>
<rect x="444.40" y="518.00" width="3.74" height="1.00" fill="#6d6d6d" opacity="0.78"/>
<rect x="456.60" y="518.00" width="3.12" height="1.00" fill="#6d6d6d" opacity="0.78"/>
<rect x="397.40" y="520.20" width="5.71" height="1.00" fill="#6d6d6d" opacity="0.78"/>
<rect x="409.00" y="520.20" width="5.94" height="1.00" fill="#6d6d6d" opacity="0.78"/>
<rect x="421.60" y="520.20" width="5.27" height="1.00" fill="#6d6d6d" opacity="0.78"/>
<rect x="433.40" y="520.20" width="6.21" height="1.00" fill="#6d6d6d" opacity="0.78"/>
<rect x="444.40" y="520.20" width="3.82" height="1.00" fill="#6d6d6d" opacity="0.78"/>
<rect x="456.60" y="520.20" width="3.86" height="1.00" fill="#6d6d6d" opacity="0.78"/>
<rect x="397.40" y="522.40" width="4.71" height="1.00" fill="#6d6d6d" opacity="0.78"/>
<rect x="409.00" y="522.40" width="5.21" height="1.00" fill="#6d6d6d" opacity="0.78"/>
<rect x="421.60" y="522.40" width="5.26" height="1.00" fill="#6d6d6d" opacity="0.78"/>
<rect x="433.40" y="522.40" width="7.40" height="1.00" fill="#6d6d6d" opacity="0.78"/>
<rect x="444.40" y="522.40" width="3.33" height="1.00" fill="#6d6d6d" opacity="0.78"/>
<rect x="456.60" y="522.40" width="3.55" height="1.00" fill="#6d6d6d" opacity="0.78"/>
<rect x="397.40" y="524.60" width="5.65" height="1.00" fill="#6d6d6d" opacity="0.78"/>
<rect x="409.00" y="524.60" width="5.68" height="1.00" fill="#6d6d6d" opacity="0.78"/>
<rect x="421.60" y="524.60" width="4.80" height="1.00" fill="#6d6d6d" opacity="0.78"/>
<rect x="433.40" y="524.60" width="6.13" height="1.00" fill="#6d6d6d" opacity="0.78"/>
<rect x="444.40" y="524.60" width="3.46" height="1.00" fill="#6d6d6d" opacity="0.78"/>
<rect x="456.60" y="524.60" width="3.70" height="1.00" fill="#6d6d6d" opacity="0.78"/>
<rect x="397.40" y="526.80" width="5.17" height="1.00" fill="#6d6d6d" opacity="0.78"/>
<rect x="409.00" y="526.80" width="5.78" height="1.00" fill="#6d6d6d" opacity="0.78"/>
<rect x="421.60" y="526.80" width="5.41" height="1.00" fill="#6d6d6d" opacity="0.78"/>
<rect x="433.40" y="526.80" width="5.58" height="1.00" fill="#6d6d6d" opacity="0.78"/>
<rect x="444.40" y="526.80" width="3.67" height="1.00" fill="#6d6d6d" opacity="0.78"/>
<rect x="456.60" y="526.80" width="3.85" height="1.00" fill="#6d6d6d" opacity="0.78"/>
<rect x="397.40" y="529.00" width="5.19" height="1.00" fill="#6d6d6d" opacity="0.78"/>
<rect x="409.00" y="529.00" width="5.50" height="1.00" fill="#6d6d6d" opacity="0.78"/>
<rect x="421.60" y="529.00" width="5.46" height="1.00" fill="#6d6d6d" opacity="0.78"/>
<rect x="433.40" y="529.00" width="5.99" height="1.00" fill="#6d6d6d" opacity="0.78"/>
<rect x="444.40" y="529.00" width="3.26" height="1.00" fill="#6d6d6d" opacity="0.78"/>
<rect x="456.60" y="529.00" width="3.53" height="1.00" fill="#6d6d6d" opacity="0.78"/>
<rect x="397.40" y="531.20" width="5.83" height="1.00" fill="#6d6d6d" opacity="0.78"/>
<rect x="409.00" y="531.20" width="5.28" height="1.00" fill="#6d6d6d" opacity="0.78"/>
<rect x="421.60" y="531.20" width="4.73" height="1.00" fill="#6d6d6d" opacity="0.78"/>
<rect x="433.40" y="531.20" width="6.18" height="1.00" fill="#6d6d6d" opacity="0.78"/>
<rect x="444.40" y="531.20" width="3.96" height="1.00" fill="#6d6d6d" opacity="0.78"/>
<rect x="456.60" y="531.20" width="3.53" height="1.00" fill="#6d6d6d" opacity="0.78"/>
<rect x="397.40" y="533.40" width="6.09" height="1.00" fill="#6d6d6d" opacity="0.78"/>
<rect x="409.00" y="533.40" width="5.40" height="1.00" fill="#6d6d6d" opacity="0.78"/>
<rect x="421.60" y="533.40" width="4.76" height="1.00" fill="#6d6d6d" opacity="0.78"/>
<rect x="433.40" y="533.40" width="6.79" height="1.00" fill="#6d6d6d" opacity="0.78"/>
<rect x="444.40" y="533.40" width="4.02" height="1.00" fill="#6d6d6d" opacity="0.78"/>
<rect x="456.60" y="533.40" width="3.55" height="1.00" fill="#6d6d6d" opacity="0.78"/>
<rect x="397.40" y="535.60" width="5.05" height="1.00" fill="#6d6d6d" opacity="0.78"/>
<rect x="409.00" y="535.60" width="5.32" height="1.00" fill="#6d6d6d" opacity="0.78"/>
<rect x="421.60" y="535.60" width="5.04" height="1.00" fill="#6d6d6d" opacity="0.78"/>
<rect x="433.40" y="535.60" width="5.90" height="1.00" fill="#6d6d6d" opacity="0.78"/>
<rect x="444.40" y="535.60" width="3.93" height="1.00" fill="#6d6d6d" opacity="0.78"/>
<rect x="456.60" y="535.60" width="3.97" height="1.00" fill="#6d6d6d" opacity="0.78"/>
<rect x="397.40" y="537.80" width="4.98" height="1.00" fill="#6d6d6d" opacity="0.78"/>
<rect x="409.00" y="537.80" width="5.60" height="1.00" fill="#6d6d6d" opacity="0.78"/>
<rect x="421.60" y="537.80" width="5.46" height="1.00" fill="#6d6d6d" opacity="0.78"/>
<rect x="433.40" y="537.80" width="6.78" height="1.00" fill="#6d6d6d" opacity="0.78"/>
<rect x="444.40" y="537.80" width="3.93" height="1.00" fill="#6d6d6d" opacity="0.78"/>
<rect x="456.60" y="537.80" width="3.43" height="1.00" fill="#6d6d6d" opacity="0.78"/>
<rect x="397.40" y="540.00" width="4.89" height="1.00" fill="#6d6d6d" opacity="0.78"/>
<rect x="409.00" y="540.00" width="5.63" height="1.00" fill="#6d6d6d" opacity="0.78"/>
<rect x="421.60" y="540.00" width="5.44" height="1.00" fill="#6d6d6d" opacity="0.78"/>
<rect x="433.40" y="540.00" width="6.05" height="1.00" fill="#6d6d6d" opacity="0.78"/>
<rect x="444.40" y="540.00" width="3.43" height="1.00" fill="#6d6d6d" opacity="0.78"/>
<rect x="456.60" y="540.00" width="3.51" height="1.00" fill="#6d6d6d" opacity="0.78"/>
<rect x="397.40" y="542.20" width="5.37" height="1.00" fill="#6d6d6d" opacity="0.78"/>
<rect x="409.00" y="542.20" width="5.84" height="1.00" fill="#6d6d6d" opacity="0.78"/>
<rect x="421.60" y="542.20" width="5.63" height="1.00" fill="#6d6d6d" opacity="0.78"/>
<rect x="433.40" y="542.20" width="5.83" height="1.00" fill="#6d6d6d" opacity="0.78"/>
<rect x="444.40" y="542.20" width="3.07" height="1.00" fill="#6d6d6d" opacity="0.78"/>
<rect x="456.60" y="542.20" width="4.08" height="1.00" fill="#6d6d6d" opacity="0.78"/>
<rect x="397.40" y="544.40" width="6.13" height="1.00" fill="#6d6d6d" opacity="0.78"/>
<rect x="409.00" y="544.40" width="6.88" height="1.00" fill="#6d6d6d" opacity="0.78"/>
<rect x="421.60" y="544.40" width="4.90" height="1.00" fill="#6d6d6d" opacity="0.78"/>
<rect x="433.40" y="544.40" width="7.38" height="1.00" fill="#6d6d6d" opacity="0.78"/>
<rect x="444.40" y="544.40" width="4.06" height="1.00" fill="#6d6d6d" opacity="0.78"/>
<rect x="456.60" y="544.40" width="3.30" height="1.00" fill="#6d6d6d" opacity="0.78"/>
<rect x="397.40" y="546.60" width="5.91" height="1.00" fill="#6d6d6d" opacity="0.78"/>
<rect x="409.00" y="546.60" width="6.61" height="1.00" fill="#6d6d6d" opacity="0.78"/>
<rect x="421.60" y="546.60" width="5.24" height="1.00" fill="#6d6d6d" opacity="0.78"/>
<rect x="433.40" y="546.60" width="6.54" height="1.00" fill="#6d6d6d" opacity="0.78"/>
<rect x="444.40" y="546.60" width="3.37" height="1.00" fill="#6d6d6d" opacity="0.78"/>
<rect x="456.60" y="546.60" width="3.43" height="1.00" fill="#6d6d6d" opacity="0.78"/>
<rect x="397.40" y="548.80" width="5.05" height="1.00" fill="#6d6d6d" opacity="0.78"/>
<rect x="409.00" y="548.80" width="5.22" height="1.00" fill="#6d6d6d" opacity="0.78"/>
<rect x="421.60" y="548.80" width="5.13" height="1.00" fill="#6d6d6d" opacity="0.78"/>
<rect x="433.40" y="548.80" width="6.08" height="1.00" fill="#6d6d6d" opacity="0.78"/>
<rect x="444.40" y="548.80" width="3.94" height="1.00" fill="#6d6d6d" opacity="0.78"/>
<rect x="456.60" y="548.80" width="3.11" height="1.00" fill="#6d6d6d" opacity="0.78"/>
<rect x="397.40" y="551.00" width="6.17" height="1.00" fill="#6d6d6d" opacity="0.78"/>
<rect x="409.00" y="551.00" width="6.35" height="1.00" fill="#6d6d6d" opacity="0.78"/>
<rect x="421.60" y="551.00" width="5.64" height="1.00" fill="#6d6d6d" opacity="0.78"/>
<rect x="433.40" y="551.00" width="7.27" height="1.00" fill="#6d6d6d" opacity="0.78"/>
<rect x="444.40" y="551.00" width="4.03" height="1.00" fill="#6d6d6d" opacity="0.78"/>
<rect x="456.60" y="551.00" width="3.68" height="1.00" fill="#6d6d6d" opacity="0.78"/>
<rect x="393.50" y="499.70" width="71.70" height="1.20" fill="#3f84cc" />
<rect x="393.50" y="500.70" width="71.70" height="1.80" fill="#dbe9f7" opacity="0.6"/>
<defs>
<linearGradient id="scrG" x1="0" y1="0" x2="0" y2="1"><stop offset="0" stop-color="#ffffff"/><stop offset="0.35" stop-color="#ffffff"/><stop offset="1" stop-color="#a9d8f4"/></linearGradient>
</defs>
<polygon points="604.60,176.80 664.90,211.10 744.10,163.30 742.60,159.30 664.90,206.60 605.60,173.30" fill="#d9d9d9" />
<polygon points="606.80,174.30 664.90,206.10 741.40,160.30 741.40,162.70 664.90,208.80 606.80,176.90" fill="#c6c6c6" />
<polygon points="607.60,174.30 685.60,130.20 740.60,160.30 664.90,205.60" fill="#3b3b3c" />
<g stroke="#c8c8c8" stroke-width="0.6" fill="none">
<line x1="618.98" y1="173.58" x2="687.44" y2="134.68"/>
<line x1="624.46" y1="176.58" x2="692.73" y2="137.57"/>
<line x1="629.95" y1="179.57" x2="698.02" y2="140.47"/>
<line x1="635.43" y1="182.57" x2="703.30" y2="143.36"/>
<line x1="640.91" y1="185.56" x2="708.59" y2="146.25"/>
<line x1="646.40" y1="188.56" x2="713.88" y2="149.15"/>
<line x1="618.98" y1="173.58" x2="646.40" y2="188.56"/>
<line x1="623.87" y1="170.80" x2="651.22" y2="185.74"/>
<line x1="628.76" y1="168.02" x2="656.04" y2="182.93"/>
<line x1="633.65" y1="165.24" x2="660.86" y2="180.11"/>
<line x1="638.54" y1="162.47" x2="665.68" y2="177.30"/>
<line x1="643.43" y1="159.69" x2="670.50" y2="174.48"/>
<line x1="648.32" y1="156.91" x2="675.32" y2="171.67"/>
<line x1="653.21" y1="154.13" x2="680.14" y2="168.85"/>
<line x1="658.10" y1="151.35" x2="684.96" y2="166.04"/>
<line x1="662.99" y1="148.57" x2="689.78" y2="163.22"/>
<line x1="667.88" y1="145.79" x2="694.60" y2="160.41"/>
<line x1="672.77" y1="143.01" x2="699.42" y2="157.59"/>
<line x1="677.66" y1="140.23" x2="704.24" y2="154.78"/>
<line x1="682.55" y1="137.46" x2="709.06" y2="151.96"/>
<line x1="687.44" y1="134.68" x2="713.88" y2="149.15"/>
</g>
<polygon points="658.40,176.04 683.00,161.75 687.58,164.25 663.04,178.58" fill="#3b3b3c" stroke="#bdbdbd" stroke-width="0.45"/>
<polygon points="696.62,153.58 708.16,146.88 713.12,149.60 701.61,156.31" fill="#8a8a8a" opacity="0.55"/>
<polygon points="672.10,178.33 693.53,165.77 708.04,173.71 686.79,186.36" fill="#9b9b9b" stroke="#7d7d7d" stroke-width="0.3"/>
<polygon points="607.00,114.70 683.50,71.20 684.30,129.90 607.80,174.10" fill="#4a4a4c" />
<polygon points="606.30,115.00 608.50,113.70 609.30,173.10 607.10,174.40" fill="#b4b4b4" />
<polygon points="606.50,114.90 683.50,70.60 684.90,71.70 608.40,116.00" fill="#a8a8a8" />
<defs><linearGradient id="lapG" gradientUnits="userSpaceOnUse" x1="646.8" y1="96.5" x2="646.8" y2="145.3"><stop offset="0" stop-color="#ffffff"/><stop offset="0.3" stop-color="#ffffff"/><stop offset="1" stop-color="#a6d6f3"/></linearGradient><clipPath id="lapC"><polygon points="611.60,116.70 682.00,76.20 682.00,125.10 611.60,165.60"/></clipPath></defs>
<polygon points="611.60,116.70 682.00,76.20 682.00,125.10 611.60,165.60" fill="url(#lapG)" />
<line x1="623.33" y1="109.95" x2="623.33" y2="158.85" stroke="#8c8c8c" stroke-width="0.9"/>
<line x1="635.07" y1="103.20" x2="635.07" y2="152.10" stroke="#8c8c8c" stroke-width="0.9"/>
<line x1="646.80" y1="96.45" x2="646.80" y2="145.35" stroke="#8c8c8c" stroke-width="0.9"/>
<line x1="658.53" y1="89.70" x2="658.53" y2="138.60" stroke="#8c8c8c" stroke-width="0.9"/>
<line x1="670.27" y1="82.95" x2="670.27" y2="131.85" stroke="#8c8c8c" stroke-width="0.9"/>
<line x1="611.60" y1="123.69" x2="682.00" y2="83.19" stroke="#3a3a3a" stroke-width="0.5"/>
<line x1="611.60" y1="130.67" x2="682.00" y2="90.17" stroke="#3a3a3a" stroke-width="0.5"/>
<line x1="611.60" y1="137.66" x2="682.00" y2="97.16" stroke="#3a3a3a" stroke-width="0.5"/>
<line x1="611.60" y1="144.64" x2="682.00" y2="104.14" stroke="#3a3a3a" stroke-width="0.5"/>
<line x1="611.60" y1="151.63" x2="682.00" y2="111.13" stroke="#3a3a3a" stroke-width="0.5"/>
<line x1="611.60" y1="158.61" x2="682.00" y2="118.11" stroke="#3a3a3a" stroke-width="0.5"/>
<g clip-path="url(#lapC)" fill="none" stroke-linecap="round">
<path d="M611.60,144.57 C612.19,143.58 613.95,140.53 615.12,138.64 C616.29,136.74 617.47,134.76 618.64,133.19 C619.81,131.62 620.99,130.29 622.16,129.21 C623.33,128.12 624.51,127.12 625.68,126.69 C626.85,126.26 627.91,126.06 629.20,126.62 C630.49,127.19 632.02,128.51 633.42,130.06 C634.83,131.62 636.36,134.57 637.65,135.94 C638.94,137.32 640.11,138.03 641.17,138.32 C642.22,138.61 642.81,138.35 643.98,137.68 C645.16,137.00 646.57,135.87 648.21,134.27 C649.85,132.67 651.73,130.21 653.84,128.10 C655.95,125.99 658.77,123.39 660.88,121.60 C662.99,119.82 664.75,118.56 666.51,117.38 C668.27,116.21 670.03,115.11 671.44,114.55 C672.85,113.98 673.79,113.93 674.96,113.99 C676.13,114.05 677.31,114.27 678.48,114.90 C679.65,115.53 681.41,117.29 682.00,117.76" stroke="#1f2f9a" stroke-width="1.35"/>
<path d="M611.60,164.13 C612.30,162.83 614.18,159.80 615.82,156.32 C617.47,152.85 619.58,147.64 621.46,143.30 C623.33,138.96 625.21,133.97 627.09,130.28 C628.97,126.60 630.92,123.43 632.72,121.18 C634.52,118.92 636.22,117.37 637.86,116.75 C639.50,116.13 640.85,116.66 642.58,117.46 C644.30,118.26 646.57,120.98 648.21,121.56 C649.85,122.14 651.02,121.83 652.43,120.94 C653.84,120.04 655.01,118.84 656.66,116.21 C658.30,113.58 660.53,108.44 662.29,105.14 C664.05,101.85 665.71,98.55 667.22,96.44 C668.72,94.33 670.01,92.98 671.30,92.48 C672.59,91.98 673.76,92.57 674.96,93.45 C676.16,94.34 677.31,96.13 678.48,97.78 C679.65,99.44 681.41,102.45 682.00,103.39" stroke="#d8262e" stroke-width="1.35"/>
</g>
<polygon points="611.60,116.70 682.00,76.20 682.00,125.10 611.60,165.60" fill="none" stroke="#1c1c1c" stroke-width="0.80" stroke-linejoin="round"/>
<path d="M652.96,452.42 Q650.20,450.80 652.94,449.15 L710.26,414.55 Q713.00,412.90 715.77,414.50 L791.83,458.40 Q794.60,460.00 791.85,461.63 L733.35,496.27 Q730.60,497.90 727.84,496.28 Z" fill="#e3e3e3" />
<path d="M653.96,451.92 Q651.20,450.30 653.94,448.64 L710.26,414.56 Q713.00,412.90 715.77,414.50 L790.83,457.90 Q793.60,459.50 790.85,461.13 L733.35,495.27 Q730.60,496.90 727.84,495.28 Z" fill="#bcbcbc" />
<path d="M653.96,449.62 Q651.20,448.00 653.94,446.34 L710.26,412.26 Q713.00,410.60 715.77,412.20 L790.83,455.60 Q793.60,457.20 790.85,458.83 L733.35,492.97 Q730.60,494.60 727.84,492.98 Z" fill="#fbfbfb" stroke="#d4d4d4" stroke-width="0.5"/>
<defs><linearGradient id="tabG" gradientUnits="userSpaceOnUse" x1="678.0" y1="437.0" x2="765.0" y2="463.0"><stop offset="0" stop-color="#ffffff"/><stop offset="0.3" stop-color="#ffffff"/><stop offset="1" stop-color="#a6d6f3"/></linearGradient><clipPath id="tabC"><polygon points="663.00,446.00 713.00,416.00 780.00,454.00 730.00,484.00"/></clipPath></defs>
<polygon points="663.00,446.00 713.00,416.00 780.00,454.00 730.00,484.00" fill="url(#tabG)" />
<line x1="671.33" y1="441.00" x2="738.33" y2="479.00" stroke="#262626" stroke-width="0.65"/>
<line x1="679.67" y1="436.00" x2="746.67" y2="474.00" stroke="#262626" stroke-width="0.65"/>
<line x1="688.00" y1="431.00" x2="755.00" y2="469.00" stroke="#262626" stroke-width="0.65"/>
<line x1="696.33" y1="426.00" x2="763.33" y2="464.00" stroke="#262626" stroke-width="0.65"/>
<line x1="704.67" y1="421.00" x2="771.67" y2="459.00" stroke="#262626" stroke-width="0.65"/>
<line x1="672.57" y1="451.43" x2="722.57" y2="421.43" stroke="#262626" stroke-width="0.65"/>
<line x1="682.14" y1="456.86" x2="732.14" y2="426.86" stroke="#262626" stroke-width="0.65"/>
<line x1="691.71" y1="462.29" x2="741.71" y2="432.29" stroke="#262626" stroke-width="0.65"/>
<line x1="701.29" y1="467.71" x2="751.29" y2="437.71" stroke="#262626" stroke-width="0.65"/>
<line x1="710.86" y1="473.14" x2="760.86" y2="443.14" stroke="#262626" stroke-width="0.65"/>
<line x1="720.43" y1="478.57" x2="770.43" y2="448.57" stroke="#262626" stroke-width="0.65"/>
<g clip-path="url(#tabC)" fill="none" stroke-linecap="round">
<path d="M701.19,467.66 C700.71,466.90 699.17,464.57 698.33,463.12 C697.49,461.67 696.53,460.16 696.14,458.96 C695.75,457.76 695.69,456.76 695.96,455.94 C696.24,455.12 696.62,454.37 697.79,454.06 C698.96,453.75 700.27,453.62 702.97,454.08 C705.67,454.54 709.77,455.60 714.01,456.84 C718.25,458.08 724.58,460.40 728.40,461.50 C732.22,462.60 734.95,463.17 736.93,463.42 C738.91,463.67 739.44,463.48 740.27,462.98 C741.10,462.48 741.66,461.63 741.93,460.42 C742.20,459.21 741.64,457.34 741.91,455.74 C742.18,454.14 742.84,452.18 743.56,450.84 C744.28,449.50 745.19,448.56 746.22,447.68 C747.25,446.80 748.38,445.99 749.72,445.58 C751.06,445.17 752.39,445.15 754.23,445.22 C756.07,445.29 758.13,445.49 760.75,446.00 C763.37,446.51 768.42,447.92 769.95,448.30" stroke="#1f2f9a" stroke-width="1.5"/>
<path d="M727.99,482.86 C727.26,481.86 725.91,479.54 723.62,476.88 C721.33,474.22 717.35,470.21 714.22,466.88 C711.09,463.55 707.06,459.71 704.82,456.88 C702.58,454.05 701.18,451.63 700.78,449.92 C700.38,448.21 700.81,447.04 702.42,446.59 C704.03,446.14 706.78,446.58 710.46,447.24 C714.14,447.90 721.26,450.06 724.51,450.54 C727.76,451.02 729.10,450.81 729.99,450.15 C730.88,449.48 730.98,448.57 729.84,446.56 C728.70,444.55 725.00,440.60 723.12,438.08 C721.24,435.56 719.22,433.03 718.58,431.42 C717.94,429.81 718.02,428.79 719.27,428.43 C720.52,428.07 723.08,428.55 726.09,429.26 C729.10,429.97 733.27,431.39 737.30,432.70 C741.33,434.01 748.09,436.39 750.25,437.13" stroke="#d8262e" stroke-width="1.5"/>
</g>
<polygon points="663.00,446.00 713.00,416.00 780.00,454.00 730.00,484.00" fill="none" stroke="#1c1c1c" stroke-width="1.04" stroke-linejoin="round"/>
<ellipse cx="761" cy="470.8" rx="2.6" ry="1.6" fill="#fafafa" stroke="#bdbdbd" stroke-width="0.5"/>
<path d="M558.05,513.70 Q555.80,512.40 558.03,511.07 L581.37,497.13 Q583.60,495.80 585.83,497.13 L627.97,522.17 Q630.20,523.50 627.99,524.87 L605.81,538.63 Q603.60,540.00 601.35,538.70 Z" fill="#d6d6d6" />
<path d="M558.65,513.30 Q556.40,512.00 558.63,510.67 L581.37,497.13 Q583.60,495.80 585.84,497.13 L627.36,521.77 Q629.60,523.10 627.39,524.47 L605.81,537.83 Q603.60,539.20 601.35,537.90 Z" fill="#a9a9a9" />
<path d="M558.65,511.50 Q556.40,510.20 558.63,508.87 L581.37,495.33 Q583.60,494.00 585.84,495.33 L627.36,519.97 Q629.60,521.30 627.39,522.67 L605.81,536.03 Q603.60,537.40 601.35,536.10 Z" fill="#fbfbfb" stroke="#cfcfcf" stroke-width="0.4"/>
<defs><linearGradient id="phG" gradientUnits="userSpaceOnUse" x1="567.8" y1="505.6" x2="615.9" y2="522.5"><stop offset="0" stop-color="#ffffff"/><stop offset="0.3" stop-color="#ffffff"/><stop offset="1" stop-color="#a6d6f3"/></linearGradient><clipPath id="phC"><polygon points="561.00,509.60 583.75,496.20 622.75,518.50 600.00,531.90"/></clipPath></defs>
<polygon points="561.00,509.60 583.75,496.20 622.75,518.50 600.00,531.90" fill="url(#phG)" />
<line x1="565.55" y1="506.92" x2="604.55" y2="529.22" stroke="#2a2a2a" stroke-width="0.4"/>
<line x1="570.10" y1="504.24" x2="609.10" y2="526.54" stroke="#2a2a2a" stroke-width="0.4"/>
<line x1="574.65" y1="501.56" x2="613.65" y2="523.86" stroke="#2a2a2a" stroke-width="0.4"/>
<line x1="579.20" y1="498.88" x2="618.20" y2="521.18" stroke="#2a2a2a" stroke-width="0.4"/>
<line x1="565.33" y1="512.08" x2="588.08" y2="498.68" stroke="#2a2a2a" stroke-width="0.4"/>
<line x1="569.67" y1="514.56" x2="592.42" y2="501.16" stroke="#2a2a2a" stroke-width="0.4"/>
<line x1="574.00" y1="517.03" x2="596.75" y2="503.63" stroke="#2a2a2a" stroke-width="0.4"/>
<line x1="578.33" y1="519.51" x2="601.08" y2="506.11" stroke="#2a2a2a" stroke-width="0.4"/>
<line x1="582.67" y1="521.99" x2="605.42" y2="508.59" stroke="#2a2a2a" stroke-width="0.4"/>
<line x1="587.00" y1="524.47" x2="609.75" y2="511.07" stroke="#2a2a2a" stroke-width="0.4"/>
<line x1="591.33" y1="526.94" x2="614.08" y2="513.54" stroke="#2a2a2a" stroke-width="0.4"/>
<line x1="595.67" y1="529.42" x2="618.42" y2="516.02" stroke="#2a2a2a" stroke-width="0.4"/>
<g clip-path="url(#phC)" fill="none" stroke-linecap="round">
<path d="M574.78,517.48 C574.65,517.18 574.21,516.27 573.99,515.70 C573.76,515.14 573.49,514.54 573.43,514.07 C573.37,513.59 573.42,513.18 573.60,512.84 C573.78,512.51 574.00,512.19 574.50,512.04 C575.00,511.88 575.54,511.80 576.60,511.92 C577.66,512.04 579.24,512.37 580.87,512.77 C582.49,513.17 584.88,513.97 586.34,514.32 C587.81,514.67 588.87,514.84 589.66,514.89 C590.44,514.95 590.67,514.86 591.05,514.64 C591.43,514.41 591.72,514.05 591.93,513.55 C592.14,513.06 592.06,512.31 592.30,511.65 C592.54,511.00 592.97,510.18 593.37,509.62 C593.77,509.06 594.22,508.65 594.70,508.27 C595.19,507.89 595.72,507.53 596.30,507.34 C596.87,507.14 597.42,507.10 598.16,507.08 C598.90,507.06 599.72,507.09 600.75,507.24 C601.77,507.38 603.71,507.83 604.30,507.95" stroke="#1f2f9a" stroke-width="1.1"/>
<path d="M584.45,523.01 C584.24,522.62 583.88,521.71 583.16,520.69 C582.44,519.66 581.15,518.13 580.14,516.85 C579.14,515.57 577.81,514.11 577.13,513.01 C576.44,511.92 576.07,510.97 576.05,510.28 C576.02,509.59 576.29,509.11 576.98,508.89 C577.67,508.67 578.75,508.78 580.20,508.96 C581.64,509.14 584.36,509.84 585.65,509.96 C586.93,510.08 587.49,509.96 587.91,509.67 C588.32,509.38 588.44,509.00 588.13,508.21 C587.83,507.42 586.64,505.91 586.08,504.93 C585.53,503.95 584.91,502.97 584.78,502.33 C584.64,501.69 584.76,501.28 585.30,501.10 C585.84,500.92 586.84,501.06 588.00,501.27 C589.17,501.49 590.75,501.96 592.28,502.40 C593.82,502.84 596.38,503.64 597.19,503.89" stroke="#d8262e" stroke-width="1.1"/>
</g>
<polygon points="561.00,509.60 583.75,496.20 622.75,518.50 600.00,531.90" fill="none" stroke="#1c1c1c" stroke-width="0.64" stroke-linejoin="round"/>

<rect x="38.10" y="150.10" width="3.6" height="3.6" fill="#1673c2" transform="rotate(78.8 39.90 151.90)"/>
<rect x="40.61" y="162.83" width="3.6" height="3.6" fill="#1673c2" transform="rotate(78.8 42.41 164.63)"/>
<rect x="43.12" y="175.56" width="3.6" height="3.6" fill="#1673c2" transform="rotate(78.8 44.92 177.36)"/>
<rect x="45.63" y="188.29" width="3.6" height="3.6" fill="#1673c2" transform="rotate(78.8 47.43 190.09)"/>
<rect x="48.14" y="201.02" width="3.6" height="3.6" fill="#1673c2" transform="rotate(78.8 49.94 202.82)"/>
<rect x="50.65" y="213.75" width="3.6" height="3.6" fill="#1673c2" transform="rotate(78.8 52.45 215.55)"/>
<rect x="53.16" y="226.48" width="3.6" height="3.6" fill="#1673c2" transform="rotate(78.8 54.96 228.28)"/>
<rect x="55.67" y="239.21" width="3.6" height="3.6" fill="#1673c2" transform="rotate(78.8 57.47 241.01)"/>
<rect x="58.18" y="251.94" width="3.6" height="3.6" fill="#1673c2" transform="rotate(78.8 59.98 253.74)"/>
<rect x="60.69" y="264.67" width="3.6" height="3.6" fill="#1673c2" transform="rotate(78.8 62.49 266.47)"/>
<rect x="63.20" y="277.40" width="3.6" height="3.6" fill="#1673c2" transform="rotate(78.8 65.00 279.20)"/>
<polygon points="62.0,287.0 71.0,285.4 68.0,294.6" fill="#1673c2"/>
<rect x="160.00" y="172.50" width="3.6" height="3.6" fill="#1673c2" transform="rotate(119.6 161.80 174.30)"/>
<rect x="153.58" y="183.78" width="3.6" height="3.6" fill="#1673c2" transform="rotate(119.6 155.38 185.58)"/>
<rect x="147.16" y="195.06" width="3.6" height="3.6" fill="#1673c2" transform="rotate(119.6 148.96 196.86)"/>
<rect x="140.74" y="206.34" width="3.6" height="3.6" fill="#1673c2" transform="rotate(119.6 142.54 208.14)"/>
<rect x="134.32" y="217.62" width="3.6" height="3.6" fill="#1673c2" transform="rotate(119.6 136.12 219.42)"/>
<rect x="127.90" y="228.90" width="3.6" height="3.6" fill="#1673c2" transform="rotate(119.6 129.70 230.70)"/>
<rect x="121.48" y="240.18" width="3.6" height="3.6" fill="#1673c2" transform="rotate(119.6 123.28 241.98)"/>
<rect x="115.06" y="251.46" width="3.6" height="3.6" fill="#1673c2" transform="rotate(119.6 116.86 253.26)"/>
<rect x="108.64" y="262.74" width="3.6" height="3.6" fill="#1673c2" transform="rotate(119.6 110.44 264.54)"/>
<rect x="102.22" y="274.02" width="3.6" height="3.6" fill="#1673c2" transform="rotate(119.6 104.02 275.82)"/>
<polygon points="97.0,281.0 105.0,285.4 96.4,290.6" fill="#1673c2"/>
<rect x="145.65" y="350.35" width="3.5" height="3.5" fill="#d40f18" transform="rotate(-0.4 147.40 352.10)"/>
<rect x="160.05" y="350.25" width="3.5" height="3.5" fill="#d40f18" transform="rotate(-10.9 161.80 352.00)"/>
<rect x="174.05" y="347.55" width="3.5" height="3.5" fill="#d40f18" transform="rotate(-19.1 175.80 349.30)"/>
<rect x="187.05" y="343.05" width="3.5" height="3.5" fill="#d40f18" transform="rotate(-29.8 188.80 344.80)"/>
<rect x="199.25" y="336.05" width="3.5" height="3.5" fill="#d40f18" transform="rotate(-38.2 201.00 337.80)"/>
<rect x="210.45" y="327.25" width="3.5" height="3.5" fill="#d40f18" transform="rotate(-46.4 212.20 329.00)"/>
<rect x="220.45" y="316.75" width="3.5" height="3.5" fill="#d40f18" transform="rotate(-54.8 222.20 318.50)"/>
<rect x="228.35" y="305.55" width="3.5" height="3.5" fill="#d40f18" transform="rotate(-54.8 230.10 307.30)"/>
<rect x="145.65" y="356.15" width="3.5" height="3.5" fill="#d40f18" transform="rotate(0.0 147.40 357.90)"/>
<rect x="160.05" y="356.15" width="3.5" height="3.5" fill="#d40f18" transform="rotate(5.7 161.80 357.90)"/>
<rect x="174.05" y="357.55" width="3.5" height="3.5" fill="#d40f18" transform="rotate(14.5 175.80 359.30)"/>
<rect x="187.55" y="361.05" width="3.5" height="3.5" fill="#d40f18" transform="rotate(26.2 189.30 362.80)"/>
<rect x="200.35" y="367.35" width="3.5" height="3.5" fill="#d40f18" transform="rotate(35.0 202.10 369.10)"/>
<rect x="212.05" y="375.55" width="3.5" height="3.5" fill="#d40f18" transform="rotate(45.0 213.80 377.30)"/>
<rect x="222.05" y="385.55" width="3.5" height="3.5" fill="#d40f18" transform="rotate(56.0 223.80 387.30)"/>
<rect x="229.95" y="397.25" width="3.5" height="3.5" fill="#d40f18" transform="rotate(56.0 231.70 399.00)"/>
<polygon points="238.3,292.8 229.0,298.7 238.3,304.0" fill="#d40f18"/>
<polygon points="240.1,411.8 231.3,406.0 239.4,401.3" fill="#d40f18"/>
<path d="M129.8,347.9 Q135.9,353.5 130.4,359.2" fill="none" stroke="#9f1c28" stroke-width="1.6" stroke-linecap="round"/>
<path d="M133.2,344.9 Q141,353.5 133.8,362.1" fill="none" stroke="#9f1c28" stroke-width="1.9" stroke-linecap="round"/>
<rect x="469.25" y="303.95" width="3.5" height="3.5" fill="#d40f18" transform="rotate(54.7 471.00 305.70)"/>
<rect x="477.45" y="315.55" width="3.5" height="3.5" fill="#d40f18" transform="rotate(45.0 479.20 317.30)"/>
<rect x="487.45" y="325.55" width="3.5" height="3.5" fill="#d40f18" transform="rotate(34.6 489.20 327.30)"/>
<rect x="499.05" y="333.55" width="3.5" height="3.5" fill="#d40f18" transform="rotate(24.9 500.80 335.30)"/>
<rect x="511.95" y="339.55" width="3.5" height="3.5" fill="#d40f18" transform="rotate(14.0 513.70 341.30)"/>
<rect x="525.95" y="343.05" width="3.5" height="3.5" fill="#d40f18" transform="rotate(9.9 527.70 344.80)"/>
<rect x="539.65" y="345.45" width="3.5" height="3.5" fill="#d40f18" transform="rotate(0.0 541.40 347.20)"/>
<rect x="553.95" y="345.45" width="3.5" height="3.5" fill="#d40f18" transform="rotate(0.0 555.70 347.20)"/>
<rect x="471.15" y="395.55" width="3.5" height="3.5" fill="#d40f18" transform="rotate(-56.4 472.90 397.30)"/>
<rect x="479.05" y="383.65" width="3.5" height="3.5" fill="#d40f18" transform="rotate(-46.1 480.80 385.40)"/>
<rect x="488.85" y="373.45" width="3.5" height="3.5" fill="#d40f18" transform="rotate(-37.8 490.60 375.20)"/>
<rect x="500.05" y="364.75" width="3.5" height="3.5" fill="#d40f18" transform="rotate(-29.1 501.80 366.50)"/>
<rect x="512.65" y="357.75" width="3.5" height="3.5" fill="#d40f18" transform="rotate(-20.2 514.40 359.50)"/>
<rect x="525.95" y="352.85" width="3.5" height="3.5" fill="#d40f18" transform="rotate(-9.5 527.70 354.60)"/>
<rect x="539.65" y="350.55" width="3.5" height="3.5" fill="#d40f18" transform="rotate(0.0 541.40 352.30)"/>
<rect x="553.95" y="350.55" width="3.5" height="3.5" fill="#d40f18" transform="rotate(0.0 555.70 352.30)"/>
<polygon points="562.7,344.8 572.4,349.5 562.7,354.2" fill="#d40f18"/>
<rect x="663.50" y="221.10" width="3.4" height="3.4" fill="#d40f18" transform="rotate(101.0 665.20 222.80)"/>
<rect x="660.40" y="237.10" width="3.4" height="3.4" fill="#d40f18" transform="rotate(101.0 662.10 238.80)"/>
<rect x="657.30" y="253.10" width="3.4" height="3.4" fill="#d40f18" transform="rotate(101.0 659.00 254.80)"/>
<rect x="654.20" y="269.10" width="3.4" height="3.4" fill="#d40f18" transform="rotate(101.0 655.90 270.80)"/>
<rect x="651.10" y="285.10" width="3.4" height="3.4" fill="#d40f18" transform="rotate(101.0 652.80 286.80)"/>
<rect x="623.60" y="389.50" width="3.4" height="3.4" fill="#d40f18" transform="rotate(106.3 625.30 391.20)"/>
<rect x="618.93" y="405.42" width="3.4" height="3.4" fill="#d40f18" transform="rotate(106.3 620.63 407.12)"/>
<rect x="614.26" y="421.34" width="3.4" height="3.4" fill="#d40f18" transform="rotate(106.3 615.96 423.04)"/>
<rect x="609.59" y="437.26" width="3.4" height="3.4" fill="#d40f18" transform="rotate(106.3 611.29 438.96)"/>
<rect x="604.92" y="453.18" width="3.4" height="3.4" fill="#d40f18" transform="rotate(106.3 606.62 454.88)"/>
<rect x="600.25" y="469.10" width="3.4" height="3.4" fill="#d40f18" transform="rotate(106.3 601.95 470.80)"/>
<rect x="595.58" y="485.02" width="3.4" height="3.4" fill="#d40f18" transform="rotate(106.3 597.28 486.72)"/>
<rect x="680.40" y="372.70" width="3.4" height="3.4" fill="#d40f18" transform="rotate(83.3 682.10 374.40)"/>
<rect x="682.30" y="388.85" width="3.4" height="3.4" fill="#d40f18" transform="rotate(83.3 684.00 390.55)"/>
<rect x="684.20" y="405.00" width="3.4" height="3.4" fill="#d40f18" transform="rotate(83.3 685.90 406.70)"/>
<g fill="none" stroke="#d52b27" stroke-width="3.2" stroke-linecap="round" stroke-linejoin="round">
<path d="M633.3,363.2 L622.8,363.2 A20,20 0 0 1 614.5,325 A13.7,13.7 0 0 1 638.6,312.6 A10,10 0 0 1 643,321.5"/>
<path d="M638.6,312.6 A26.5,26.5 0 0 1 689.3,322.8"/>
<path d="M680.5,323.2 A20.4,20.4 0 1 1 686.4,363.2 L678,363.2"/>
<path d="M656.1,379.4 L656.1,341.8 M641.2,356.6 L656.1,341.6 L671,356.6"/>
</g>
</svg>
</body></html>
